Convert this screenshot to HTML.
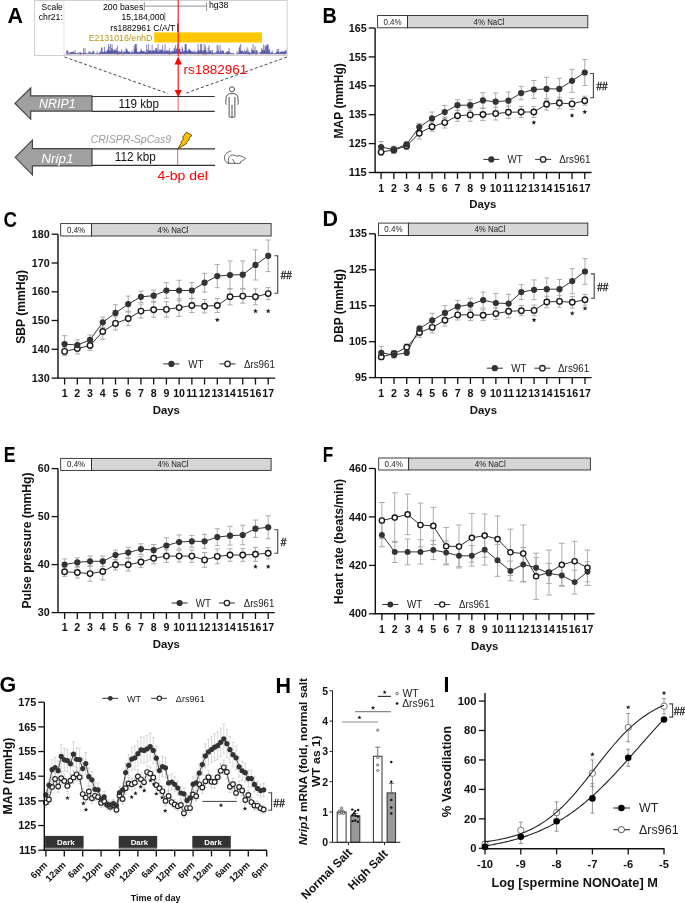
<!DOCTYPE html>
<html><head><meta charset="utf-8"><style>html,body{margin:0;padding:0;background:#fff;}svg{display:block;will-change:transform;}text{font-family:"Liberation Sans",sans-serif;}</style></head>
<body><svg width="685" height="903" viewBox="0 0 685 903" font-family='"Liberation Sans", sans-serif'>
<rect x="377.6" y="15.5" width="29.9" height="12.3" fill="#fff" stroke="#2a2a2a" stroke-width="0.9"/>
<rect x="407.5" y="15.5" width="180.3" height="12.3" fill="#d6d6d6" stroke="#2a2a2a" stroke-width="0.9"/>
<text x="392.55" y="24.55" font-size="8.6" font-weight="normal" text-anchor="middle" fill="#222" font-style="normal" textLength="18.2" lengthAdjust="spacingAndGlyphs">0.4%</text>
<text x="489.1" y="24.55" font-size="8.6" font-weight="normal" text-anchor="middle" fill="#222" font-style="normal" textLength="31" lengthAdjust="spacingAndGlyphs">4% NaCl</text>
<line x1="381.1" y1="141.5" x2="381.1" y2="152.5" stroke="#a4a4a4" stroke-width="0.9"/>
<line x1="378.5" y1="141.5" x2="383.7" y2="141.5" stroke="#a4a4a4" stroke-width="0.9"/>
<line x1="378.5" y1="152.5" x2="383.7" y2="152.5" stroke="#a4a4a4" stroke-width="0.9"/>
<line x1="393.83" y1="146.3" x2="393.83" y2="152.9" stroke="#a4a4a4" stroke-width="0.9"/>
<line x1="391.23" y1="146.3" x2="396.43" y2="146.3" stroke="#a4a4a4" stroke-width="0.9"/>
<line x1="391.23" y1="152.9" x2="396.43" y2="152.9" stroke="#a4a4a4" stroke-width="0.9"/>
<line x1="406.56" y1="142.2" x2="406.56" y2="146.6" stroke="#a4a4a4" stroke-width="0.9"/>
<line x1="403.96" y1="142.2" x2="409.16" y2="142.2" stroke="#a4a4a4" stroke-width="0.9"/>
<line x1="403.96" y1="146.6" x2="409.16" y2="146.6" stroke="#a4a4a4" stroke-width="0.9"/>
<line x1="419.29" y1="123.5" x2="419.29" y2="130.7" stroke="#a4a4a4" stroke-width="0.9"/>
<line x1="416.69" y1="123.5" x2="421.89" y2="123.5" stroke="#a4a4a4" stroke-width="0.9"/>
<line x1="416.69" y1="130.7" x2="421.89" y2="130.7" stroke="#a4a4a4" stroke-width="0.9"/>
<line x1="432.02" y1="112" x2="432.02" y2="124.8" stroke="#a4a4a4" stroke-width="0.9"/>
<line x1="429.42" y1="112" x2="434.62" y2="112" stroke="#a4a4a4" stroke-width="0.9"/>
<line x1="429.42" y1="124.8" x2="434.62" y2="124.8" stroke="#a4a4a4" stroke-width="0.9"/>
<line x1="444.75" y1="105.6" x2="444.75" y2="118.4" stroke="#a4a4a4" stroke-width="0.9"/>
<line x1="442.15" y1="105.6" x2="447.35" y2="105.6" stroke="#a4a4a4" stroke-width="0.9"/>
<line x1="442.15" y1="118.4" x2="447.35" y2="118.4" stroke="#a4a4a4" stroke-width="0.9"/>
<line x1="457.48" y1="99.8" x2="457.48" y2="110.6" stroke="#a4a4a4" stroke-width="0.9"/>
<line x1="454.88" y1="99.8" x2="460.08" y2="99.8" stroke="#a4a4a4" stroke-width="0.9"/>
<line x1="454.88" y1="110.6" x2="460.08" y2="110.6" stroke="#a4a4a4" stroke-width="0.9"/>
<line x1="470.21" y1="99.8" x2="470.21" y2="110.6" stroke="#a4a4a4" stroke-width="0.9"/>
<line x1="467.61" y1="99.8" x2="472.81" y2="99.8" stroke="#a4a4a4" stroke-width="0.9"/>
<line x1="467.61" y1="110.6" x2="472.81" y2="110.6" stroke="#a4a4a4" stroke-width="0.9"/>
<line x1="482.94" y1="92.7" x2="482.94" y2="108.1" stroke="#a4a4a4" stroke-width="0.9"/>
<line x1="480.34" y1="92.7" x2="485.54" y2="92.7" stroke="#a4a4a4" stroke-width="0.9"/>
<line x1="480.34" y1="108.1" x2="485.54" y2="108.1" stroke="#a4a4a4" stroke-width="0.9"/>
<line x1="495.67" y1="93" x2="495.67" y2="110.4" stroke="#a4a4a4" stroke-width="0.9"/>
<line x1="493.07" y1="93" x2="498.27" y2="93" stroke="#a4a4a4" stroke-width="0.9"/>
<line x1="493.07" y1="110.4" x2="498.27" y2="110.4" stroke="#a4a4a4" stroke-width="0.9"/>
<line x1="508.4" y1="92" x2="508.4" y2="109.4" stroke="#a4a4a4" stroke-width="0.9"/>
<line x1="505.8" y1="92" x2="511" y2="92" stroke="#a4a4a4" stroke-width="0.9"/>
<line x1="505.8" y1="109.4" x2="511" y2="109.4" stroke="#a4a4a4" stroke-width="0.9"/>
<line x1="521.13" y1="86.3" x2="521.13" y2="99.7" stroke="#a4a4a4" stroke-width="0.9"/>
<line x1="518.53" y1="86.3" x2="523.73" y2="86.3" stroke="#a4a4a4" stroke-width="0.9"/>
<line x1="518.53" y1="99.7" x2="523.73" y2="99.7" stroke="#a4a4a4" stroke-width="0.9"/>
<line x1="533.86" y1="80.5" x2="533.86" y2="98.5" stroke="#a4a4a4" stroke-width="0.9"/>
<line x1="531.26" y1="80.5" x2="536.46" y2="80.5" stroke="#a4a4a4" stroke-width="0.9"/>
<line x1="531.26" y1="98.5" x2="536.46" y2="98.5" stroke="#a4a4a4" stroke-width="0.9"/>
<line x1="546.59" y1="77.3" x2="546.59" y2="100.5" stroke="#a4a4a4" stroke-width="0.9"/>
<line x1="543.99" y1="77.3" x2="549.19" y2="77.3" stroke="#a4a4a4" stroke-width="0.9"/>
<line x1="543.99" y1="100.5" x2="549.19" y2="100.5" stroke="#a4a4a4" stroke-width="0.9"/>
<line x1="559.32" y1="78.3" x2="559.32" y2="99.5" stroke="#a4a4a4" stroke-width="0.9"/>
<line x1="556.72" y1="78.3" x2="561.92" y2="78.3" stroke="#a4a4a4" stroke-width="0.9"/>
<line x1="556.72" y1="99.5" x2="561.92" y2="99.5" stroke="#a4a4a4" stroke-width="0.9"/>
<line x1="572.05" y1="69.3" x2="572.05" y2="92.3" stroke="#a4a4a4" stroke-width="0.9"/>
<line x1="569.45" y1="69.3" x2="574.65" y2="69.3" stroke="#a4a4a4" stroke-width="0.9"/>
<line x1="569.45" y1="92.3" x2="574.65" y2="92.3" stroke="#a4a4a4" stroke-width="0.9"/>
<line x1="584.78" y1="59.5" x2="584.78" y2="85.5" stroke="#a4a4a4" stroke-width="0.9"/>
<line x1="582.18" y1="59.5" x2="587.38" y2="59.5" stroke="#a4a4a4" stroke-width="0.9"/>
<line x1="582.18" y1="85.5" x2="587.38" y2="85.5" stroke="#a4a4a4" stroke-width="0.9"/>
<line x1="381.1" y1="148.9" x2="381.1" y2="155.3" stroke="#a4a4a4" stroke-width="0.9"/>
<line x1="378.5" y1="148.9" x2="383.7" y2="148.9" stroke="#a4a4a4" stroke-width="0.9"/>
<line x1="378.5" y1="155.3" x2="383.7" y2="155.3" stroke="#a4a4a4" stroke-width="0.9"/>
<line x1="393.83" y1="146.4" x2="393.83" y2="153.4" stroke="#a4a4a4" stroke-width="0.9"/>
<line x1="391.23" y1="146.4" x2="396.43" y2="146.4" stroke="#a4a4a4" stroke-width="0.9"/>
<line x1="391.23" y1="153.4" x2="396.43" y2="153.4" stroke="#a4a4a4" stroke-width="0.9"/>
<line x1="406.56" y1="142.4" x2="406.56" y2="149.6" stroke="#a4a4a4" stroke-width="0.9"/>
<line x1="403.96" y1="142.4" x2="409.16" y2="142.4" stroke="#a4a4a4" stroke-width="0.9"/>
<line x1="403.96" y1="149.6" x2="409.16" y2="149.6" stroke="#a4a4a4" stroke-width="0.9"/>
<line x1="419.29" y1="127.4" x2="419.29" y2="139" stroke="#a4a4a4" stroke-width="0.9"/>
<line x1="416.69" y1="127.4" x2="421.89" y2="127.4" stroke="#a4a4a4" stroke-width="0.9"/>
<line x1="416.69" y1="139" x2="421.89" y2="139" stroke="#a4a4a4" stroke-width="0.9"/>
<line x1="432.02" y1="122.2" x2="432.02" y2="131.2" stroke="#a4a4a4" stroke-width="0.9"/>
<line x1="429.42" y1="122.2" x2="434.62" y2="122.2" stroke="#a4a4a4" stroke-width="0.9"/>
<line x1="429.42" y1="131.2" x2="434.62" y2="131.2" stroke="#a4a4a4" stroke-width="0.9"/>
<line x1="444.75" y1="117.2" x2="444.75" y2="128" stroke="#a4a4a4" stroke-width="0.9"/>
<line x1="442.15" y1="117.2" x2="447.35" y2="117.2" stroke="#a4a4a4" stroke-width="0.9"/>
<line x1="442.15" y1="128" x2="447.35" y2="128" stroke="#a4a4a4" stroke-width="0.9"/>
<line x1="457.48" y1="110.3" x2="457.48" y2="121.3" stroke="#a4a4a4" stroke-width="0.9"/>
<line x1="454.88" y1="110.3" x2="460.08" y2="110.3" stroke="#a4a4a4" stroke-width="0.9"/>
<line x1="454.88" y1="121.3" x2="460.08" y2="121.3" stroke="#a4a4a4" stroke-width="0.9"/>
<line x1="470.21" y1="108.5" x2="470.21" y2="121.3" stroke="#a4a4a4" stroke-width="0.9"/>
<line x1="467.61" y1="108.5" x2="472.81" y2="108.5" stroke="#a4a4a4" stroke-width="0.9"/>
<line x1="467.61" y1="121.3" x2="472.81" y2="121.3" stroke="#a4a4a4" stroke-width="0.9"/>
<line x1="482.94" y1="108.4" x2="482.94" y2="120.6" stroke="#a4a4a4" stroke-width="0.9"/>
<line x1="480.34" y1="108.4" x2="485.54" y2="108.4" stroke="#a4a4a4" stroke-width="0.9"/>
<line x1="480.34" y1="120.6" x2="485.54" y2="120.6" stroke="#a4a4a4" stroke-width="0.9"/>
<line x1="495.67" y1="107.2" x2="495.67" y2="120" stroke="#a4a4a4" stroke-width="0.9"/>
<line x1="493.07" y1="107.2" x2="498.27" y2="107.2" stroke="#a4a4a4" stroke-width="0.9"/>
<line x1="493.07" y1="120" x2="498.27" y2="120" stroke="#a4a4a4" stroke-width="0.9"/>
<line x1="508.4" y1="106.2" x2="508.4" y2="118.4" stroke="#a4a4a4" stroke-width="0.9"/>
<line x1="505.8" y1="106.2" x2="511" y2="106.2" stroke="#a4a4a4" stroke-width="0.9"/>
<line x1="505.8" y1="118.4" x2="511" y2="118.4" stroke="#a4a4a4" stroke-width="0.9"/>
<line x1="521.13" y1="106.6" x2="521.13" y2="117.4" stroke="#a4a4a4" stroke-width="0.9"/>
<line x1="518.53" y1="106.6" x2="523.73" y2="106.6" stroke="#a4a4a4" stroke-width="0.9"/>
<line x1="518.53" y1="117.4" x2="523.73" y2="117.4" stroke="#a4a4a4" stroke-width="0.9"/>
<line x1="533.86" y1="106.6" x2="533.86" y2="117.4" stroke="#a4a4a4" stroke-width="0.9"/>
<line x1="531.26" y1="106.6" x2="536.46" y2="106.6" stroke="#a4a4a4" stroke-width="0.9"/>
<line x1="531.26" y1="117.4" x2="536.46" y2="117.4" stroke="#a4a4a4" stroke-width="0.9"/>
<line x1="546.59" y1="98.6" x2="546.59" y2="110" stroke="#a4a4a4" stroke-width="0.9"/>
<line x1="543.99" y1="98.6" x2="549.19" y2="98.6" stroke="#a4a4a4" stroke-width="0.9"/>
<line x1="543.99" y1="110" x2="549.19" y2="110" stroke="#a4a4a4" stroke-width="0.9"/>
<line x1="559.32" y1="97.2" x2="559.32" y2="108.8" stroke="#a4a4a4" stroke-width="0.9"/>
<line x1="556.72" y1="97.2" x2="561.92" y2="97.2" stroke="#a4a4a4" stroke-width="0.9"/>
<line x1="556.72" y1="108.8" x2="561.92" y2="108.8" stroke="#a4a4a4" stroke-width="0.9"/>
<line x1="572.05" y1="98.4" x2="572.05" y2="109.4" stroke="#a4a4a4" stroke-width="0.9"/>
<line x1="569.45" y1="98.4" x2="574.65" y2="98.4" stroke="#a4a4a4" stroke-width="0.9"/>
<line x1="569.45" y1="109.4" x2="574.65" y2="109.4" stroke="#a4a4a4" stroke-width="0.9"/>
<line x1="584.78" y1="96.2" x2="584.78" y2="105.2" stroke="#a4a4a4" stroke-width="0.9"/>
<line x1="582.18" y1="96.2" x2="587.38" y2="96.2" stroke="#a4a4a4" stroke-width="0.9"/>
<line x1="582.18" y1="105.2" x2="587.38" y2="105.2" stroke="#a4a4a4" stroke-width="0.9"/>
<polyline points="381.1,152.1 393.83,149.9 406.56,146 419.29,133.2 432.02,126.7 444.75,122.6 457.48,115.8 470.21,114.9 482.94,114.5 495.67,113.6 508.4,112.3 521.13,112 533.86,112 546.59,104.3 559.32,103 572.05,103.9 584.78,100.7" fill="none" stroke="#333" stroke-width="1"/>
<polyline points="381.1,147 393.83,149.6 406.56,144.4 419.29,127.1 432.02,118.4 444.75,112 457.48,105.2 470.21,105.2 482.94,100.4 495.67,101.7 508.4,100.7 521.13,93 533.86,89.5 546.59,88.9 559.32,88.9 572.05,80.8 584.78,72.5" fill="none" stroke="#333" stroke-width="1"/>
<circle cx="381.1" cy="152.1" r="2.75" fill="#fff" stroke="#1a1a1a" stroke-width="1.4"/>
<circle cx="393.83" cy="149.9" r="2.75" fill="#fff" stroke="#1a1a1a" stroke-width="1.4"/>
<circle cx="406.56" cy="146" r="2.75" fill="#fff" stroke="#1a1a1a" stroke-width="1.4"/>
<circle cx="419.29" cy="133.2" r="2.75" fill="#fff" stroke="#1a1a1a" stroke-width="1.4"/>
<circle cx="432.02" cy="126.7" r="2.75" fill="#fff" stroke="#1a1a1a" stroke-width="1.4"/>
<circle cx="444.75" cy="122.6" r="2.75" fill="#fff" stroke="#1a1a1a" stroke-width="1.4"/>
<circle cx="457.48" cy="115.8" r="2.75" fill="#fff" stroke="#1a1a1a" stroke-width="1.4"/>
<circle cx="470.21" cy="114.9" r="2.75" fill="#fff" stroke="#1a1a1a" stroke-width="1.4"/>
<circle cx="482.94" cy="114.5" r="2.75" fill="#fff" stroke="#1a1a1a" stroke-width="1.4"/>
<circle cx="495.67" cy="113.6" r="2.75" fill="#fff" stroke="#1a1a1a" stroke-width="1.4"/>
<circle cx="508.4" cy="112.3" r="2.75" fill="#fff" stroke="#1a1a1a" stroke-width="1.4"/>
<circle cx="521.13" cy="112" r="2.75" fill="#fff" stroke="#1a1a1a" stroke-width="1.4"/>
<circle cx="533.86" cy="112" r="2.75" fill="#fff" stroke="#1a1a1a" stroke-width="1.4"/>
<circle cx="546.59" cy="104.3" r="2.75" fill="#fff" stroke="#1a1a1a" stroke-width="1.4"/>
<circle cx="559.32" cy="103" r="2.75" fill="#fff" stroke="#1a1a1a" stroke-width="1.4"/>
<circle cx="572.05" cy="103.9" r="2.75" fill="#fff" stroke="#1a1a1a" stroke-width="1.4"/>
<circle cx="584.78" cy="100.7" r="2.75" fill="#fff" stroke="#1a1a1a" stroke-width="1.4"/>
<circle cx="381.1" cy="147" r="3.1" fill="#333"/>
<circle cx="393.83" cy="149.6" r="3.1" fill="#333"/>
<circle cx="406.56" cy="144.4" r="3.1" fill="#333"/>
<circle cx="419.29" cy="127.1" r="3.1" fill="#333"/>
<circle cx="432.02" cy="118.4" r="3.1" fill="#333"/>
<circle cx="444.75" cy="112" r="3.1" fill="#333"/>
<circle cx="457.48" cy="105.2" r="3.1" fill="#333"/>
<circle cx="470.21" cy="105.2" r="3.1" fill="#333"/>
<circle cx="482.94" cy="100.4" r="3.1" fill="#333"/>
<circle cx="495.67" cy="101.7" r="3.1" fill="#333"/>
<circle cx="508.4" cy="100.7" r="3.1" fill="#333"/>
<circle cx="521.13" cy="93" r="3.1" fill="#333"/>
<circle cx="533.86" cy="89.5" r="3.1" fill="#333"/>
<circle cx="546.59" cy="88.9" r="3.1" fill="#333"/>
<circle cx="559.32" cy="88.9" r="3.1" fill="#333"/>
<circle cx="572.05" cy="80.8" r="3.1" fill="#333"/>
<circle cx="584.78" cy="72.5" r="3.1" fill="#333"/>
<path d="M375.1 28 L375.1 172.5 L591.6 172.5" fill="none" stroke="#111" stroke-width="1.4"/>
<line x1="368.7" y1="28" x2="375.1" y2="28" stroke="#111" stroke-width="1.3"/>
<text x="366.7" y="31.6" font-size="10.2" font-weight="bold" text-anchor="end" fill="#111" font-style="normal" textLength="17.85" lengthAdjust="spacingAndGlyphs">165</text>
<line x1="368.7" y1="56.9" x2="375.1" y2="56.9" stroke="#111" stroke-width="1.3"/>
<text x="366.7" y="60.5" font-size="10.2" font-weight="bold" text-anchor="end" fill="#111" font-style="normal" textLength="17.85" lengthAdjust="spacingAndGlyphs">155</text>
<line x1="368.7" y1="85.8" x2="375.1" y2="85.8" stroke="#111" stroke-width="1.3"/>
<text x="366.7" y="89.4" font-size="10.2" font-weight="bold" text-anchor="end" fill="#111" font-style="normal" textLength="17.85" lengthAdjust="spacingAndGlyphs">145</text>
<line x1="368.7" y1="114.7" x2="375.1" y2="114.7" stroke="#111" stroke-width="1.3"/>
<text x="366.7" y="118.3" font-size="10.2" font-weight="bold" text-anchor="end" fill="#111" font-style="normal" textLength="17.85" lengthAdjust="spacingAndGlyphs">135</text>
<line x1="368.7" y1="143.6" x2="375.1" y2="143.6" stroke="#111" stroke-width="1.3"/>
<text x="366.7" y="147.2" font-size="10.2" font-weight="bold" text-anchor="end" fill="#111" font-style="normal" textLength="17.85" lengthAdjust="spacingAndGlyphs">125</text>
<line x1="368.7" y1="172.5" x2="375.1" y2="172.5" stroke="#111" stroke-width="1.3"/>
<text x="366.7" y="176.1" font-size="10.2" font-weight="bold" text-anchor="end" fill="#111" font-style="normal" textLength="17.85" lengthAdjust="spacingAndGlyphs">115</text>
<line x1="381.1" y1="172.5" x2="381.1" y2="178.9" stroke="#111" stroke-width="1.3"/>
<line x1="393.83" y1="172.5" x2="393.83" y2="178.9" stroke="#111" stroke-width="1.3"/>
<line x1="406.56" y1="172.5" x2="406.56" y2="178.9" stroke="#111" stroke-width="1.3"/>
<line x1="419.29" y1="172.5" x2="419.29" y2="178.9" stroke="#111" stroke-width="1.3"/>
<line x1="432.02" y1="172.5" x2="432.02" y2="178.9" stroke="#111" stroke-width="1.3"/>
<line x1="444.75" y1="172.5" x2="444.75" y2="178.9" stroke="#111" stroke-width="1.3"/>
<line x1="457.48" y1="172.5" x2="457.48" y2="178.9" stroke="#111" stroke-width="1.3"/>
<line x1="470.21" y1="172.5" x2="470.21" y2="178.9" stroke="#111" stroke-width="1.3"/>
<line x1="482.94" y1="172.5" x2="482.94" y2="178.9" stroke="#111" stroke-width="1.3"/>
<line x1="495.67" y1="172.5" x2="495.67" y2="178.9" stroke="#111" stroke-width="1.3"/>
<line x1="508.4" y1="172.5" x2="508.4" y2="178.9" stroke="#111" stroke-width="1.3"/>
<line x1="521.13" y1="172.5" x2="521.13" y2="178.9" stroke="#111" stroke-width="1.3"/>
<line x1="533.86" y1="172.5" x2="533.86" y2="178.9" stroke="#111" stroke-width="1.3"/>
<line x1="546.59" y1="172.5" x2="546.59" y2="178.9" stroke="#111" stroke-width="1.3"/>
<line x1="559.32" y1="172.5" x2="559.32" y2="178.9" stroke="#111" stroke-width="1.3"/>
<line x1="572.05" y1="172.5" x2="572.05" y2="178.9" stroke="#111" stroke-width="1.3"/>
<line x1="584.78" y1="172.5" x2="584.78" y2="178.9" stroke="#111" stroke-width="1.3"/>
<text x="381.1" y="192" font-size="10.6" font-weight="bold" text-anchor="middle" fill="#111" font-style="normal">1</text>
<text x="393.83" y="192" font-size="10.6" font-weight="bold" text-anchor="middle" fill="#111" font-style="normal">2</text>
<text x="406.56" y="192" font-size="10.6" font-weight="bold" text-anchor="middle" fill="#111" font-style="normal">3</text>
<text x="419.29" y="192" font-size="10.6" font-weight="bold" text-anchor="middle" fill="#111" font-style="normal">4</text>
<text x="432.02" y="192" font-size="10.6" font-weight="bold" text-anchor="middle" fill="#111" font-style="normal">5</text>
<text x="444.75" y="192" font-size="10.6" font-weight="bold" text-anchor="middle" fill="#111" font-style="normal">6</text>
<text x="457.48" y="192" font-size="10.6" font-weight="bold" text-anchor="middle" fill="#111" font-style="normal">7</text>
<text x="470.21" y="192" font-size="10.6" font-weight="bold" text-anchor="middle" fill="#111" font-style="normal">8</text>
<text x="482.94" y="192" font-size="10.6" font-weight="bold" text-anchor="middle" fill="#111" font-style="normal">9</text>
<text x="495.67" y="192" font-size="10.6" font-weight="bold" text-anchor="middle" fill="#111" font-style="normal">10</text>
<text x="508.4" y="192" font-size="10.6" font-weight="bold" text-anchor="middle" fill="#111" font-style="normal">11</text>
<text x="521.13" y="192" font-size="10.6" font-weight="bold" text-anchor="middle" fill="#111" font-style="normal">12</text>
<text x="533.86" y="192" font-size="10.6" font-weight="bold" text-anchor="middle" fill="#111" font-style="normal">13</text>
<text x="546.59" y="192" font-size="10.6" font-weight="bold" text-anchor="middle" fill="#111" font-style="normal">14</text>
<text x="559.32" y="192" font-size="10.6" font-weight="bold" text-anchor="middle" fill="#111" font-style="normal">15</text>
<text x="572.05" y="192" font-size="10.6" font-weight="bold" text-anchor="middle" fill="#111" font-style="normal">16</text>
<text x="584.78" y="192" font-size="10.6" font-weight="bold" text-anchor="middle" fill="#111" font-style="normal">17</text>
<polygon points="533.86,119.98 534.53,121.58 536.26,121.72 534.94,122.85 535.34,124.54 533.86,123.63 532.38,124.54 532.78,122.85 531.46,121.72 533.19,121.58" fill="#222"/>
<polygon points="572.05,112.98 572.72,114.58 574.45,114.72 573.13,115.85 573.53,117.54 572.05,116.63 570.57,117.54 570.97,115.85 569.65,114.72 571.38,114.58" fill="#222"/>
<polygon points="584.78,109.48 585.45,111.08 587.18,111.22 585.86,112.35 586.26,114.04 584.78,113.13 583.3,114.04 583.7,112.35 582.38,111.22 584.11,111.08" fill="#222"/>
<path d="M590.1 73.5 H593.4 V97.7 H590.1" fill="none" stroke="#444" stroke-width="1.1"/>
<text x="596.4" y="90.4" font-size="10" font-weight="normal" text-anchor="start" fill="#111" font-style="normal" stroke="#111" stroke-width="0.3">##</text>
<line x1="483.3" y1="159.4" x2="499.3" y2="159.4" stroke="#333" stroke-width="1"/>
<circle cx="491.3" cy="159.4" r="3.1" fill="#333"/>
<line x1="535.1" y1="159.4" x2="551.1" y2="159.4" stroke="#333" stroke-width="1"/>
<circle cx="543.1" cy="159.4" r="2.7" fill="#fff" stroke="#222" stroke-width="1.3"/>
<text x="507.6" y="163.1" font-size="10.6" font-weight="normal" text-anchor="start" fill="#222" font-style="normal" textLength="15.2" lengthAdjust="spacingAndGlyphs">WT</text>
<text x="559.2" y="163.1" font-size="10.6" font-weight="normal" text-anchor="start" fill="#222" font-style="normal" textLength="31.3" lengthAdjust="spacingAndGlyphs">&#916;rs961</text>
<text transform="translate(343 100.8) rotate(-90)" x="0" y="0" font-size="12" font-weight="bold" text-anchor="middle" fill="#111" font-style="normal" textLength="75.3" lengthAdjust="spacingAndGlyphs">MAP (mmHg)</text>
<text x="482.8" y="207.9" font-size="11.5" font-weight="bold" text-anchor="middle" fill="#111" font-style="normal" textLength="27.3" lengthAdjust="spacingAndGlyphs">Days</text>
<rect x="60.7" y="223.6" width="30.8" height="12.4" fill="#fff" stroke="#2a2a2a" stroke-width="0.9"/>
<rect x="91.5" y="223.6" width="179.6" height="12.4" fill="#d6d6d6" stroke="#2a2a2a" stroke-width="0.9"/>
<text x="76.1" y="232.7" font-size="8.6" font-weight="normal" text-anchor="middle" fill="#222" font-style="normal" textLength="18.2" lengthAdjust="spacingAndGlyphs">0.4%</text>
<text x="173.1" y="232.7" font-size="8.6" font-weight="normal" text-anchor="middle" fill="#222" font-style="normal" textLength="31" lengthAdjust="spacingAndGlyphs">4% NaCl</text>
<line x1="64.6" y1="335.7" x2="64.6" y2="352.5" stroke="#a4a4a4" stroke-width="0.9"/>
<line x1="62" y1="335.7" x2="67.2" y2="335.7" stroke="#a4a4a4" stroke-width="0.9"/>
<line x1="62" y1="352.5" x2="67.2" y2="352.5" stroke="#a4a4a4" stroke-width="0.9"/>
<line x1="77.32" y1="339.9" x2="77.32" y2="350.3" stroke="#a4a4a4" stroke-width="0.9"/>
<line x1="74.72" y1="339.9" x2="79.92" y2="339.9" stroke="#a4a4a4" stroke-width="0.9"/>
<line x1="74.72" y1="350.3" x2="79.92" y2="350.3" stroke="#a4a4a4" stroke-width="0.9"/>
<line x1="90.05" y1="335" x2="90.05" y2="344.8" stroke="#a4a4a4" stroke-width="0.9"/>
<line x1="87.45" y1="335" x2="92.65" y2="335" stroke="#a4a4a4" stroke-width="0.9"/>
<line x1="87.45" y1="344.8" x2="92.65" y2="344.8" stroke="#a4a4a4" stroke-width="0.9"/>
<line x1="102.77" y1="317.1" x2="102.77" y2="327.5" stroke="#a4a4a4" stroke-width="0.9"/>
<line x1="100.17" y1="317.1" x2="105.37" y2="317.1" stroke="#a4a4a4" stroke-width="0.9"/>
<line x1="100.17" y1="327.5" x2="105.37" y2="327.5" stroke="#a4a4a4" stroke-width="0.9"/>
<line x1="115.5" y1="304.8" x2="115.5" y2="321" stroke="#a4a4a4" stroke-width="0.9"/>
<line x1="112.9" y1="304.8" x2="118.1" y2="304.8" stroke="#a4a4a4" stroke-width="0.9"/>
<line x1="112.9" y1="321" x2="118.1" y2="321" stroke="#a4a4a4" stroke-width="0.9"/>
<line x1="128.22" y1="296.1" x2="128.22" y2="312.1" stroke="#a4a4a4" stroke-width="0.9"/>
<line x1="125.62" y1="296.1" x2="130.82" y2="296.1" stroke="#a4a4a4" stroke-width="0.9"/>
<line x1="125.62" y1="312.1" x2="130.82" y2="312.1" stroke="#a4a4a4" stroke-width="0.9"/>
<line x1="140.95" y1="291.2" x2="140.95" y2="302.4" stroke="#a4a4a4" stroke-width="0.9"/>
<line x1="138.35" y1="291.2" x2="143.55" y2="291.2" stroke="#a4a4a4" stroke-width="0.9"/>
<line x1="138.35" y1="302.4" x2="143.55" y2="302.4" stroke="#a4a4a4" stroke-width="0.9"/>
<line x1="153.68" y1="290.1" x2="153.68" y2="301.3" stroke="#a4a4a4" stroke-width="0.9"/>
<line x1="151.08" y1="290.1" x2="156.28" y2="290.1" stroke="#a4a4a4" stroke-width="0.9"/>
<line x1="151.08" y1="301.3" x2="156.28" y2="301.3" stroke="#a4a4a4" stroke-width="0.9"/>
<line x1="166.4" y1="282.7" x2="166.4" y2="298.3" stroke="#a4a4a4" stroke-width="0.9"/>
<line x1="163.8" y1="282.7" x2="169" y2="282.7" stroke="#a4a4a4" stroke-width="0.9"/>
<line x1="163.8" y1="298.3" x2="169" y2="298.3" stroke="#a4a4a4" stroke-width="0.9"/>
<line x1="179.12" y1="280.3" x2="179.12" y2="300.7" stroke="#a4a4a4" stroke-width="0.9"/>
<line x1="176.53" y1="280.3" x2="181.72" y2="280.3" stroke="#a4a4a4" stroke-width="0.9"/>
<line x1="176.53" y1="300.7" x2="181.72" y2="300.7" stroke="#a4a4a4" stroke-width="0.9"/>
<line x1="191.85" y1="282.7" x2="191.85" y2="298.3" stroke="#a4a4a4" stroke-width="0.9"/>
<line x1="189.25" y1="282.7" x2="194.45" y2="282.7" stroke="#a4a4a4" stroke-width="0.9"/>
<line x1="189.25" y1="298.3" x2="194.45" y2="298.3" stroke="#a4a4a4" stroke-width="0.9"/>
<line x1="204.57" y1="273.3" x2="204.57" y2="292.1" stroke="#a4a4a4" stroke-width="0.9"/>
<line x1="201.97" y1="273.3" x2="207.17" y2="273.3" stroke="#a4a4a4" stroke-width="0.9"/>
<line x1="201.97" y1="292.1" x2="207.17" y2="292.1" stroke="#a4a4a4" stroke-width="0.9"/>
<line x1="217.3" y1="264.5" x2="217.3" y2="287.7" stroke="#a4a4a4" stroke-width="0.9"/>
<line x1="214.7" y1="264.5" x2="219.9" y2="264.5" stroke="#a4a4a4" stroke-width="0.9"/>
<line x1="214.7" y1="287.7" x2="219.9" y2="287.7" stroke="#a4a4a4" stroke-width="0.9"/>
<line x1="230.02" y1="261" x2="230.02" y2="289" stroke="#a4a4a4" stroke-width="0.9"/>
<line x1="227.42" y1="261" x2="232.62" y2="261" stroke="#a4a4a4" stroke-width="0.9"/>
<line x1="227.42" y1="289" x2="232.62" y2="289" stroke="#a4a4a4" stroke-width="0.9"/>
<line x1="242.75" y1="261" x2="242.75" y2="288.4" stroke="#a4a4a4" stroke-width="0.9"/>
<line x1="240.15" y1="261" x2="245.35" y2="261" stroke="#a4a4a4" stroke-width="0.9"/>
<line x1="240.15" y1="288.4" x2="245.35" y2="288.4" stroke="#a4a4a4" stroke-width="0.9"/>
<line x1="255.47" y1="249.8" x2="255.47" y2="280" stroke="#a4a4a4" stroke-width="0.9"/>
<line x1="252.88" y1="249.8" x2="258.07" y2="249.8" stroke="#a4a4a4" stroke-width="0.9"/>
<line x1="252.88" y1="280" x2="258.07" y2="280" stroke="#a4a4a4" stroke-width="0.9"/>
<line x1="268.2" y1="240" x2="268.2" y2="271.6" stroke="#a4a4a4" stroke-width="0.9"/>
<line x1="265.6" y1="240" x2="270.8" y2="240" stroke="#a4a4a4" stroke-width="0.9"/>
<line x1="265.6" y1="271.6" x2="270.8" y2="271.6" stroke="#a4a4a4" stroke-width="0.9"/>
<line x1="64.6" y1="347.2" x2="64.6" y2="355.6" stroke="#a4a4a4" stroke-width="0.9"/>
<line x1="62" y1="347.2" x2="67.2" y2="347.2" stroke="#a4a4a4" stroke-width="0.9"/>
<line x1="62" y1="355.6" x2="67.2" y2="355.6" stroke="#a4a4a4" stroke-width="0.9"/>
<line x1="77.32" y1="343.3" x2="77.32" y2="353.9" stroke="#a4a4a4" stroke-width="0.9"/>
<line x1="74.72" y1="343.3" x2="79.92" y2="343.3" stroke="#a4a4a4" stroke-width="0.9"/>
<line x1="74.72" y1="353.9" x2="79.92" y2="353.9" stroke="#a4a4a4" stroke-width="0.9"/>
<line x1="90.05" y1="340.6" x2="90.05" y2="350.4" stroke="#a4a4a4" stroke-width="0.9"/>
<line x1="87.45" y1="340.6" x2="92.65" y2="340.6" stroke="#a4a4a4" stroke-width="0.9"/>
<line x1="87.45" y1="350.4" x2="92.65" y2="350.4" stroke="#a4a4a4" stroke-width="0.9"/>
<line x1="102.77" y1="323.8" x2="102.77" y2="339.2" stroke="#a4a4a4" stroke-width="0.9"/>
<line x1="100.17" y1="323.8" x2="105.37" y2="323.8" stroke="#a4a4a4" stroke-width="0.9"/>
<line x1="100.17" y1="339.2" x2="105.37" y2="339.2" stroke="#a4a4a4" stroke-width="0.9"/>
<line x1="115.5" y1="316.8" x2="115.5" y2="330" stroke="#a4a4a4" stroke-width="0.9"/>
<line x1="112.9" y1="316.8" x2="118.1" y2="316.8" stroke="#a4a4a4" stroke-width="0.9"/>
<line x1="112.9" y1="330" x2="118.1" y2="330" stroke="#a4a4a4" stroke-width="0.9"/>
<line x1="128.22" y1="311.2" x2="128.22" y2="325.8" stroke="#a4a4a4" stroke-width="0.9"/>
<line x1="125.62" y1="311.2" x2="130.82" y2="311.2" stroke="#a4a4a4" stroke-width="0.9"/>
<line x1="125.62" y1="325.8" x2="130.82" y2="325.8" stroke="#a4a4a4" stroke-width="0.9"/>
<line x1="140.95" y1="304.1" x2="140.95" y2="318.1" stroke="#a4a4a4" stroke-width="0.9"/>
<line x1="138.35" y1="304.1" x2="143.55" y2="304.1" stroke="#a4a4a4" stroke-width="0.9"/>
<line x1="138.35" y1="318.1" x2="143.55" y2="318.1" stroke="#a4a4a4" stroke-width="0.9"/>
<line x1="153.68" y1="302.3" x2="153.68" y2="317.1" stroke="#a4a4a4" stroke-width="0.9"/>
<line x1="151.08" y1="302.3" x2="156.28" y2="302.3" stroke="#a4a4a4" stroke-width="0.9"/>
<line x1="151.08" y1="317.1" x2="156.28" y2="317.1" stroke="#a4a4a4" stroke-width="0.9"/>
<line x1="166.4" y1="301.7" x2="166.4" y2="317.1" stroke="#a4a4a4" stroke-width="0.9"/>
<line x1="163.8" y1="301.7" x2="169" y2="301.7" stroke="#a4a4a4" stroke-width="0.9"/>
<line x1="163.8" y1="317.1" x2="169" y2="317.1" stroke="#a4a4a4" stroke-width="0.9"/>
<line x1="179.12" y1="298.8" x2="179.12" y2="316.4" stroke="#a4a4a4" stroke-width="0.9"/>
<line x1="176.53" y1="298.8" x2="181.72" y2="298.8" stroke="#a4a4a4" stroke-width="0.9"/>
<line x1="176.53" y1="316.4" x2="181.72" y2="316.4" stroke="#a4a4a4" stroke-width="0.9"/>
<line x1="191.85" y1="298.5" x2="191.85" y2="312.5" stroke="#a4a4a4" stroke-width="0.9"/>
<line x1="189.25" y1="298.5" x2="194.45" y2="298.5" stroke="#a4a4a4" stroke-width="0.9"/>
<line x1="189.25" y1="312.5" x2="194.45" y2="312.5" stroke="#a4a4a4" stroke-width="0.9"/>
<line x1="204.57" y1="299.5" x2="204.57" y2="312.9" stroke="#a4a4a4" stroke-width="0.9"/>
<line x1="201.97" y1="299.5" x2="207.17" y2="299.5" stroke="#a4a4a4" stroke-width="0.9"/>
<line x1="201.97" y1="312.9" x2="207.17" y2="312.9" stroke="#a4a4a4" stroke-width="0.9"/>
<line x1="217.3" y1="298.5" x2="217.3" y2="312.5" stroke="#a4a4a4" stroke-width="0.9"/>
<line x1="214.7" y1="298.5" x2="219.9" y2="298.5" stroke="#a4a4a4" stroke-width="0.9"/>
<line x1="214.7" y1="312.5" x2="219.9" y2="312.5" stroke="#a4a4a4" stroke-width="0.9"/>
<line x1="230.02" y1="288.8" x2="230.02" y2="304.8" stroke="#a4a4a4" stroke-width="0.9"/>
<line x1="227.42" y1="288.8" x2="232.62" y2="288.8" stroke="#a4a4a4" stroke-width="0.9"/>
<line x1="227.42" y1="304.8" x2="232.62" y2="304.8" stroke="#a4a4a4" stroke-width="0.9"/>
<line x1="242.75" y1="289.1" x2="242.75" y2="303.1" stroke="#a4a4a4" stroke-width="0.9"/>
<line x1="240.15" y1="289.1" x2="245.35" y2="289.1" stroke="#a4a4a4" stroke-width="0.9"/>
<line x1="240.15" y1="303.1" x2="245.35" y2="303.1" stroke="#a4a4a4" stroke-width="0.9"/>
<line x1="255.47" y1="288.8" x2="255.47" y2="304.8" stroke="#a4a4a4" stroke-width="0.9"/>
<line x1="252.88" y1="288.8" x2="258.07" y2="288.8" stroke="#a4a4a4" stroke-width="0.9"/>
<line x1="252.88" y1="304.8" x2="258.07" y2="304.8" stroke="#a4a4a4" stroke-width="0.9"/>
<line x1="268.2" y1="287.6" x2="268.2" y2="299.6" stroke="#a4a4a4" stroke-width="0.9"/>
<line x1="265.6" y1="287.6" x2="270.8" y2="287.6" stroke="#a4a4a4" stroke-width="0.9"/>
<line x1="265.6" y1="299.6" x2="270.8" y2="299.6" stroke="#a4a4a4" stroke-width="0.9"/>
<polyline points="64.6,351.4 77.32,348.6 90.05,345.5 102.77,331.5 115.5,323.4 128.22,318.5 140.95,311.1 153.68,309.7 166.4,309.4 179.12,307.6 191.85,305.5 204.57,306.2 217.3,305.5 230.02,296.8 242.75,296.1 255.47,296.8 268.2,293.6" fill="none" stroke="#333" stroke-width="1"/>
<polyline points="64.6,344.1 77.32,345.1 90.05,339.9 102.77,322.3 115.5,312.9 128.22,304.1 140.95,296.8 153.68,295.7 166.4,290.5 179.12,290.5 191.85,290.5 204.57,282.7 217.3,276.1 230.02,275 242.75,274.7 255.47,264.9 268.2,255.8" fill="none" stroke="#333" stroke-width="1"/>
<circle cx="64.6" cy="351.4" r="2.75" fill="#fff" stroke="#1a1a1a" stroke-width="1.4"/>
<circle cx="77.32" cy="348.6" r="2.75" fill="#fff" stroke="#1a1a1a" stroke-width="1.4"/>
<circle cx="90.05" cy="345.5" r="2.75" fill="#fff" stroke="#1a1a1a" stroke-width="1.4"/>
<circle cx="102.77" cy="331.5" r="2.75" fill="#fff" stroke="#1a1a1a" stroke-width="1.4"/>
<circle cx="115.5" cy="323.4" r="2.75" fill="#fff" stroke="#1a1a1a" stroke-width="1.4"/>
<circle cx="128.22" cy="318.5" r="2.75" fill="#fff" stroke="#1a1a1a" stroke-width="1.4"/>
<circle cx="140.95" cy="311.1" r="2.75" fill="#fff" stroke="#1a1a1a" stroke-width="1.4"/>
<circle cx="153.68" cy="309.7" r="2.75" fill="#fff" stroke="#1a1a1a" stroke-width="1.4"/>
<circle cx="166.4" cy="309.4" r="2.75" fill="#fff" stroke="#1a1a1a" stroke-width="1.4"/>
<circle cx="179.12" cy="307.6" r="2.75" fill="#fff" stroke="#1a1a1a" stroke-width="1.4"/>
<circle cx="191.85" cy="305.5" r="2.75" fill="#fff" stroke="#1a1a1a" stroke-width="1.4"/>
<circle cx="204.57" cy="306.2" r="2.75" fill="#fff" stroke="#1a1a1a" stroke-width="1.4"/>
<circle cx="217.3" cy="305.5" r="2.75" fill="#fff" stroke="#1a1a1a" stroke-width="1.4"/>
<circle cx="230.02" cy="296.8" r="2.75" fill="#fff" stroke="#1a1a1a" stroke-width="1.4"/>
<circle cx="242.75" cy="296.1" r="2.75" fill="#fff" stroke="#1a1a1a" stroke-width="1.4"/>
<circle cx="255.47" cy="296.8" r="2.75" fill="#fff" stroke="#1a1a1a" stroke-width="1.4"/>
<circle cx="268.2" cy="293.6" r="2.75" fill="#fff" stroke="#1a1a1a" stroke-width="1.4"/>
<circle cx="64.6" cy="344.1" r="3.1" fill="#333"/>
<circle cx="77.32" cy="345.1" r="3.1" fill="#333"/>
<circle cx="90.05" cy="339.9" r="3.1" fill="#333"/>
<circle cx="102.77" cy="322.3" r="3.1" fill="#333"/>
<circle cx="115.5" cy="312.9" r="3.1" fill="#333"/>
<circle cx="128.22" cy="304.1" r="3.1" fill="#333"/>
<circle cx="140.95" cy="296.8" r="3.1" fill="#333"/>
<circle cx="153.68" cy="295.7" r="3.1" fill="#333"/>
<circle cx="166.4" cy="290.5" r="3.1" fill="#333"/>
<circle cx="179.12" cy="290.5" r="3.1" fill="#333"/>
<circle cx="191.85" cy="290.5" r="3.1" fill="#333"/>
<circle cx="204.57" cy="282.7" r="3.1" fill="#333"/>
<circle cx="217.3" cy="276.1" r="3.1" fill="#333"/>
<circle cx="230.02" cy="275" r="3.1" fill="#333"/>
<circle cx="242.75" cy="274.7" r="3.1" fill="#333"/>
<circle cx="255.47" cy="264.9" r="3.1" fill="#333"/>
<circle cx="268.2" cy="255.8" r="3.1" fill="#333"/>
<path d="M58 234.2 L58 378.1 L275.2 378.1" fill="none" stroke="#111" stroke-width="1.4"/>
<line x1="51.6" y1="234.2" x2="58" y2="234.2" stroke="#111" stroke-width="1.3"/>
<text x="49.6" y="237.8" font-size="10.2" font-weight="bold" text-anchor="end" fill="#111" font-style="normal" textLength="17.85" lengthAdjust="spacingAndGlyphs">180</text>
<line x1="51.6" y1="263" x2="58" y2="263" stroke="#111" stroke-width="1.3"/>
<text x="49.6" y="266.6" font-size="10.2" font-weight="bold" text-anchor="end" fill="#111" font-style="normal" textLength="17.85" lengthAdjust="spacingAndGlyphs">170</text>
<line x1="51.6" y1="291.8" x2="58" y2="291.8" stroke="#111" stroke-width="1.3"/>
<text x="49.6" y="295.4" font-size="10.2" font-weight="bold" text-anchor="end" fill="#111" font-style="normal" textLength="17.85" lengthAdjust="spacingAndGlyphs">160</text>
<line x1="51.6" y1="320.5" x2="58" y2="320.5" stroke="#111" stroke-width="1.3"/>
<text x="49.6" y="324.1" font-size="10.2" font-weight="bold" text-anchor="end" fill="#111" font-style="normal" textLength="17.85" lengthAdjust="spacingAndGlyphs">150</text>
<line x1="51.6" y1="349.3" x2="58" y2="349.3" stroke="#111" stroke-width="1.3"/>
<text x="49.6" y="352.9" font-size="10.2" font-weight="bold" text-anchor="end" fill="#111" font-style="normal" textLength="17.85" lengthAdjust="spacingAndGlyphs">140</text>
<line x1="51.6" y1="378.1" x2="58" y2="378.1" stroke="#111" stroke-width="1.3"/>
<text x="49.6" y="381.7" font-size="10.2" font-weight="bold" text-anchor="end" fill="#111" font-style="normal" textLength="17.85" lengthAdjust="spacingAndGlyphs">130</text>
<line x1="64.6" y1="378.1" x2="64.6" y2="384.5" stroke="#111" stroke-width="1.3"/>
<line x1="77.32" y1="378.1" x2="77.32" y2="384.5" stroke="#111" stroke-width="1.3"/>
<line x1="90.05" y1="378.1" x2="90.05" y2="384.5" stroke="#111" stroke-width="1.3"/>
<line x1="102.77" y1="378.1" x2="102.77" y2="384.5" stroke="#111" stroke-width="1.3"/>
<line x1="115.5" y1="378.1" x2="115.5" y2="384.5" stroke="#111" stroke-width="1.3"/>
<line x1="128.22" y1="378.1" x2="128.22" y2="384.5" stroke="#111" stroke-width="1.3"/>
<line x1="140.95" y1="378.1" x2="140.95" y2="384.5" stroke="#111" stroke-width="1.3"/>
<line x1="153.68" y1="378.1" x2="153.68" y2="384.5" stroke="#111" stroke-width="1.3"/>
<line x1="166.4" y1="378.1" x2="166.4" y2="384.5" stroke="#111" stroke-width="1.3"/>
<line x1="179.12" y1="378.1" x2="179.12" y2="384.5" stroke="#111" stroke-width="1.3"/>
<line x1="191.85" y1="378.1" x2="191.85" y2="384.5" stroke="#111" stroke-width="1.3"/>
<line x1="204.57" y1="378.1" x2="204.57" y2="384.5" stroke="#111" stroke-width="1.3"/>
<line x1="217.3" y1="378.1" x2="217.3" y2="384.5" stroke="#111" stroke-width="1.3"/>
<line x1="230.02" y1="378.1" x2="230.02" y2="384.5" stroke="#111" stroke-width="1.3"/>
<line x1="242.75" y1="378.1" x2="242.75" y2="384.5" stroke="#111" stroke-width="1.3"/>
<line x1="255.47" y1="378.1" x2="255.47" y2="384.5" stroke="#111" stroke-width="1.3"/>
<line x1="268.2" y1="378.1" x2="268.2" y2="384.5" stroke="#111" stroke-width="1.3"/>
<text x="64.6" y="396.9" font-size="10.6" font-weight="bold" text-anchor="middle" fill="#111" font-style="normal">1</text>
<text x="77.32" y="396.9" font-size="10.6" font-weight="bold" text-anchor="middle" fill="#111" font-style="normal">2</text>
<text x="90.05" y="396.9" font-size="10.6" font-weight="bold" text-anchor="middle" fill="#111" font-style="normal">3</text>
<text x="102.77" y="396.9" font-size="10.6" font-weight="bold" text-anchor="middle" fill="#111" font-style="normal">4</text>
<text x="115.5" y="396.9" font-size="10.6" font-weight="bold" text-anchor="middle" fill="#111" font-style="normal">5</text>
<text x="128.22" y="396.9" font-size="10.6" font-weight="bold" text-anchor="middle" fill="#111" font-style="normal">6</text>
<text x="140.95" y="396.9" font-size="10.6" font-weight="bold" text-anchor="middle" fill="#111" font-style="normal">7</text>
<text x="153.68" y="396.9" font-size="10.6" font-weight="bold" text-anchor="middle" fill="#111" font-style="normal">8</text>
<text x="166.4" y="396.9" font-size="10.6" font-weight="bold" text-anchor="middle" fill="#111" font-style="normal">9</text>
<text x="179.12" y="396.9" font-size="10.6" font-weight="bold" text-anchor="middle" fill="#111" font-style="normal">10</text>
<text x="191.85" y="396.9" font-size="10.6" font-weight="bold" text-anchor="middle" fill="#111" font-style="normal">11</text>
<text x="204.57" y="396.9" font-size="10.6" font-weight="bold" text-anchor="middle" fill="#111" font-style="normal">12</text>
<text x="217.3" y="396.9" font-size="10.6" font-weight="bold" text-anchor="middle" fill="#111" font-style="normal">13</text>
<text x="230.02" y="396.9" font-size="10.6" font-weight="bold" text-anchor="middle" fill="#111" font-style="normal">14</text>
<text x="242.75" y="396.9" font-size="10.6" font-weight="bold" text-anchor="middle" fill="#111" font-style="normal">15</text>
<text x="255.47" y="396.9" font-size="10.6" font-weight="bold" text-anchor="middle" fill="#111" font-style="normal">16</text>
<text x="268.2" y="396.9" font-size="10.6" font-weight="bold" text-anchor="middle" fill="#111" font-style="normal">17</text>
<polygon points="217.3,317.38 217.97,318.98 219.7,319.12 218.38,320.25 218.78,321.94 217.3,321.03 215.82,321.94 216.22,320.25 214.9,319.12 216.63,318.98" fill="#222"/>
<polygon points="255.47,308.58 256.14,310.18 257.87,310.32 256.55,311.45 256.96,313.14 255.47,312.23 253.99,313.14 254.4,311.45 253.08,310.32 254.81,310.18" fill="#222"/>
<polygon points="268.2,308.58 268.87,310.18 270.6,310.32 269.28,311.45 269.68,313.14 268.2,312.23 266.72,313.14 267.12,311.45 265.8,310.32 267.53,310.18" fill="#222"/>
<path d="M274.4 255.8 H277.7 V293.3 H274.4" fill="none" stroke="#444" stroke-width="1.1"/>
<text x="280.7" y="279.35" font-size="10" font-weight="normal" text-anchor="start" fill="#111" font-style="normal" stroke="#111" stroke-width="0.3">##</text>
<line x1="163.4" y1="363.9" x2="179.4" y2="363.9" stroke="#333" stroke-width="1"/>
<circle cx="171.4" cy="363.9" r="3.1" fill="#333"/>
<line x1="219.5" y1="363.9" x2="235.5" y2="363.9" stroke="#333" stroke-width="1"/>
<circle cx="227.5" cy="363.9" r="2.7" fill="#fff" stroke="#222" stroke-width="1.3"/>
<text x="188.3" y="367.6" font-size="10.6" font-weight="normal" text-anchor="start" fill="#222" font-style="normal" textLength="15.2" lengthAdjust="spacingAndGlyphs">WT</text>
<text x="243.9" y="367.6" font-size="10.6" font-weight="normal" text-anchor="start" fill="#222" font-style="normal" textLength="31" lengthAdjust="spacingAndGlyphs">&#916;rs961</text>
<text transform="translate(25.4 306.9) rotate(-90)" x="0" y="0" font-size="12" font-weight="bold" text-anchor="middle" fill="#111" font-style="normal" textLength="73.6" lengthAdjust="spacingAndGlyphs">SBP (mmHg)</text>
<text x="166.3" y="413.7" font-size="11.5" font-weight="bold" text-anchor="middle" fill="#111" font-style="normal" textLength="27.3" lengthAdjust="spacingAndGlyphs">Days</text>
<rect x="378.5" y="223.1" width="29.9" height="12.4" fill="#fff" stroke="#2a2a2a" stroke-width="0.9"/>
<rect x="408.4" y="223.1" width="179.4" height="12.4" fill="#d6d6d6" stroke="#2a2a2a" stroke-width="0.9"/>
<text x="393.45" y="232.2" font-size="8.6" font-weight="normal" text-anchor="middle" fill="#222" font-style="normal" textLength="18.2" lengthAdjust="spacingAndGlyphs">0.4%</text>
<text x="490" y="232.2" font-size="8.6" font-weight="normal" text-anchor="middle" fill="#222" font-style="normal" textLength="31" lengthAdjust="spacingAndGlyphs">4% NaCl</text>
<line x1="381.3" y1="346.3" x2="381.3" y2="359.3" stroke="#a4a4a4" stroke-width="0.9"/>
<line x1="378.7" y1="346.3" x2="383.9" y2="346.3" stroke="#a4a4a4" stroke-width="0.9"/>
<line x1="378.7" y1="359.3" x2="383.9" y2="359.3" stroke="#a4a4a4" stroke-width="0.9"/>
<line x1="394.03" y1="351.8" x2="394.03" y2="358.2" stroke="#a4a4a4" stroke-width="0.9"/>
<line x1="391.43" y1="351.8" x2="396.63" y2="351.8" stroke="#a4a4a4" stroke-width="0.9"/>
<line x1="391.43" y1="358.2" x2="396.63" y2="358.2" stroke="#a4a4a4" stroke-width="0.9"/>
<line x1="406.76" y1="350.5" x2="406.76" y2="355.1" stroke="#a4a4a4" stroke-width="0.9"/>
<line x1="404.16" y1="350.5" x2="409.36" y2="350.5" stroke="#a4a4a4" stroke-width="0.9"/>
<line x1="404.16" y1="355.1" x2="409.36" y2="355.1" stroke="#a4a4a4" stroke-width="0.9"/>
<line x1="419.49" y1="325.8" x2="419.49" y2="331.6" stroke="#a4a4a4" stroke-width="0.9"/>
<line x1="416.89" y1="325.8" x2="422.09" y2="325.8" stroke="#a4a4a4" stroke-width="0.9"/>
<line x1="416.89" y1="331.6" x2="422.09" y2="331.6" stroke="#a4a4a4" stroke-width="0.9"/>
<line x1="432.22" y1="313.3" x2="432.22" y2="327.3" stroke="#a4a4a4" stroke-width="0.9"/>
<line x1="429.62" y1="313.3" x2="434.82" y2="313.3" stroke="#a4a4a4" stroke-width="0.9"/>
<line x1="429.62" y1="327.3" x2="434.82" y2="327.3" stroke="#a4a4a4" stroke-width="0.9"/>
<line x1="444.95" y1="305.6" x2="444.95" y2="320.2" stroke="#a4a4a4" stroke-width="0.9"/>
<line x1="442.35" y1="305.6" x2="447.55" y2="305.6" stroke="#a4a4a4" stroke-width="0.9"/>
<line x1="442.35" y1="320.2" x2="447.55" y2="320.2" stroke="#a4a4a4" stroke-width="0.9"/>
<line x1="457.68" y1="300.4" x2="457.68" y2="312.6" stroke="#a4a4a4" stroke-width="0.9"/>
<line x1="455.08" y1="300.4" x2="460.28" y2="300.4" stroke="#a4a4a4" stroke-width="0.9"/>
<line x1="455.08" y1="312.6" x2="460.28" y2="312.6" stroke="#a4a4a4" stroke-width="0.9"/>
<line x1="470.41" y1="298.2" x2="470.41" y2="311" stroke="#a4a4a4" stroke-width="0.9"/>
<line x1="467.81" y1="298.2" x2="473.01" y2="298.2" stroke="#a4a4a4" stroke-width="0.9"/>
<line x1="467.81" y1="311" x2="473.01" y2="311" stroke="#a4a4a4" stroke-width="0.9"/>
<line x1="483.14" y1="292.1" x2="483.14" y2="308.1" stroke="#a4a4a4" stroke-width="0.9"/>
<line x1="480.54" y1="292.1" x2="485.74" y2="292.1" stroke="#a4a4a4" stroke-width="0.9"/>
<line x1="480.54" y1="308.1" x2="485.74" y2="308.1" stroke="#a4a4a4" stroke-width="0.9"/>
<line x1="495.87" y1="293.4" x2="495.87" y2="312.6" stroke="#a4a4a4" stroke-width="0.9"/>
<line x1="493.27" y1="293.4" x2="498.47" y2="293.4" stroke="#a4a4a4" stroke-width="0.9"/>
<line x1="493.27" y1="312.6" x2="498.47" y2="312.6" stroke="#a4a4a4" stroke-width="0.9"/>
<line x1="508.6" y1="294.3" x2="508.6" y2="312.9" stroke="#a4a4a4" stroke-width="0.9"/>
<line x1="506" y1="294.3" x2="511.2" y2="294.3" stroke="#a4a4a4" stroke-width="0.9"/>
<line x1="506" y1="312.9" x2="511.2" y2="312.9" stroke="#a4a4a4" stroke-width="0.9"/>
<line x1="521.33" y1="284.7" x2="521.33" y2="299.5" stroke="#a4a4a4" stroke-width="0.9"/>
<line x1="518.73" y1="284.7" x2="523.93" y2="284.7" stroke="#a4a4a4" stroke-width="0.9"/>
<line x1="518.73" y1="299.5" x2="523.93" y2="299.5" stroke="#a4a4a4" stroke-width="0.9"/>
<line x1="534.06" y1="279.9" x2="534.06" y2="299.7" stroke="#a4a4a4" stroke-width="0.9"/>
<line x1="531.46" y1="279.9" x2="536.66" y2="279.9" stroke="#a4a4a4" stroke-width="0.9"/>
<line x1="531.46" y1="299.7" x2="536.66" y2="299.7" stroke="#a4a4a4" stroke-width="0.9"/>
<line x1="546.79" y1="277.9" x2="546.79" y2="300.5" stroke="#a4a4a4" stroke-width="0.9"/>
<line x1="544.19" y1="277.9" x2="549.39" y2="277.9" stroke="#a4a4a4" stroke-width="0.9"/>
<line x1="544.19" y1="300.5" x2="549.39" y2="300.5" stroke="#a4a4a4" stroke-width="0.9"/>
<line x1="559.52" y1="279.5" x2="559.52" y2="298.9" stroke="#a4a4a4" stroke-width="0.9"/>
<line x1="556.92" y1="279.5" x2="562.12" y2="279.5" stroke="#a4a4a4" stroke-width="0.9"/>
<line x1="556.92" y1="298.9" x2="562.12" y2="298.9" stroke="#a4a4a4" stroke-width="0.9"/>
<line x1="572.25" y1="268.6" x2="572.25" y2="293.6" stroke="#a4a4a4" stroke-width="0.9"/>
<line x1="569.65" y1="268.6" x2="574.85" y2="268.6" stroke="#a4a4a4" stroke-width="0.9"/>
<line x1="569.65" y1="293.6" x2="574.85" y2="293.6" stroke="#a4a4a4" stroke-width="0.9"/>
<line x1="584.98" y1="258.7" x2="584.98" y2="284.3" stroke="#a4a4a4" stroke-width="0.9"/>
<line x1="582.38" y1="258.7" x2="587.58" y2="258.7" stroke="#a4a4a4" stroke-width="0.9"/>
<line x1="582.38" y1="284.3" x2="587.58" y2="284.3" stroke="#a4a4a4" stroke-width="0.9"/>
<line x1="381.3" y1="354.6" x2="381.3" y2="359.2" stroke="#a4a4a4" stroke-width="0.9"/>
<line x1="378.7" y1="354.6" x2="383.9" y2="354.6" stroke="#a4a4a4" stroke-width="0.9"/>
<line x1="378.7" y1="359.2" x2="383.9" y2="359.2" stroke="#a4a4a4" stroke-width="0.9"/>
<line x1="394.03" y1="350.5" x2="394.03" y2="356.9" stroke="#a4a4a4" stroke-width="0.9"/>
<line x1="391.43" y1="350.5" x2="396.63" y2="350.5" stroke="#a4a4a4" stroke-width="0.9"/>
<line x1="391.43" y1="356.9" x2="396.63" y2="356.9" stroke="#a4a4a4" stroke-width="0.9"/>
<line x1="406.76" y1="344.1" x2="406.76" y2="350.5" stroke="#a4a4a4" stroke-width="0.9"/>
<line x1="404.16" y1="344.1" x2="409.36" y2="344.1" stroke="#a4a4a4" stroke-width="0.9"/>
<line x1="404.16" y1="350.5" x2="409.36" y2="350.5" stroke="#a4a4a4" stroke-width="0.9"/>
<line x1="419.49" y1="327.7" x2="419.49" y2="337.3" stroke="#a4a4a4" stroke-width="0.9"/>
<line x1="416.89" y1="327.7" x2="422.09" y2="327.7" stroke="#a4a4a4" stroke-width="0.9"/>
<line x1="416.89" y1="337.3" x2="422.09" y2="337.3" stroke="#a4a4a4" stroke-width="0.9"/>
<line x1="432.22" y1="321.9" x2="432.22" y2="332.9" stroke="#a4a4a4" stroke-width="0.9"/>
<line x1="429.62" y1="321.9" x2="434.82" y2="321.9" stroke="#a4a4a4" stroke-width="0.9"/>
<line x1="429.62" y1="332.9" x2="434.82" y2="332.9" stroke="#a4a4a4" stroke-width="0.9"/>
<line x1="444.95" y1="314.5" x2="444.95" y2="326.1" stroke="#a4a4a4" stroke-width="0.9"/>
<line x1="442.35" y1="314.5" x2="447.55" y2="314.5" stroke="#a4a4a4" stroke-width="0.9"/>
<line x1="442.35" y1="326.1" x2="447.55" y2="326.1" stroke="#a4a4a4" stroke-width="0.9"/>
<line x1="457.68" y1="309.8" x2="457.68" y2="320" stroke="#a4a4a4" stroke-width="0.9"/>
<line x1="455.08" y1="309.8" x2="460.28" y2="309.8" stroke="#a4a4a4" stroke-width="0.9"/>
<line x1="455.08" y1="320" x2="460.28" y2="320" stroke="#a4a4a4" stroke-width="0.9"/>
<line x1="470.41" y1="309.2" x2="470.41" y2="320.6" stroke="#a4a4a4" stroke-width="0.9"/>
<line x1="467.81" y1="309.2" x2="473.01" y2="309.2" stroke="#a4a4a4" stroke-width="0.9"/>
<line x1="467.81" y1="320.6" x2="473.01" y2="320.6" stroke="#a4a4a4" stroke-width="0.9"/>
<line x1="483.14" y1="309.8" x2="483.14" y2="320.6" stroke="#a4a4a4" stroke-width="0.9"/>
<line x1="480.54" y1="309.8" x2="485.74" y2="309.8" stroke="#a4a4a4" stroke-width="0.9"/>
<line x1="480.54" y1="320.6" x2="485.74" y2="320.6" stroke="#a4a4a4" stroke-width="0.9"/>
<line x1="495.87" y1="307.8" x2="495.87" y2="319.4" stroke="#a4a4a4" stroke-width="0.9"/>
<line x1="493.27" y1="307.8" x2="498.47" y2="307.8" stroke="#a4a4a4" stroke-width="0.9"/>
<line x1="493.27" y1="319.4" x2="498.47" y2="319.4" stroke="#a4a4a4" stroke-width="0.9"/>
<line x1="508.6" y1="304.8" x2="508.6" y2="317.8" stroke="#a4a4a4" stroke-width="0.9"/>
<line x1="506" y1="304.8" x2="511.2" y2="304.8" stroke="#a4a4a4" stroke-width="0.9"/>
<line x1="506" y1="317.8" x2="511.2" y2="317.8" stroke="#a4a4a4" stroke-width="0.9"/>
<line x1="521.33" y1="305.6" x2="521.33" y2="315.8" stroke="#a4a4a4" stroke-width="0.9"/>
<line x1="518.73" y1="305.6" x2="523.93" y2="305.6" stroke="#a4a4a4" stroke-width="0.9"/>
<line x1="518.73" y1="315.8" x2="523.93" y2="315.8" stroke="#a4a4a4" stroke-width="0.9"/>
<line x1="534.06" y1="305" x2="534.06" y2="315.8" stroke="#a4a4a4" stroke-width="0.9"/>
<line x1="531.46" y1="305" x2="536.66" y2="305" stroke="#a4a4a4" stroke-width="0.9"/>
<line x1="531.46" y1="315.8" x2="536.66" y2="315.8" stroke="#a4a4a4" stroke-width="0.9"/>
<line x1="546.79" y1="296.2" x2="546.79" y2="307.8" stroke="#a4a4a4" stroke-width="0.9"/>
<line x1="544.19" y1="296.2" x2="549.39" y2="296.2" stroke="#a4a4a4" stroke-width="0.9"/>
<line x1="544.19" y1="307.8" x2="549.39" y2="307.8" stroke="#a4a4a4" stroke-width="0.9"/>
<line x1="559.52" y1="295.6" x2="559.52" y2="307.2" stroke="#a4a4a4" stroke-width="0.9"/>
<line x1="556.92" y1="295.6" x2="562.12" y2="295.6" stroke="#a4a4a4" stroke-width="0.9"/>
<line x1="556.92" y1="307.2" x2="562.12" y2="307.2" stroke="#a4a4a4" stroke-width="0.9"/>
<line x1="572.25" y1="296.5" x2="572.25" y2="308.1" stroke="#a4a4a4" stroke-width="0.9"/>
<line x1="569.65" y1="296.5" x2="574.85" y2="296.5" stroke="#a4a4a4" stroke-width="0.9"/>
<line x1="569.65" y1="308.1" x2="574.85" y2="308.1" stroke="#a4a4a4" stroke-width="0.9"/>
<line x1="584.98" y1="294.4" x2="584.98" y2="305.2" stroke="#a4a4a4" stroke-width="0.9"/>
<line x1="582.38" y1="294.4" x2="587.58" y2="294.4" stroke="#a4a4a4" stroke-width="0.9"/>
<line x1="582.38" y1="305.2" x2="587.58" y2="305.2" stroke="#a4a4a4" stroke-width="0.9"/>
<polyline points="381.3,356.9 394.03,353.7 406.76,347.3 419.49,332.5 432.22,327.4 444.95,320.3 457.68,314.9 470.41,314.9 483.14,315.2 495.87,313.6 508.6,311.3 521.33,310.7 534.06,310.4 546.79,302 559.52,301.4 572.25,302.3 584.98,299.8" fill="none" stroke="#333" stroke-width="1"/>
<polyline points="381.3,352.8 394.03,355 406.76,352.8 419.49,328.7 432.22,320.3 444.95,312.9 457.68,306.5 470.41,304.6 483.14,300.1 495.87,303 508.6,303.6 521.33,292.1 534.06,289.8 546.79,289.2 559.52,289.2 572.25,281.1 584.98,271.5" fill="none" stroke="#333" stroke-width="1"/>
<circle cx="381.3" cy="356.9" r="2.75" fill="#fff" stroke="#1a1a1a" stroke-width="1.4"/>
<circle cx="394.03" cy="353.7" r="2.75" fill="#fff" stroke="#1a1a1a" stroke-width="1.4"/>
<circle cx="406.76" cy="347.3" r="2.75" fill="#fff" stroke="#1a1a1a" stroke-width="1.4"/>
<circle cx="419.49" cy="332.5" r="2.75" fill="#fff" stroke="#1a1a1a" stroke-width="1.4"/>
<circle cx="432.22" cy="327.4" r="2.75" fill="#fff" stroke="#1a1a1a" stroke-width="1.4"/>
<circle cx="444.95" cy="320.3" r="2.75" fill="#fff" stroke="#1a1a1a" stroke-width="1.4"/>
<circle cx="457.68" cy="314.9" r="2.75" fill="#fff" stroke="#1a1a1a" stroke-width="1.4"/>
<circle cx="470.41" cy="314.9" r="2.75" fill="#fff" stroke="#1a1a1a" stroke-width="1.4"/>
<circle cx="483.14" cy="315.2" r="2.75" fill="#fff" stroke="#1a1a1a" stroke-width="1.4"/>
<circle cx="495.87" cy="313.6" r="2.75" fill="#fff" stroke="#1a1a1a" stroke-width="1.4"/>
<circle cx="508.6" cy="311.3" r="2.75" fill="#fff" stroke="#1a1a1a" stroke-width="1.4"/>
<circle cx="521.33" cy="310.7" r="2.75" fill="#fff" stroke="#1a1a1a" stroke-width="1.4"/>
<circle cx="534.06" cy="310.4" r="2.75" fill="#fff" stroke="#1a1a1a" stroke-width="1.4"/>
<circle cx="546.79" cy="302" r="2.75" fill="#fff" stroke="#1a1a1a" stroke-width="1.4"/>
<circle cx="559.52" cy="301.4" r="2.75" fill="#fff" stroke="#1a1a1a" stroke-width="1.4"/>
<circle cx="572.25" cy="302.3" r="2.75" fill="#fff" stroke="#1a1a1a" stroke-width="1.4"/>
<circle cx="584.98" cy="299.8" r="2.75" fill="#fff" stroke="#1a1a1a" stroke-width="1.4"/>
<circle cx="381.3" cy="352.8" r="3.1" fill="#333"/>
<circle cx="394.03" cy="355" r="3.1" fill="#333"/>
<circle cx="406.76" cy="352.8" r="3.1" fill="#333"/>
<circle cx="419.49" cy="328.7" r="3.1" fill="#333"/>
<circle cx="432.22" cy="320.3" r="3.1" fill="#333"/>
<circle cx="444.95" cy="312.9" r="3.1" fill="#333"/>
<circle cx="457.68" cy="306.5" r="3.1" fill="#333"/>
<circle cx="470.41" cy="304.6" r="3.1" fill="#333"/>
<circle cx="483.14" cy="300.1" r="3.1" fill="#333"/>
<circle cx="495.87" cy="303" r="3.1" fill="#333"/>
<circle cx="508.6" cy="303.6" r="3.1" fill="#333"/>
<circle cx="521.33" cy="292.1" r="3.1" fill="#333"/>
<circle cx="534.06" cy="289.8" r="3.1" fill="#333"/>
<circle cx="546.79" cy="289.2" r="3.1" fill="#333"/>
<circle cx="559.52" cy="289.2" r="3.1" fill="#333"/>
<circle cx="572.25" cy="281.1" r="3.1" fill="#333"/>
<circle cx="584.98" cy="271.5" r="3.1" fill="#333"/>
<path d="M375.3 233.8 L375.3 377.6 L591.6 377.6" fill="none" stroke="#111" stroke-width="1.4"/>
<line x1="368.9" y1="233.8" x2="375.3" y2="233.8" stroke="#111" stroke-width="1.3"/>
<text x="366.9" y="237.4" font-size="10.2" font-weight="bold" text-anchor="end" fill="#111" font-style="normal" textLength="17.85" lengthAdjust="spacingAndGlyphs">135</text>
<line x1="368.9" y1="269.8" x2="375.3" y2="269.8" stroke="#111" stroke-width="1.3"/>
<text x="366.9" y="273.4" font-size="10.2" font-weight="bold" text-anchor="end" fill="#111" font-style="normal" textLength="17.85" lengthAdjust="spacingAndGlyphs">125</text>
<line x1="368.9" y1="305.7" x2="375.3" y2="305.7" stroke="#111" stroke-width="1.3"/>
<text x="366.9" y="309.3" font-size="10.2" font-weight="bold" text-anchor="end" fill="#111" font-style="normal" textLength="17.85" lengthAdjust="spacingAndGlyphs">115</text>
<line x1="368.9" y1="341.7" x2="375.3" y2="341.7" stroke="#111" stroke-width="1.3"/>
<text x="366.9" y="345.3" font-size="10.2" font-weight="bold" text-anchor="end" fill="#111" font-style="normal" textLength="17.85" lengthAdjust="spacingAndGlyphs">105</text>
<line x1="368.9" y1="377.6" x2="375.3" y2="377.6" stroke="#111" stroke-width="1.3"/>
<text x="366.9" y="381.2" font-size="10.2" font-weight="bold" text-anchor="end" fill="#111" font-style="normal" textLength="11.9" lengthAdjust="spacingAndGlyphs">95</text>
<line x1="381.3" y1="377.6" x2="381.3" y2="384" stroke="#111" stroke-width="1.3"/>
<line x1="394.03" y1="377.6" x2="394.03" y2="384" stroke="#111" stroke-width="1.3"/>
<line x1="406.76" y1="377.6" x2="406.76" y2="384" stroke="#111" stroke-width="1.3"/>
<line x1="419.49" y1="377.6" x2="419.49" y2="384" stroke="#111" stroke-width="1.3"/>
<line x1="432.22" y1="377.6" x2="432.22" y2="384" stroke="#111" stroke-width="1.3"/>
<line x1="444.95" y1="377.6" x2="444.95" y2="384" stroke="#111" stroke-width="1.3"/>
<line x1="457.68" y1="377.6" x2="457.68" y2="384" stroke="#111" stroke-width="1.3"/>
<line x1="470.41" y1="377.6" x2="470.41" y2="384" stroke="#111" stroke-width="1.3"/>
<line x1="483.14" y1="377.6" x2="483.14" y2="384" stroke="#111" stroke-width="1.3"/>
<line x1="495.87" y1="377.6" x2="495.87" y2="384" stroke="#111" stroke-width="1.3"/>
<line x1="508.6" y1="377.6" x2="508.6" y2="384" stroke="#111" stroke-width="1.3"/>
<line x1="521.33" y1="377.6" x2="521.33" y2="384" stroke="#111" stroke-width="1.3"/>
<line x1="534.06" y1="377.6" x2="534.06" y2="384" stroke="#111" stroke-width="1.3"/>
<line x1="546.79" y1="377.6" x2="546.79" y2="384" stroke="#111" stroke-width="1.3"/>
<line x1="559.52" y1="377.6" x2="559.52" y2="384" stroke="#111" stroke-width="1.3"/>
<line x1="572.25" y1="377.6" x2="572.25" y2="384" stroke="#111" stroke-width="1.3"/>
<line x1="584.98" y1="377.6" x2="584.98" y2="384" stroke="#111" stroke-width="1.3"/>
<text x="381.3" y="396.9" font-size="10.6" font-weight="bold" text-anchor="middle" fill="#111" font-style="normal">1</text>
<text x="394.03" y="396.9" font-size="10.6" font-weight="bold" text-anchor="middle" fill="#111" font-style="normal">2</text>
<text x="406.76" y="396.9" font-size="10.6" font-weight="bold" text-anchor="middle" fill="#111" font-style="normal">3</text>
<text x="419.49" y="396.9" font-size="10.6" font-weight="bold" text-anchor="middle" fill="#111" font-style="normal">4</text>
<text x="432.22" y="396.9" font-size="10.6" font-weight="bold" text-anchor="middle" fill="#111" font-style="normal">5</text>
<text x="444.95" y="396.9" font-size="10.6" font-weight="bold" text-anchor="middle" fill="#111" font-style="normal">6</text>
<text x="457.68" y="396.9" font-size="10.6" font-weight="bold" text-anchor="middle" fill="#111" font-style="normal">7</text>
<text x="470.41" y="396.9" font-size="10.6" font-weight="bold" text-anchor="middle" fill="#111" font-style="normal">8</text>
<text x="483.14" y="396.9" font-size="10.6" font-weight="bold" text-anchor="middle" fill="#111" font-style="normal">9</text>
<text x="495.87" y="396.9" font-size="10.6" font-weight="bold" text-anchor="middle" fill="#111" font-style="normal">10</text>
<text x="508.6" y="396.9" font-size="10.6" font-weight="bold" text-anchor="middle" fill="#111" font-style="normal">11</text>
<text x="521.33" y="396.9" font-size="10.6" font-weight="bold" text-anchor="middle" fill="#111" font-style="normal">12</text>
<text x="534.06" y="396.9" font-size="10.6" font-weight="bold" text-anchor="middle" fill="#111" font-style="normal">13</text>
<text x="546.79" y="396.9" font-size="10.6" font-weight="bold" text-anchor="middle" fill="#111" font-style="normal">14</text>
<text x="559.52" y="396.9" font-size="10.6" font-weight="bold" text-anchor="middle" fill="#111" font-style="normal">15</text>
<text x="572.25" y="396.9" font-size="10.6" font-weight="bold" text-anchor="middle" fill="#111" font-style="normal">16</text>
<text x="584.98" y="396.9" font-size="10.6" font-weight="bold" text-anchor="middle" fill="#111" font-style="normal">17</text>
<polygon points="534.06,317.48 534.73,319.08 536.46,319.22 535.14,320.35 535.54,322.04 534.06,321.13 532.58,322.04 532.98,320.35 531.66,319.22 533.39,319.08" fill="#222"/>
<polygon points="572.25,310.78 572.92,312.38 574.65,312.52 573.33,313.65 573.73,315.34 572.25,314.43 570.77,315.34 571.17,313.65 569.85,312.52 571.58,312.38" fill="#222"/>
<polygon points="584.98,305.88 585.65,307.48 587.38,307.62 586.06,308.75 586.46,310.44 584.98,309.53 583.5,310.44 583.9,308.75 582.58,307.62 584.31,307.48" fill="#222"/>
<path d="M590.9 273.9 H594.2 V298.3 H590.9" fill="none" stroke="#444" stroke-width="1.1"/>
<text x="597.2" y="290.9" font-size="10" font-weight="normal" text-anchor="start" fill="#111" font-style="normal" stroke="#111" stroke-width="0.3">##</text>
<line x1="486.8" y1="368.2" x2="502.8" y2="368.2" stroke="#333" stroke-width="1"/>
<circle cx="494.8" cy="368.2" r="3.1" fill="#333"/>
<line x1="534.4" y1="368.2" x2="550.4" y2="368.2" stroke="#333" stroke-width="1"/>
<circle cx="542.4" cy="368.2" r="2.7" fill="#fff" stroke="#222" stroke-width="1.3"/>
<text x="511.3" y="371.9" font-size="10.6" font-weight="normal" text-anchor="start" fill="#222" font-style="normal" textLength="15.2" lengthAdjust="spacingAndGlyphs">WT</text>
<text x="558" y="371.9" font-size="10.6" font-weight="normal" text-anchor="start" fill="#222" font-style="normal" textLength="31.3" lengthAdjust="spacingAndGlyphs">&#916;rs961</text>
<text transform="translate(342.5 305.8) rotate(-90)" x="0" y="0" font-size="12" font-weight="bold" text-anchor="middle" fill="#111" font-style="normal" textLength="73.3" lengthAdjust="spacingAndGlyphs">DBP (mmHg)</text>
<text x="483.4" y="413.5" font-size="11.5" font-weight="bold" text-anchor="middle" fill="#111" font-style="normal" textLength="27.3" lengthAdjust="spacingAndGlyphs">Days</text>
<rect x="60.7" y="458.4" width="30.8" height="12" fill="#fff" stroke="#2a2a2a" stroke-width="0.9"/>
<rect x="91.5" y="458.4" width="179.6" height="12" fill="#d6d6d6" stroke="#2a2a2a" stroke-width="0.9"/>
<text x="76.1" y="467.3" font-size="8.6" font-weight="normal" text-anchor="middle" fill="#222" font-style="normal" textLength="18.2" lengthAdjust="spacingAndGlyphs">0.4%</text>
<text x="173.1" y="467.3" font-size="8.6" font-weight="normal" text-anchor="middle" fill="#222" font-style="normal" textLength="31" lengthAdjust="spacingAndGlyphs">4% NaCl</text>
<line x1="64.6" y1="558.9" x2="64.6" y2="570.1" stroke="#a4a4a4" stroke-width="0.9"/>
<line x1="62" y1="558.9" x2="67.2" y2="558.9" stroke="#a4a4a4" stroke-width="0.9"/>
<line x1="62" y1="570.1" x2="67.2" y2="570.1" stroke="#a4a4a4" stroke-width="0.9"/>
<line x1="77.32" y1="557.8" x2="77.32" y2="567" stroke="#a4a4a4" stroke-width="0.9"/>
<line x1="74.72" y1="557.8" x2="79.92" y2="557.8" stroke="#a4a4a4" stroke-width="0.9"/>
<line x1="74.72" y1="567" x2="79.92" y2="567" stroke="#a4a4a4" stroke-width="0.9"/>
<line x1="90.05" y1="556.1" x2="90.05" y2="566.5" stroke="#a4a4a4" stroke-width="0.9"/>
<line x1="87.45" y1="556.1" x2="92.65" y2="556.1" stroke="#a4a4a4" stroke-width="0.9"/>
<line x1="87.45" y1="566.5" x2="92.65" y2="566.5" stroke="#a4a4a4" stroke-width="0.9"/>
<line x1="102.77" y1="556.1" x2="102.77" y2="566.5" stroke="#a4a4a4" stroke-width="0.9"/>
<line x1="100.17" y1="556.1" x2="105.37" y2="556.1" stroke="#a4a4a4" stroke-width="0.9"/>
<line x1="100.17" y1="566.5" x2="105.37" y2="566.5" stroke="#a4a4a4" stroke-width="0.9"/>
<line x1="115.5" y1="550.1" x2="115.5" y2="559.9" stroke="#a4a4a4" stroke-width="0.9"/>
<line x1="112.9" y1="550.1" x2="118.1" y2="550.1" stroke="#a4a4a4" stroke-width="0.9"/>
<line x1="112.9" y1="559.9" x2="118.1" y2="559.9" stroke="#a4a4a4" stroke-width="0.9"/>
<line x1="128.22" y1="547.3" x2="128.22" y2="557.9" stroke="#a4a4a4" stroke-width="0.9"/>
<line x1="125.62" y1="547.3" x2="130.82" y2="547.3" stroke="#a4a4a4" stroke-width="0.9"/>
<line x1="125.62" y1="557.9" x2="130.82" y2="557.9" stroke="#a4a4a4" stroke-width="0.9"/>
<line x1="140.95" y1="543.8" x2="140.95" y2="554.4" stroke="#a4a4a4" stroke-width="0.9"/>
<line x1="138.35" y1="543.8" x2="143.55" y2="543.8" stroke="#a4a4a4" stroke-width="0.9"/>
<line x1="138.35" y1="554.4" x2="143.55" y2="554.4" stroke="#a4a4a4" stroke-width="0.9"/>
<line x1="153.68" y1="544.5" x2="153.68" y2="555.7" stroke="#a4a4a4" stroke-width="0.9"/>
<line x1="151.08" y1="544.5" x2="156.28" y2="544.5" stroke="#a4a4a4" stroke-width="0.9"/>
<line x1="151.08" y1="555.7" x2="156.28" y2="555.7" stroke="#a4a4a4" stroke-width="0.9"/>
<line x1="166.4" y1="537.8" x2="166.4" y2="553.2" stroke="#a4a4a4" stroke-width="0.9"/>
<line x1="163.8" y1="537.8" x2="169" y2="537.8" stroke="#a4a4a4" stroke-width="0.9"/>
<line x1="163.8" y1="553.2" x2="169" y2="553.2" stroke="#a4a4a4" stroke-width="0.9"/>
<line x1="179.12" y1="535" x2="179.12" y2="549" stroke="#a4a4a4" stroke-width="0.9"/>
<line x1="176.53" y1="535" x2="181.72" y2="535" stroke="#a4a4a4" stroke-width="0.9"/>
<line x1="176.53" y1="549" x2="181.72" y2="549" stroke="#a4a4a4" stroke-width="0.9"/>
<line x1="191.85" y1="535.4" x2="191.85" y2="547.2" stroke="#a4a4a4" stroke-width="0.9"/>
<line x1="189.25" y1="535.4" x2="194.45" y2="535.4" stroke="#a4a4a4" stroke-width="0.9"/>
<line x1="189.25" y1="547.2" x2="194.45" y2="547.2" stroke="#a4a4a4" stroke-width="0.9"/>
<line x1="204.57" y1="534.3" x2="204.57" y2="548.3" stroke="#a4a4a4" stroke-width="0.9"/>
<line x1="201.97" y1="534.3" x2="207.17" y2="534.3" stroke="#a4a4a4" stroke-width="0.9"/>
<line x1="201.97" y1="548.3" x2="207.17" y2="548.3" stroke="#a4a4a4" stroke-width="0.9"/>
<line x1="217.3" y1="528.7" x2="217.3" y2="545.5" stroke="#a4a4a4" stroke-width="0.9"/>
<line x1="214.7" y1="528.7" x2="219.9" y2="528.7" stroke="#a4a4a4" stroke-width="0.9"/>
<line x1="214.7" y1="545.5" x2="219.9" y2="545.5" stroke="#a4a4a4" stroke-width="0.9"/>
<line x1="230.02" y1="526.3" x2="230.02" y2="545.1" stroke="#a4a4a4" stroke-width="0.9"/>
<line x1="227.42" y1="526.3" x2="232.62" y2="526.3" stroke="#a4a4a4" stroke-width="0.9"/>
<line x1="227.42" y1="545.1" x2="232.62" y2="545.1" stroke="#a4a4a4" stroke-width="0.9"/>
<line x1="242.75" y1="525.2" x2="242.75" y2="544.8" stroke="#a4a4a4" stroke-width="0.9"/>
<line x1="240.15" y1="525.2" x2="245.35" y2="525.2" stroke="#a4a4a4" stroke-width="0.9"/>
<line x1="240.15" y1="544.8" x2="245.35" y2="544.8" stroke="#a4a4a4" stroke-width="0.9"/>
<line x1="255.47" y1="520" x2="255.47" y2="537.4" stroke="#a4a4a4" stroke-width="0.9"/>
<line x1="252.88" y1="520" x2="258.07" y2="520" stroke="#a4a4a4" stroke-width="0.9"/>
<line x1="252.88" y1="537.4" x2="258.07" y2="537.4" stroke="#a4a4a4" stroke-width="0.9"/>
<line x1="268.2" y1="515.8" x2="268.2" y2="538.8" stroke="#a4a4a4" stroke-width="0.9"/>
<line x1="265.6" y1="515.8" x2="270.8" y2="515.8" stroke="#a4a4a4" stroke-width="0.9"/>
<line x1="265.6" y1="538.8" x2="270.8" y2="538.8" stroke="#a4a4a4" stroke-width="0.9"/>
<line x1="64.6" y1="567.2" x2="64.6" y2="576.4" stroke="#a4a4a4" stroke-width="0.9"/>
<line x1="62" y1="567.2" x2="67.2" y2="567.2" stroke="#a4a4a4" stroke-width="0.9"/>
<line x1="62" y1="576.4" x2="67.2" y2="576.4" stroke="#a4a4a4" stroke-width="0.9"/>
<line x1="77.32" y1="566.9" x2="77.32" y2="578.1" stroke="#a4a4a4" stroke-width="0.9"/>
<line x1="74.72" y1="566.9" x2="79.92" y2="566.9" stroke="#a4a4a4" stroke-width="0.9"/>
<line x1="74.72" y1="578.1" x2="79.92" y2="578.1" stroke="#a4a4a4" stroke-width="0.9"/>
<line x1="90.05" y1="565.9" x2="90.05" y2="581.3" stroke="#a4a4a4" stroke-width="0.9"/>
<line x1="87.45" y1="565.9" x2="92.65" y2="565.9" stroke="#a4a4a4" stroke-width="0.9"/>
<line x1="87.45" y1="581.3" x2="92.65" y2="581.3" stroke="#a4a4a4" stroke-width="0.9"/>
<line x1="102.77" y1="563.1" x2="102.77" y2="579.9" stroke="#a4a4a4" stroke-width="0.9"/>
<line x1="100.17" y1="563.1" x2="105.37" y2="563.1" stroke="#a4a4a4" stroke-width="0.9"/>
<line x1="100.17" y1="579.9" x2="105.37" y2="579.9" stroke="#a4a4a4" stroke-width="0.9"/>
<line x1="115.5" y1="559.5" x2="115.5" y2="570.1" stroke="#a4a4a4" stroke-width="0.9"/>
<line x1="112.9" y1="559.5" x2="118.1" y2="559.5" stroke="#a4a4a4" stroke-width="0.9"/>
<line x1="112.9" y1="570.1" x2="118.1" y2="570.1" stroke="#a4a4a4" stroke-width="0.9"/>
<line x1="128.22" y1="558.5" x2="128.22" y2="571.1" stroke="#a4a4a4" stroke-width="0.9"/>
<line x1="125.62" y1="558.5" x2="130.82" y2="558.5" stroke="#a4a4a4" stroke-width="0.9"/>
<line x1="125.62" y1="571.1" x2="130.82" y2="571.1" stroke="#a4a4a4" stroke-width="0.9"/>
<line x1="140.95" y1="556.4" x2="140.95" y2="567.6" stroke="#a4a4a4" stroke-width="0.9"/>
<line x1="138.35" y1="556.4" x2="143.55" y2="556.4" stroke="#a4a4a4" stroke-width="0.9"/>
<line x1="138.35" y1="567.6" x2="143.55" y2="567.6" stroke="#a4a4a4" stroke-width="0.9"/>
<line x1="153.68" y1="552.6" x2="153.68" y2="563.8" stroke="#a4a4a4" stroke-width="0.9"/>
<line x1="151.08" y1="552.6" x2="156.28" y2="552.6" stroke="#a4a4a4" stroke-width="0.9"/>
<line x1="151.08" y1="563.8" x2="156.28" y2="563.8" stroke="#a4a4a4" stroke-width="0.9"/>
<line x1="166.4" y1="549.8" x2="166.4" y2="562.4" stroke="#a4a4a4" stroke-width="0.9"/>
<line x1="163.8" y1="549.8" x2="169" y2="549.8" stroke="#a4a4a4" stroke-width="0.9"/>
<line x1="163.8" y1="562.4" x2="169" y2="562.4" stroke="#a4a4a4" stroke-width="0.9"/>
<line x1="179.12" y1="550.2" x2="179.12" y2="562" stroke="#a4a4a4" stroke-width="0.9"/>
<line x1="176.53" y1="550.2" x2="181.72" y2="550.2" stroke="#a4a4a4" stroke-width="0.9"/>
<line x1="176.53" y1="562" x2="181.72" y2="562" stroke="#a4a4a4" stroke-width="0.9"/>
<line x1="191.85" y1="549.8" x2="191.85" y2="562.4" stroke="#a4a4a4" stroke-width="0.9"/>
<line x1="189.25" y1="549.8" x2="194.45" y2="549.8" stroke="#a4a4a4" stroke-width="0.9"/>
<line x1="189.25" y1="562.4" x2="194.45" y2="562.4" stroke="#a4a4a4" stroke-width="0.9"/>
<line x1="204.57" y1="552.5" x2="204.57" y2="567.3" stroke="#a4a4a4" stroke-width="0.9"/>
<line x1="201.97" y1="552.5" x2="207.17" y2="552.5" stroke="#a4a4a4" stroke-width="0.9"/>
<line x1="201.97" y1="567.3" x2="207.17" y2="567.3" stroke="#a4a4a4" stroke-width="0.9"/>
<line x1="217.3" y1="549" x2="217.3" y2="563.8" stroke="#a4a4a4" stroke-width="0.9"/>
<line x1="214.7" y1="549" x2="219.9" y2="549" stroke="#a4a4a4" stroke-width="0.9"/>
<line x1="214.7" y1="563.8" x2="219.9" y2="563.8" stroke="#a4a4a4" stroke-width="0.9"/>
<line x1="230.02" y1="548.7" x2="230.02" y2="561.3" stroke="#a4a4a4" stroke-width="0.9"/>
<line x1="227.42" y1="548.7" x2="232.62" y2="548.7" stroke="#a4a4a4" stroke-width="0.9"/>
<line x1="227.42" y1="561.3" x2="232.62" y2="561.3" stroke="#a4a4a4" stroke-width="0.9"/>
<line x1="242.75" y1="548.7" x2="242.75" y2="561.3" stroke="#a4a4a4" stroke-width="0.9"/>
<line x1="240.15" y1="548.7" x2="245.35" y2="548.7" stroke="#a4a4a4" stroke-width="0.9"/>
<line x1="240.15" y1="561.3" x2="245.35" y2="561.3" stroke="#a4a4a4" stroke-width="0.9"/>
<line x1="255.47" y1="547.3" x2="255.47" y2="561.3" stroke="#a4a4a4" stroke-width="0.9"/>
<line x1="252.88" y1="547.3" x2="258.07" y2="547.3" stroke="#a4a4a4" stroke-width="0.9"/>
<line x1="252.88" y1="561.3" x2="258.07" y2="561.3" stroke="#a4a4a4" stroke-width="0.9"/>
<line x1="268.2" y1="547.7" x2="268.2" y2="558.9" stroke="#a4a4a4" stroke-width="0.9"/>
<line x1="265.6" y1="547.7" x2="270.8" y2="547.7" stroke="#a4a4a4" stroke-width="0.9"/>
<line x1="265.6" y1="558.9" x2="270.8" y2="558.9" stroke="#a4a4a4" stroke-width="0.9"/>
<polyline points="64.6,571.8 77.32,572.5 90.05,573.6 102.77,571.5 115.5,564.8 128.22,564.8 140.95,562 153.68,558.2 166.4,556.1 179.12,556.1 191.85,556.1 204.57,559.9 217.3,556.4 230.02,555 242.75,555 255.47,554.3 268.2,553.3" fill="none" stroke="#333" stroke-width="1"/>
<polyline points="64.6,564.5 77.32,562.4 90.05,561.3 102.77,561.3 115.5,555 128.22,552.6 140.95,549.1 153.68,550.1 166.4,545.5 179.12,542 191.85,541.3 204.57,541.3 217.3,537.1 230.02,535.7 242.75,535 255.47,528.7 268.2,527.3" fill="none" stroke="#333" stroke-width="1"/>
<circle cx="64.6" cy="571.8" r="2.75" fill="#fff" stroke="#1a1a1a" stroke-width="1.4"/>
<circle cx="77.32" cy="572.5" r="2.75" fill="#fff" stroke="#1a1a1a" stroke-width="1.4"/>
<circle cx="90.05" cy="573.6" r="2.75" fill="#fff" stroke="#1a1a1a" stroke-width="1.4"/>
<circle cx="102.77" cy="571.5" r="2.75" fill="#fff" stroke="#1a1a1a" stroke-width="1.4"/>
<circle cx="115.5" cy="564.8" r="2.75" fill="#fff" stroke="#1a1a1a" stroke-width="1.4"/>
<circle cx="128.22" cy="564.8" r="2.75" fill="#fff" stroke="#1a1a1a" stroke-width="1.4"/>
<circle cx="140.95" cy="562" r="2.75" fill="#fff" stroke="#1a1a1a" stroke-width="1.4"/>
<circle cx="153.68" cy="558.2" r="2.75" fill="#fff" stroke="#1a1a1a" stroke-width="1.4"/>
<circle cx="166.4" cy="556.1" r="2.75" fill="#fff" stroke="#1a1a1a" stroke-width="1.4"/>
<circle cx="179.12" cy="556.1" r="2.75" fill="#fff" stroke="#1a1a1a" stroke-width="1.4"/>
<circle cx="191.85" cy="556.1" r="2.75" fill="#fff" stroke="#1a1a1a" stroke-width="1.4"/>
<circle cx="204.57" cy="559.9" r="2.75" fill="#fff" stroke="#1a1a1a" stroke-width="1.4"/>
<circle cx="217.3" cy="556.4" r="2.75" fill="#fff" stroke="#1a1a1a" stroke-width="1.4"/>
<circle cx="230.02" cy="555" r="2.75" fill="#fff" stroke="#1a1a1a" stroke-width="1.4"/>
<circle cx="242.75" cy="555" r="2.75" fill="#fff" stroke="#1a1a1a" stroke-width="1.4"/>
<circle cx="255.47" cy="554.3" r="2.75" fill="#fff" stroke="#1a1a1a" stroke-width="1.4"/>
<circle cx="268.2" cy="553.3" r="2.75" fill="#fff" stroke="#1a1a1a" stroke-width="1.4"/>
<circle cx="64.6" cy="564.5" r="3.1" fill="#333"/>
<circle cx="77.32" cy="562.4" r="3.1" fill="#333"/>
<circle cx="90.05" cy="561.3" r="3.1" fill="#333"/>
<circle cx="102.77" cy="561.3" r="3.1" fill="#333"/>
<circle cx="115.5" cy="555" r="3.1" fill="#333"/>
<circle cx="128.22" cy="552.6" r="3.1" fill="#333"/>
<circle cx="140.95" cy="549.1" r="3.1" fill="#333"/>
<circle cx="153.68" cy="550.1" r="3.1" fill="#333"/>
<circle cx="166.4" cy="545.5" r="3.1" fill="#333"/>
<circle cx="179.12" cy="542" r="3.1" fill="#333"/>
<circle cx="191.85" cy="541.3" r="3.1" fill="#333"/>
<circle cx="204.57" cy="541.3" r="3.1" fill="#333"/>
<circle cx="217.3" cy="537.1" r="3.1" fill="#333"/>
<circle cx="230.02" cy="535.7" r="3.1" fill="#333"/>
<circle cx="242.75" cy="535" r="3.1" fill="#333"/>
<circle cx="255.47" cy="528.7" r="3.1" fill="#333"/>
<circle cx="268.2" cy="527.3" r="3.1" fill="#333"/>
<path d="M58 468.6 L58 612.6 L274.8 612.6" fill="none" stroke="#111" stroke-width="1.4"/>
<line x1="51.6" y1="468.6" x2="58" y2="468.6" stroke="#111" stroke-width="1.3"/>
<text x="49.6" y="472.2" font-size="10.2" font-weight="bold" text-anchor="end" fill="#111" font-style="normal" textLength="11.9" lengthAdjust="spacingAndGlyphs">60</text>
<line x1="51.6" y1="516.6" x2="58" y2="516.6" stroke="#111" stroke-width="1.3"/>
<text x="49.6" y="520.2" font-size="10.2" font-weight="bold" text-anchor="end" fill="#111" font-style="normal" textLength="11.9" lengthAdjust="spacingAndGlyphs">50</text>
<line x1="51.6" y1="564.6" x2="58" y2="564.6" stroke="#111" stroke-width="1.3"/>
<text x="49.6" y="568.2" font-size="10.2" font-weight="bold" text-anchor="end" fill="#111" font-style="normal" textLength="11.9" lengthAdjust="spacingAndGlyphs">40</text>
<line x1="51.6" y1="612.6" x2="58" y2="612.6" stroke="#111" stroke-width="1.3"/>
<text x="49.6" y="616.2" font-size="10.2" font-weight="bold" text-anchor="end" fill="#111" font-style="normal" textLength="11.9" lengthAdjust="spacingAndGlyphs">30</text>
<line x1="64.6" y1="612.6" x2="64.6" y2="619" stroke="#111" stroke-width="1.3"/>
<line x1="77.32" y1="612.6" x2="77.32" y2="619" stroke="#111" stroke-width="1.3"/>
<line x1="90.05" y1="612.6" x2="90.05" y2="619" stroke="#111" stroke-width="1.3"/>
<line x1="102.77" y1="612.6" x2="102.77" y2="619" stroke="#111" stroke-width="1.3"/>
<line x1="115.5" y1="612.6" x2="115.5" y2="619" stroke="#111" stroke-width="1.3"/>
<line x1="128.22" y1="612.6" x2="128.22" y2="619" stroke="#111" stroke-width="1.3"/>
<line x1="140.95" y1="612.6" x2="140.95" y2="619" stroke="#111" stroke-width="1.3"/>
<line x1="153.68" y1="612.6" x2="153.68" y2="619" stroke="#111" stroke-width="1.3"/>
<line x1="166.4" y1="612.6" x2="166.4" y2="619" stroke="#111" stroke-width="1.3"/>
<line x1="179.12" y1="612.6" x2="179.12" y2="619" stroke="#111" stroke-width="1.3"/>
<line x1="191.85" y1="612.6" x2="191.85" y2="619" stroke="#111" stroke-width="1.3"/>
<line x1="204.57" y1="612.6" x2="204.57" y2="619" stroke="#111" stroke-width="1.3"/>
<line x1="217.3" y1="612.6" x2="217.3" y2="619" stroke="#111" stroke-width="1.3"/>
<line x1="230.02" y1="612.6" x2="230.02" y2="619" stroke="#111" stroke-width="1.3"/>
<line x1="242.75" y1="612.6" x2="242.75" y2="619" stroke="#111" stroke-width="1.3"/>
<line x1="255.47" y1="612.6" x2="255.47" y2="619" stroke="#111" stroke-width="1.3"/>
<line x1="268.2" y1="612.6" x2="268.2" y2="619" stroke="#111" stroke-width="1.3"/>
<text x="64.6" y="630.7" font-size="10.6" font-weight="bold" text-anchor="middle" fill="#111" font-style="normal">1</text>
<text x="77.32" y="630.7" font-size="10.6" font-weight="bold" text-anchor="middle" fill="#111" font-style="normal">2</text>
<text x="90.05" y="630.7" font-size="10.6" font-weight="bold" text-anchor="middle" fill="#111" font-style="normal">3</text>
<text x="102.77" y="630.7" font-size="10.6" font-weight="bold" text-anchor="middle" fill="#111" font-style="normal">4</text>
<text x="115.5" y="630.7" font-size="10.6" font-weight="bold" text-anchor="middle" fill="#111" font-style="normal">5</text>
<text x="128.22" y="630.7" font-size="10.6" font-weight="bold" text-anchor="middle" fill="#111" font-style="normal">6</text>
<text x="140.95" y="630.7" font-size="10.6" font-weight="bold" text-anchor="middle" fill="#111" font-style="normal">7</text>
<text x="153.68" y="630.7" font-size="10.6" font-weight="bold" text-anchor="middle" fill="#111" font-style="normal">8</text>
<text x="166.4" y="630.7" font-size="10.6" font-weight="bold" text-anchor="middle" fill="#111" font-style="normal">9</text>
<text x="179.12" y="630.7" font-size="10.6" font-weight="bold" text-anchor="middle" fill="#111" font-style="normal">10</text>
<text x="191.85" y="630.7" font-size="10.6" font-weight="bold" text-anchor="middle" fill="#111" font-style="normal">11</text>
<text x="204.57" y="630.7" font-size="10.6" font-weight="bold" text-anchor="middle" fill="#111" font-style="normal">12</text>
<text x="217.3" y="630.7" font-size="10.6" font-weight="bold" text-anchor="middle" fill="#111" font-style="normal">13</text>
<text x="230.02" y="630.7" font-size="10.6" font-weight="bold" text-anchor="middle" fill="#111" font-style="normal">14</text>
<text x="242.75" y="630.7" font-size="10.6" font-weight="bold" text-anchor="middle" fill="#111" font-style="normal">15</text>
<text x="255.47" y="630.7" font-size="10.6" font-weight="bold" text-anchor="middle" fill="#111" font-style="normal">16</text>
<text x="268.2" y="630.7" font-size="10.6" font-weight="bold" text-anchor="middle" fill="#111" font-style="normal">17</text>
<polygon points="255.47,564.08 256.14,565.68 257.87,565.82 256.55,566.95 256.96,568.64 255.47,567.73 253.99,568.64 254.4,566.95 253.08,565.82 254.81,565.68" fill="#222"/>
<polygon points="268.2,564.08 268.87,565.68 270.6,565.82 269.28,566.95 269.68,568.64 268.2,567.73 266.72,568.64 267.12,566.95 265.8,565.82 267.53,565.68" fill="#222"/>
<path d="M274.4 529.8 H277.7 V553.3 H274.4" fill="none" stroke="#444" stroke-width="1.1"/>
<text x="280.7" y="546.35" font-size="10" font-weight="normal" text-anchor="start" fill="#111" font-style="normal" stroke="#111" stroke-width="0.3">#</text>
<line x1="171.6" y1="603" x2="187.6" y2="603" stroke="#333" stroke-width="1"/>
<circle cx="179.6" cy="603" r="3.1" fill="#333"/>
<line x1="218.9" y1="603" x2="234.9" y2="603" stroke="#333" stroke-width="1"/>
<circle cx="226.9" cy="603" r="2.7" fill="#fff" stroke="#222" stroke-width="1.3"/>
<text x="195.7" y="606.7" font-size="10.6" font-weight="normal" text-anchor="start" fill="#222" font-style="normal" textLength="15.2" lengthAdjust="spacingAndGlyphs">WT</text>
<text x="243.7" y="606.7" font-size="10.6" font-weight="normal" text-anchor="start" fill="#222" font-style="normal" textLength="30.6" lengthAdjust="spacingAndGlyphs">&#916;rs961</text>
<text transform="translate(31.3 540.5) rotate(-90)" x="0" y="0" font-size="12" font-weight="bold" text-anchor="middle" fill="#111" font-style="normal" textLength="136" lengthAdjust="spacingAndGlyphs">Pulse pressure (mmHg)</text>
<text x="166.3" y="648.3" font-size="11.5" font-weight="bold" text-anchor="middle" fill="#111" font-style="normal" textLength="27.3" lengthAdjust="spacingAndGlyphs">Days</text>
<rect x="378.7" y="458" width="30" height="12" fill="#fff" stroke="#2a2a2a" stroke-width="0.9"/>
<rect x="408.7" y="458" width="181.7" height="12" fill="#d6d6d6" stroke="#2a2a2a" stroke-width="0.9"/>
<text x="393.7" y="466.9" font-size="8.6" font-weight="normal" text-anchor="middle" fill="#222" font-style="normal" textLength="18.2" lengthAdjust="spacingAndGlyphs">0.4%</text>
<text x="490.3" y="466.9" font-size="8.6" font-weight="normal" text-anchor="middle" fill="#222" font-style="normal" textLength="31" lengthAdjust="spacingAndGlyphs">4% NaCl</text>
<line x1="381.9" y1="523" x2="381.9" y2="546.8" stroke="#a4a4a4" stroke-width="0.9"/>
<line x1="379" y1="523" x2="384.8" y2="523" stroke="#a4a4a4" stroke-width="0.9"/>
<line x1="379" y1="546.8" x2="384.8" y2="546.8" stroke="#a4a4a4" stroke-width="0.9"/>
<line x1="394.75" y1="541.3" x2="394.75" y2="562.5" stroke="#a4a4a4" stroke-width="0.9"/>
<line x1="391.85" y1="541.3" x2="397.65" y2="541.3" stroke="#a4a4a4" stroke-width="0.9"/>
<line x1="391.85" y1="562.5" x2="397.65" y2="562.5" stroke="#a4a4a4" stroke-width="0.9"/>
<line x1="407.6" y1="539" x2="407.6" y2="564.8" stroke="#a4a4a4" stroke-width="0.9"/>
<line x1="404.7" y1="539" x2="410.5" y2="539" stroke="#a4a4a4" stroke-width="0.9"/>
<line x1="404.7" y1="564.8" x2="410.5" y2="564.8" stroke="#a4a4a4" stroke-width="0.9"/>
<line x1="420.45" y1="539.7" x2="420.45" y2="564.1" stroke="#a4a4a4" stroke-width="0.9"/>
<line x1="417.55" y1="539.7" x2="423.35" y2="539.7" stroke="#a4a4a4" stroke-width="0.9"/>
<line x1="417.55" y1="564.1" x2="423.35" y2="564.1" stroke="#a4a4a4" stroke-width="0.9"/>
<line x1="433.3" y1="540.4" x2="433.3" y2="559.6" stroke="#a4a4a4" stroke-width="0.9"/>
<line x1="430.4" y1="540.4" x2="436.2" y2="540.4" stroke="#a4a4a4" stroke-width="0.9"/>
<line x1="430.4" y1="559.6" x2="436.2" y2="559.6" stroke="#a4a4a4" stroke-width="0.9"/>
<line x1="446.15" y1="541.1" x2="446.15" y2="564.1" stroke="#a4a4a4" stroke-width="0.9"/>
<line x1="443.25" y1="541.1" x2="449.05" y2="541.1" stroke="#a4a4a4" stroke-width="0.9"/>
<line x1="443.25" y1="564.1" x2="449.05" y2="564.1" stroke="#a4a4a4" stroke-width="0.9"/>
<line x1="459" y1="544.9" x2="459" y2="566.7" stroke="#a4a4a4" stroke-width="0.9"/>
<line x1="456.1" y1="544.9" x2="461.9" y2="544.9" stroke="#a4a4a4" stroke-width="0.9"/>
<line x1="456.1" y1="566.7" x2="461.9" y2="566.7" stroke="#a4a4a4" stroke-width="0.9"/>
<line x1="471.85" y1="545.5" x2="471.85" y2="566.1" stroke="#a4a4a4" stroke-width="0.9"/>
<line x1="468.95" y1="545.5" x2="474.75" y2="545.5" stroke="#a4a4a4" stroke-width="0.9"/>
<line x1="468.95" y1="566.1" x2="474.75" y2="566.1" stroke="#a4a4a4" stroke-width="0.9"/>
<line x1="484.7" y1="534.3" x2="484.7" y2="565.1" stroke="#a4a4a4" stroke-width="0.9"/>
<line x1="481.8" y1="534.3" x2="487.6" y2="534.3" stroke="#a4a4a4" stroke-width="0.9"/>
<line x1="481.8" y1="565.1" x2="487.6" y2="565.1" stroke="#a4a4a4" stroke-width="0.9"/>
<line x1="497.55" y1="544.3" x2="497.55" y2="576.3" stroke="#a4a4a4" stroke-width="0.9"/>
<line x1="494.65" y1="544.3" x2="500.45" y2="544.3" stroke="#a4a4a4" stroke-width="0.9"/>
<line x1="494.65" y1="576.3" x2="500.45" y2="576.3" stroke="#a4a4a4" stroke-width="0.9"/>
<line x1="510.4" y1="561" x2="510.4" y2="580.8" stroke="#a4a4a4" stroke-width="0.9"/>
<line x1="507.5" y1="561" x2="513.3" y2="561" stroke="#a4a4a4" stroke-width="0.9"/>
<line x1="507.5" y1="580.8" x2="513.3" y2="580.8" stroke="#a4a4a4" stroke-width="0.9"/>
<line x1="523.25" y1="547.5" x2="523.25" y2="581.5" stroke="#a4a4a4" stroke-width="0.9"/>
<line x1="520.35" y1="547.5" x2="526.15" y2="547.5" stroke="#a4a4a4" stroke-width="0.9"/>
<line x1="520.35" y1="581.5" x2="526.15" y2="581.5" stroke="#a4a4a4" stroke-width="0.9"/>
<line x1="536.1" y1="557.7" x2="536.1" y2="577.7" stroke="#a4a4a4" stroke-width="0.9"/>
<line x1="533.2" y1="557.7" x2="539" y2="557.7" stroke="#a4a4a4" stroke-width="0.9"/>
<line x1="533.2" y1="577.7" x2="539" y2="577.7" stroke="#a4a4a4" stroke-width="0.9"/>
<line x1="548.95" y1="563.4" x2="548.95" y2="583.4" stroke="#a4a4a4" stroke-width="0.9"/>
<line x1="546.05" y1="563.4" x2="551.85" y2="563.4" stroke="#a4a4a4" stroke-width="0.9"/>
<line x1="546.05" y1="583.4" x2="551.85" y2="583.4" stroke="#a4a4a4" stroke-width="0.9"/>
<line x1="561.8" y1="565.4" x2="561.8" y2="585.4" stroke="#a4a4a4" stroke-width="0.9"/>
<line x1="558.9" y1="565.4" x2="564.7" y2="565.4" stroke="#a4a4a4" stroke-width="0.9"/>
<line x1="558.9" y1="585.4" x2="564.7" y2="585.4" stroke="#a4a4a4" stroke-width="0.9"/>
<line x1="574.65" y1="570.1" x2="574.65" y2="594.1" stroke="#a4a4a4" stroke-width="0.9"/>
<line x1="571.75" y1="570.1" x2="577.55" y2="570.1" stroke="#a4a4a4" stroke-width="0.9"/>
<line x1="571.75" y1="594.1" x2="577.55" y2="594.1" stroke="#a4a4a4" stroke-width="0.9"/>
<line x1="587.5" y1="561.8" x2="587.5" y2="581.8" stroke="#a4a4a4" stroke-width="0.9"/>
<line x1="584.6" y1="561.8" x2="590.4" y2="561.8" stroke="#a4a4a4" stroke-width="0.9"/>
<line x1="584.6" y1="581.8" x2="590.4" y2="581.8" stroke="#a4a4a4" stroke-width="0.9"/>
<line x1="381.9" y1="502.5" x2="381.9" y2="538.5" stroke="#a4a4a4" stroke-width="0.9"/>
<line x1="379" y1="502.5" x2="384.8" y2="502.5" stroke="#a4a4a4" stroke-width="0.9"/>
<line x1="379" y1="538.5" x2="384.8" y2="538.5" stroke="#a4a4a4" stroke-width="0.9"/>
<line x1="394.75" y1="492.8" x2="394.75" y2="542.4" stroke="#a4a4a4" stroke-width="0.9"/>
<line x1="391.85" y1="492.8" x2="397.65" y2="492.8" stroke="#a4a4a4" stroke-width="0.9"/>
<line x1="391.85" y1="542.4" x2="397.65" y2="542.4" stroke="#a4a4a4" stroke-width="0.9"/>
<line x1="407.6" y1="494.1" x2="407.6" y2="534.7" stroke="#a4a4a4" stroke-width="0.9"/>
<line x1="404.7" y1="494.1" x2="410.5" y2="494.1" stroke="#a4a4a4" stroke-width="0.9"/>
<line x1="404.7" y1="534.7" x2="410.5" y2="534.7" stroke="#a4a4a4" stroke-width="0.9"/>
<line x1="420.45" y1="503.1" x2="420.45" y2="546.9" stroke="#a4a4a4" stroke-width="0.9"/>
<line x1="417.55" y1="503.1" x2="423.35" y2="503.1" stroke="#a4a4a4" stroke-width="0.9"/>
<line x1="417.55" y1="546.9" x2="423.35" y2="546.9" stroke="#a4a4a4" stroke-width="0.9"/>
<line x1="433.3" y1="507.3" x2="433.3" y2="544.5" stroke="#a4a4a4" stroke-width="0.9"/>
<line x1="430.4" y1="507.3" x2="436.2" y2="507.3" stroke="#a4a4a4" stroke-width="0.9"/>
<line x1="430.4" y1="544.5" x2="436.2" y2="544.5" stroke="#a4a4a4" stroke-width="0.9"/>
<line x1="446.15" y1="527.5" x2="446.15" y2="564.9" stroke="#a4a4a4" stroke-width="0.9"/>
<line x1="443.25" y1="527.5" x2="449.05" y2="527.5" stroke="#a4a4a4" stroke-width="0.9"/>
<line x1="443.25" y1="564.9" x2="449.05" y2="564.9" stroke="#a4a4a4" stroke-width="0.9"/>
<line x1="459" y1="525" x2="459" y2="568" stroke="#a4a4a4" stroke-width="0.9"/>
<line x1="456.1" y1="525" x2="461.9" y2="525" stroke="#a4a4a4" stroke-width="0.9"/>
<line x1="456.1" y1="568" x2="461.9" y2="568" stroke="#a4a4a4" stroke-width="0.9"/>
<line x1="471.85" y1="513.4" x2="471.85" y2="562.2" stroke="#a4a4a4" stroke-width="0.9"/>
<line x1="468.95" y1="513.4" x2="474.75" y2="513.4" stroke="#a4a4a4" stroke-width="0.9"/>
<line x1="468.95" y1="562.2" x2="474.75" y2="562.2" stroke="#a4a4a4" stroke-width="0.9"/>
<line x1="484.7" y1="514" x2="484.7" y2="557.2" stroke="#a4a4a4" stroke-width="0.9"/>
<line x1="481.8" y1="514" x2="487.6" y2="514" stroke="#a4a4a4" stroke-width="0.9"/>
<line x1="481.8" y1="557.2" x2="487.6" y2="557.2" stroke="#a4a4a4" stroke-width="0.9"/>
<line x1="497.55" y1="516" x2="497.55" y2="562.2" stroke="#a4a4a4" stroke-width="0.9"/>
<line x1="494.65" y1="516" x2="500.45" y2="516" stroke="#a4a4a4" stroke-width="0.9"/>
<line x1="494.65" y1="562.2" x2="500.45" y2="562.2" stroke="#a4a4a4" stroke-width="0.9"/>
<line x1="510.4" y1="529.1" x2="510.4" y2="575.5" stroke="#a4a4a4" stroke-width="0.9"/>
<line x1="507.5" y1="529.1" x2="513.3" y2="529.1" stroke="#a4a4a4" stroke-width="0.9"/>
<line x1="507.5" y1="575.5" x2="513.3" y2="575.5" stroke="#a4a4a4" stroke-width="0.9"/>
<line x1="523.25" y1="525" x2="523.25" y2="582" stroke="#a4a4a4" stroke-width="0.9"/>
<line x1="520.35" y1="525" x2="526.15" y2="525" stroke="#a4a4a4" stroke-width="0.9"/>
<line x1="520.35" y1="582" x2="526.15" y2="582" stroke="#a4a4a4" stroke-width="0.9"/>
<line x1="536.1" y1="553.2" x2="536.1" y2="599.4" stroke="#a4a4a4" stroke-width="0.9"/>
<line x1="533.2" y1="553.2" x2="539" y2="553.2" stroke="#a4a4a4" stroke-width="0.9"/>
<line x1="533.2" y1="599.4" x2="539" y2="599.4" stroke="#a4a4a4" stroke-width="0.9"/>
<line x1="548.95" y1="550" x2="548.95" y2="595" stroke="#a4a4a4" stroke-width="0.9"/>
<line x1="546.05" y1="550" x2="551.85" y2="550" stroke="#a4a4a4" stroke-width="0.9"/>
<line x1="546.05" y1="595" x2="551.85" y2="595" stroke="#a4a4a4" stroke-width="0.9"/>
<line x1="561.8" y1="543.3" x2="561.8" y2="586.3" stroke="#a4a4a4" stroke-width="0.9"/>
<line x1="558.9" y1="543.3" x2="564.7" y2="543.3" stroke="#a4a4a4" stroke-width="0.9"/>
<line x1="558.9" y1="586.3" x2="564.7" y2="586.3" stroke="#a4a4a4" stroke-width="0.9"/>
<line x1="574.65" y1="541.3" x2="574.65" y2="581.1" stroke="#a4a4a4" stroke-width="0.9"/>
<line x1="571.75" y1="541.3" x2="577.55" y2="541.3" stroke="#a4a4a4" stroke-width="0.9"/>
<line x1="571.75" y1="581.1" x2="577.55" y2="581.1" stroke="#a4a4a4" stroke-width="0.9"/>
<line x1="587.5" y1="550" x2="587.5" y2="585.4" stroke="#a4a4a4" stroke-width="0.9"/>
<line x1="584.6" y1="550" x2="590.4" y2="550" stroke="#a4a4a4" stroke-width="0.9"/>
<line x1="584.6" y1="585.4" x2="590.4" y2="585.4" stroke="#a4a4a4" stroke-width="0.9"/>
<polyline points="381.9,520.5 394.75,517.6 407.6,514.4 420.45,525 433.3,525.9 446.15,546.2 459,546.5 471.85,537.8 484.7,535.6 497.55,539.1 510.4,552.3 523.25,553.5 536.1,576.3 548.95,572.5 561.8,564.8 574.65,561.2 587.5,567.7" fill="none" stroke="#333" stroke-width="1"/>
<polyline points="381.9,534.9 394.75,551.9 407.6,551.9 420.45,551.9 433.3,550 446.15,552.6 459,555.8 471.85,555.8 484.7,549.7 497.55,560.3 510.4,570.9 523.25,564.5 536.1,567.7 548.95,573.4 561.8,575.4 574.65,582.1 587.5,571.8" fill="none" stroke="#333" stroke-width="1"/>
<circle cx="381.9" cy="520.5" r="2.6" fill="#fff" stroke="#1a1a1a" stroke-width="1.4"/>
<circle cx="394.75" cy="517.6" r="2.6" fill="#fff" stroke="#1a1a1a" stroke-width="1.4"/>
<circle cx="407.6" cy="514.4" r="2.6" fill="#fff" stroke="#1a1a1a" stroke-width="1.4"/>
<circle cx="420.45" cy="525" r="2.6" fill="#fff" stroke="#1a1a1a" stroke-width="1.4"/>
<circle cx="433.3" cy="525.9" r="2.6" fill="#fff" stroke="#1a1a1a" stroke-width="1.4"/>
<circle cx="446.15" cy="546.2" r="2.6" fill="#fff" stroke="#1a1a1a" stroke-width="1.4"/>
<circle cx="459" cy="546.5" r="2.6" fill="#fff" stroke="#1a1a1a" stroke-width="1.4"/>
<circle cx="471.85" cy="537.8" r="2.6" fill="#fff" stroke="#1a1a1a" stroke-width="1.4"/>
<circle cx="484.7" cy="535.6" r="2.6" fill="#fff" stroke="#1a1a1a" stroke-width="1.4"/>
<circle cx="497.55" cy="539.1" r="2.6" fill="#fff" stroke="#1a1a1a" stroke-width="1.4"/>
<circle cx="510.4" cy="552.3" r="2.6" fill="#fff" stroke="#1a1a1a" stroke-width="1.4"/>
<circle cx="523.25" cy="553.5" r="2.6" fill="#fff" stroke="#1a1a1a" stroke-width="1.4"/>
<circle cx="536.1" cy="576.3" r="2.6" fill="#fff" stroke="#1a1a1a" stroke-width="1.4"/>
<circle cx="548.95" cy="572.5" r="2.6" fill="#fff" stroke="#1a1a1a" stroke-width="1.4"/>
<circle cx="561.8" cy="564.8" r="2.6" fill="#fff" stroke="#1a1a1a" stroke-width="1.4"/>
<circle cx="574.65" cy="561.2" r="2.6" fill="#fff" stroke="#1a1a1a" stroke-width="1.4"/>
<circle cx="587.5" cy="567.7" r="2.6" fill="#fff" stroke="#1a1a1a" stroke-width="1.4"/>
<circle cx="381.9" cy="534.9" r="2.95" fill="#333"/>
<circle cx="394.75" cy="551.9" r="2.95" fill="#333"/>
<circle cx="407.6" cy="551.9" r="2.95" fill="#333"/>
<circle cx="420.45" cy="551.9" r="2.95" fill="#333"/>
<circle cx="433.3" cy="550" r="2.95" fill="#333"/>
<circle cx="446.15" cy="552.6" r="2.95" fill="#333"/>
<circle cx="459" cy="555.8" r="2.95" fill="#333"/>
<circle cx="471.85" cy="555.8" r="2.95" fill="#333"/>
<circle cx="484.7" cy="549.7" r="2.95" fill="#333"/>
<circle cx="497.55" cy="560.3" r="2.95" fill="#333"/>
<circle cx="510.4" cy="570.9" r="2.95" fill="#333"/>
<circle cx="523.25" cy="564.5" r="2.95" fill="#333"/>
<circle cx="536.1" cy="567.7" r="2.95" fill="#333"/>
<circle cx="548.95" cy="573.4" r="2.95" fill="#333"/>
<circle cx="561.8" cy="575.4" r="2.95" fill="#333"/>
<circle cx="574.65" cy="582.1" r="2.95" fill="#333"/>
<circle cx="587.5" cy="571.8" r="2.95" fill="#333"/>
<path d="M375.3 468.5 L375.3 613.8 L594.6 613.8" fill="none" stroke="#111" stroke-width="1.4"/>
<line x1="368.9" y1="468.5" x2="375.3" y2="468.5" stroke="#111" stroke-width="1.3"/>
<text x="366.9" y="472.1" font-size="10.2" font-weight="bold" text-anchor="end" fill="#111" font-style="normal" textLength="17.85" lengthAdjust="spacingAndGlyphs">460</text>
<line x1="368.9" y1="516.9" x2="375.3" y2="516.9" stroke="#111" stroke-width="1.3"/>
<text x="366.9" y="520.5" font-size="10.2" font-weight="bold" text-anchor="end" fill="#111" font-style="normal" textLength="17.85" lengthAdjust="spacingAndGlyphs">440</text>
<line x1="368.9" y1="565.4" x2="375.3" y2="565.4" stroke="#111" stroke-width="1.3"/>
<text x="366.9" y="569" font-size="10.2" font-weight="bold" text-anchor="end" fill="#111" font-style="normal" textLength="17.85" lengthAdjust="spacingAndGlyphs">420</text>
<line x1="368.9" y1="613.8" x2="375.3" y2="613.8" stroke="#111" stroke-width="1.3"/>
<text x="366.9" y="617.4" font-size="10.2" font-weight="bold" text-anchor="end" fill="#111" font-style="normal" textLength="17.85" lengthAdjust="spacingAndGlyphs">400</text>
<line x1="381.9" y1="613.8" x2="381.9" y2="620.2" stroke="#111" stroke-width="1.3"/>
<line x1="394.75" y1="613.8" x2="394.75" y2="620.2" stroke="#111" stroke-width="1.3"/>
<line x1="407.6" y1="613.8" x2="407.6" y2="620.2" stroke="#111" stroke-width="1.3"/>
<line x1="420.45" y1="613.8" x2="420.45" y2="620.2" stroke="#111" stroke-width="1.3"/>
<line x1="433.3" y1="613.8" x2="433.3" y2="620.2" stroke="#111" stroke-width="1.3"/>
<line x1="446.15" y1="613.8" x2="446.15" y2="620.2" stroke="#111" stroke-width="1.3"/>
<line x1="459" y1="613.8" x2="459" y2="620.2" stroke="#111" stroke-width="1.3"/>
<line x1="471.85" y1="613.8" x2="471.85" y2="620.2" stroke="#111" stroke-width="1.3"/>
<line x1="484.7" y1="613.8" x2="484.7" y2="620.2" stroke="#111" stroke-width="1.3"/>
<line x1="497.55" y1="613.8" x2="497.55" y2="620.2" stroke="#111" stroke-width="1.3"/>
<line x1="510.4" y1="613.8" x2="510.4" y2="620.2" stroke="#111" stroke-width="1.3"/>
<line x1="523.25" y1="613.8" x2="523.25" y2="620.2" stroke="#111" stroke-width="1.3"/>
<line x1="536.1" y1="613.8" x2="536.1" y2="620.2" stroke="#111" stroke-width="1.3"/>
<line x1="548.95" y1="613.8" x2="548.95" y2="620.2" stroke="#111" stroke-width="1.3"/>
<line x1="561.8" y1="613.8" x2="561.8" y2="620.2" stroke="#111" stroke-width="1.3"/>
<line x1="574.65" y1="613.8" x2="574.65" y2="620.2" stroke="#111" stroke-width="1.3"/>
<line x1="587.5" y1="613.8" x2="587.5" y2="620.2" stroke="#111" stroke-width="1.3"/>
<text x="381.9" y="632.7" font-size="10.6" font-weight="bold" text-anchor="middle" fill="#111" font-style="normal">1</text>
<text x="394.75" y="632.7" font-size="10.6" font-weight="bold" text-anchor="middle" fill="#111" font-style="normal">2</text>
<text x="407.6" y="632.7" font-size="10.6" font-weight="bold" text-anchor="middle" fill="#111" font-style="normal">3</text>
<text x="420.45" y="632.7" font-size="10.6" font-weight="bold" text-anchor="middle" fill="#111" font-style="normal">4</text>
<text x="433.3" y="632.7" font-size="10.6" font-weight="bold" text-anchor="middle" fill="#111" font-style="normal">5</text>
<text x="446.15" y="632.7" font-size="10.6" font-weight="bold" text-anchor="middle" fill="#111" font-style="normal">6</text>
<text x="459" y="632.7" font-size="10.6" font-weight="bold" text-anchor="middle" fill="#111" font-style="normal">7</text>
<text x="471.85" y="632.7" font-size="10.6" font-weight="bold" text-anchor="middle" fill="#111" font-style="normal">8</text>
<text x="484.7" y="632.7" font-size="10.6" font-weight="bold" text-anchor="middle" fill="#111" font-style="normal">9</text>
<text x="497.55" y="632.7" font-size="10.6" font-weight="bold" text-anchor="middle" fill="#111" font-style="normal">10</text>
<text x="510.4" y="632.7" font-size="10.6" font-weight="bold" text-anchor="middle" fill="#111" font-style="normal">11</text>
<text x="523.25" y="632.7" font-size="10.6" font-weight="bold" text-anchor="middle" fill="#111" font-style="normal">12</text>
<text x="536.1" y="632.7" font-size="10.6" font-weight="bold" text-anchor="middle" fill="#111" font-style="normal">13</text>
<text x="548.95" y="632.7" font-size="10.6" font-weight="bold" text-anchor="middle" fill="#111" font-style="normal">14</text>
<text x="561.8" y="632.7" font-size="10.6" font-weight="bold" text-anchor="middle" fill="#111" font-style="normal">15</text>
<text x="574.65" y="632.7" font-size="10.6" font-weight="bold" text-anchor="middle" fill="#111" font-style="normal">16</text>
<text x="587.5" y="632.7" font-size="10.6" font-weight="bold" text-anchor="middle" fill="#111" font-style="normal">17</text>
<line x1="382.3" y1="604.5" x2="398.3" y2="604.5" stroke="#333" stroke-width="1"/>
<circle cx="390.3" cy="604.5" r="2.95" fill="#333"/>
<line x1="434.2" y1="604.5" x2="450.2" y2="604.5" stroke="#333" stroke-width="1"/>
<circle cx="442.2" cy="604.5" r="2.55" fill="#fff" stroke="#222" stroke-width="1.3"/>
<text x="407" y="608.2" font-size="10.6" font-weight="normal" text-anchor="start" fill="#222" font-style="normal" textLength="15.2" lengthAdjust="spacingAndGlyphs">WT</text>
<text x="459" y="608.2" font-size="10.6" font-weight="normal" text-anchor="start" fill="#222" font-style="normal" textLength="30.6" lengthAdjust="spacingAndGlyphs">&#916;rs961</text>
<text transform="translate(343.2 541.5) rotate(-90)" x="0" y="0" font-size="12" font-weight="bold" text-anchor="middle" fill="#111" font-style="normal" textLength="125.3" lengthAdjust="spacingAndGlyphs">Heart rate (beats/min)</text>
<text x="484.7" y="649.9" font-size="11.5" font-weight="bold" text-anchor="middle" fill="#111" font-style="normal" textLength="27.3" lengthAdjust="spacingAndGlyphs">Days</text>
<text transform="translate(7.5 23) scale(1 1)" font-size="21.5" font-weight="bold" fill="#000">A</text>
<text transform="translate(322.6 23) scale(0.92 1)" font-size="21.5" font-weight="bold" fill="#000">B</text>
<text transform="translate(3.6 227.4) scale(0.87 1)" font-size="21.5" font-weight="bold" fill="#000">C</text>
<text transform="translate(322.6 226.3) scale(1 1)" font-size="21.5" font-weight="bold" fill="#000">D</text>
<text transform="translate(3.7 461.8) scale(0.82 1)" font-size="21.5" font-weight="bold" fill="#000">E</text>
<text transform="translate(322.7 462.2) scale(0.8 1)" font-size="21.5" font-weight="bold" fill="#000">F</text>
<text transform="translate(-0.5 692.4) scale(1 1)" font-size="21.5" font-weight="bold" fill="#000">G</text>
<text transform="translate(275.6 693.4) scale(1 1)" font-size="21.5" font-weight="bold" fill="#000">H</text>
<text transform="translate(443.6 691.8) scale(1 1)" font-size="21.5" font-weight="bold" fill="#000">I</text>
<rect x="34.6" y="0.5" width="252.6" height="55" fill="#fff" stroke="#d0d0d0" stroke-width="1"/>
<line x1="63.9" y1="1" x2="63.9" y2="55" stroke="#f3c6c6" stroke-width="0.6"/>
<text x="62.8" y="9.9" font-size="9.6" font-weight="normal" text-anchor="end" fill="#000" font-style="normal" textLength="21.2" lengthAdjust="spacingAndGlyphs">Scale</text>
<text x="62.8" y="20.4" font-size="9.6" font-weight="normal" text-anchor="end" fill="#000" font-style="normal" textLength="24" lengthAdjust="spacingAndGlyphs">chr21:</text>
<text x="143.3" y="9.8" font-size="9.6" font-weight="normal" text-anchor="end" fill="#000" font-style="normal" textLength="40.3" lengthAdjust="spacingAndGlyphs">200 bases</text>
<line x1="144.3" y1="6.1" x2="206.6" y2="6.1" stroke="#777" stroke-width="0.8"/>
<line x1="144.3" y1="2.2" x2="144.3" y2="11" stroke="#777" stroke-width="0.8"/>
<line x1="206.6" y1="2.2" x2="206.6" y2="11" stroke="#777" stroke-width="0.8"/>
<text x="209" y="8.4" font-size="9.6" font-weight="normal" text-anchor="start" fill="#000" font-style="normal" textLength="19.5" lengthAdjust="spacingAndGlyphs">hg38</text>
<text x="164.2" y="20.4" font-size="9.6" font-weight="normal" text-anchor="end" fill="#000" font-style="normal" textLength="42.6" lengthAdjust="spacingAndGlyphs">15,184,000</text>
<line x1="164.8" y1="12.5" x2="164.8" y2="21" stroke="#444" stroke-width="0.7"/>
<text x="175.3" y="30.8" font-size="9.6" font-weight="normal" text-anchor="end" fill="#000" font-style="normal" textLength="65" lengthAdjust="spacingAndGlyphs">rs1882961 C/A/T</text>
<line x1="177.9" y1="23.5" x2="177.9" y2="32" stroke="#600" stroke-width="1.4"/>
<text x="152.3" y="41" font-size="9.6" font-weight="normal" text-anchor="end" fill="#b8960b" font-style="normal" textLength="63.6" lengthAdjust="spacingAndGlyphs">E2131016/enhD</text>
<rect x="154.2" y="32.4" width="107.8" height="10.1" fill="#ffc800"/>
<path d="M66.6 54 V51.09 M67.1 54 V50.05 M67.6 54 V52.56 M68.1 54 V50.76 M69.1 54 V53.18 M69.6 54 V52.8 M70.1 54 V52.57 M70.6 54 V52.46 M71.1 54 V51.78 M71.6 54 V52.17 M72.1 54 V52 M72.6 54 V52.29 M73.1 54 V51.46 M73.6 54 V51.66 M74.1 54 V52.38 M74.6 54 V53.04 M75.1 54 V49.91 M75.6 54 V52.82 M76.1 54 V53.41 M76.6 54 V53.32 M77.1 54 V53.14 M77.6 54 V53.19 M78.1 54 V53.01 M78.6 54 V53.42 M79.1 54 V51.96 M80.1 54 V52.19 M80.6 54 V52.14 M81.1 54 V53.27 M81.6 54 V53.32 M82.1 54 V53.13 M82.6 54 V52.85 M83.1 54 V53.19 M83.6 54 V48.09 M84.1 54 V52.85 M84.6 54 V52.87 M85.1 54 V48.4 M85.6 54 V52.91 M86.1 54 V53.06 M86.6 54 V53.49 M87.1 54 V53.36 M87.6 54 V53.28 M88.6 54 V51.58 M89.6 54 V51.75 M90.1 54 V51.37 M90.6 54 V53.32 M91.1 54 V52.69 M91.6 54 V52.92 M92.1 54 V52.67 M92.6 54 V52.49 M93.1 54 V50.51 M93.6 54 V51.63 M94.1 54 V51.72 M95.6 54 V53.49 M96.1 54 V53.43 M96.6 54 V53.22 M97.1 54 V51.29 M97.6 54 V53.31 M98.6 54 V53.36 M99.1 54 V53.4 M99.6 54 V51.8 M100.1 54 V53.2 M100.6 54 V50.88 M101.1 54 V52.63 M101.6 54 V47.59 M102.1 54 V47.56 M102.6 54 V52.24 M103.1 54 V52.11 M103.6 54 V52.28 M104.1 54 V51.35 M104.6 54 V46.78 M105.1 54 V51.47 M105.6 54 V52.11 M106.1 54 V51.89 M106.6 54 V51.62 M107.1 54 V49.71 M107.6 54 V50.69 M108.1 54 V49.63 M108.6 54 V44 M109.1 54 V46.19 M109.6 54 V50.77 M110.1 54 V50.49 M110.6 54 V44 M111.1 54 V51.06 M111.6 54 V48.14 M112.1 54 V44 M112.6 54 V48.81 M113.1 54 V51.58 M113.6 54 V50.78 M114.1 54 V49.04 M114.6 54 V50.14 M115.1 54 V50.77 M115.6 54 V50.14 M116.1 54 V48.2 M116.6 54 V50.52 M117.1 54 V50.99 M117.6 54 V45.71 M118.1 54 V51.39 M118.6 54 V51.98 M119.1 54 V52.57 M119.6 54 V50.89 M120.1 54 V52.68 M120.6 54 V51.86 M121.1 54 V51.6 M121.6 54 V49.16 M122.1 54 V51.04 M122.6 54 V53.31 M123.1 54 V53.02 M123.6 54 V52.08 M124.1 54 V50.22 M124.6 54 V52.11 M125.1 54 V52.54 M125.6 54 V51.32 M126.1 54 V47.62 M126.6 54 V49.14 M127.1 54 V49.34 M127.6 54 V50.92 M128.1 54 V51.59 M128.6 54 V51.5 M129.1 54 V51.68 M129.6 54 V51.82 M130.1 54 V52.75 M130.6 54 V52.85 M131.1 54 V51.22 M131.6 54 V53.09 M132.1 54 V50.48 M132.6 54 V52.71 M133.1 54 V52.63 M133.6 54 V52.02 M134.1 54 V45.73 M134.6 54 V49.73 M135.1 54 V44 M135.6 54 V44 M136.1 54 V48.47 M136.6 54 V44 M137.1 54 V51.64 M137.6 54 V51.86 M138.1 54 V51.62 M138.6 54 V53.04 M139.1 54 V52.02 M139.6 54 V51.62 M140.1 54 V50.87 M140.6 54 V51.71 M141.1 54 V48.72 M141.6 54 V50.02 M142.1 54 V51.47 M142.6 54 V51 M143.1 54 V51.89 M143.6 54 V50.97 M144.1 54 V51.69 M144.6 54 V51.25 M145.1 54 V53.08 M145.6 54 V52.3 M146.1 54 V50.75 M146.6 54 V44.76 M147.1 54 V52.2 M147.6 54 V49.27 M148.1 54 V51.72 M148.6 54 V44.13 M149.1 54 V50.93 M149.6 54 V50.38 M150.1 54 V50.7 M150.6 54 V50.05 M151.1 54 V51.45 M151.6 54 V51.48 M152.1 54 V44.57 M152.6 54 V50.75 M153.1 54 V51.16 M153.6 54 V49.62 M154.1 54 V50.79 M154.6 54 V51.7 M155.1 54 V49.88 M155.6 54 V47.77 M156.1 54 V51.19 M156.6 54 V48.04 M157.1 54 V49.07 M157.6 54 V51.74 M158.1 54 V44 M158.6 54 V51.91 M159.1 54 V50.62 M159.6 54 V50.68 M160.1 54 V48.99 M160.6 54 V50.68 M161.1 54 V50.22 M161.6 54 V49.64 M162.1 54 V50.14 M162.6 54 V45.07 M163.1 54 V51.14 M163.6 54 V51.89 M164.1 54 V49.58 M164.6 54 V51.65 M165.1 54 V44 M165.6 54 V51.69 M166.1 54 V50.77 M166.6 54 V50.64 M167.1 54 V49.91 M167.6 54 V51.1 M168.1 54 V52.09 M168.6 54 V50.41 M169.1 54 V50.95 M169.6 54 V48.25 M170.1 54 V51.66 M170.6 54 V52.34 M171.1 54 V51.52 M171.6 54 V50.87 M172.1 54 V52.5 M172.6 54 V50.61 M173.1 54 V51.21 M173.6 54 V51.37 M174.1 54 V47.65 M174.6 54 V48.46 M175.1 54 V50.71 M175.6 54 V44.94 M176.1 54 V51.04 M176.6 54 V48.9 M177.1 54 V48.12 M177.6 54 V44 M178.1 54 V51.6 M178.6 54 V49.81 M179.1 54 V49.54 M179.6 54 V48.33 M180.1 54 V49.08 M180.6 54 V51.87 M181.1 54 V51.87 M181.6 54 V51.95 M182.1 54 V46.47 M182.6 54 V48.56 M183.1 54 V51.56 M183.6 54 V51.35 M184.1 54 V50.56 M184.6 54 V50.81 M185.1 54 V44.49 M185.6 54 V44 M186.1 54 V44 M186.6 54 V50.56 M187.1 54 V50.43 M187.6 54 V51.94 M188.1 54 V51.09 M188.6 54 V48.9 M189.1 54 V49.8 M189.6 54 V49.31 M190.1 54 V50.13 M190.6 54 V50.78 M191.1 54 V51.21 M191.6 54 V51.79 M192.1 54 V50.84 M192.6 54 V51.96 M193.1 54 V51.93 M193.6 54 V52.58 M194.1 54 V50.22 M194.6 54 V51.68 M195.1 54 V53.11 M195.6 54 V51.39 M196.1 54 V52.5 M196.6 54 V52.58 M197.1 54 V51.25 M197.6 54 V51.72 M198.1 54 V44 M198.6 54 V49.51 M199.1 54 V50.71 M199.6 54 V51.32 M200.1 54 V50.08 M200.6 54 V44 M201.1 54 V51.14 M201.6 54 V44 M202.1 54 V50.26 M202.6 54 V52.29 M203.1 54 V50.18 M203.6 54 V51.16 M204.1 54 V44 M204.6 54 V50.44 M205.1 54 V48.66 M205.6 54 V45.56 M206.1 54 V50.53 M206.6 54 V52.37 M207.1 54 V52.15 M207.6 54 V52.68 M208.1 54 V47.74 M208.6 54 V52.31 M209.1 54 V45.18 M209.6 54 V51.54 M210.1 54 V49.93 M210.6 54 V52.03 M211.1 54 V50.24 M211.6 54 V52.57 M212.1 54 V52.4 M212.6 54 V49.9 M213.1 54 V52.81 M213.6 54 V53.38 M214.1 54 V53.26 M214.6 54 V53.22 M215.1 54 V52.1 M215.6 54 V53.01 M216.1 54 V52.98 M216.6 54 V51.74 M217.1 54 V44.76 M217.6 54 V51.26 M218.1 54 V45.64 M218.6 54 V50.59 M219.1 54 V52.39 M219.6 54 V52.79 M220.1 54 V44.9 M220.6 54 V50.19 M221.1 54 V51.75 M221.6 54 V52.44 M222.1 54 V50.57 M222.6 54 V50.07 M223.1 54 V50.92 M223.6 54 V51.27 M224.1 54 V52.87 M224.6 54 V53.29 M225.1 54 V53.38 M225.6 54 V53.02 M226.1 54 V52.09 M226.6 54 V51.85 M227.1 54 V51.87 M227.6 54 V51.3 M228.1 54 V52.42 M228.6 54 V50.73 M229.1 54 V47.82 M229.6 54 V52.77 M230.1 54 V52.36 M230.6 54 V52.99 M231.1 54 V53.45 M231.6 54 V53.06 M232.1 54 V53.01 M232.6 54 V53.3 M233.1 54 V53.33 M233.6 54 V52.93 M236.1 54 V53.28 M237.1 54 V50.89 M237.6 54 V53.49 M238.1 54 V52.72 M238.6 54 V52.89 M239.1 54 V48.03 M239.6 54 V46.16 M240.1 54 V51.41 M240.6 54 V44 M241.1 54 V50.17 M241.6 54 V51.42 M242.1 54 V50.6 M242.6 54 V51.44 M243.1 54 V52.04 M243.6 54 V51.37 M244.1 54 V53.14 M244.6 54 V49.81 M245.1 54 V51.83 M245.6 54 V51.56 M246.1 54 V51.57 M246.6 54 V50.61 M247.1 54 V47.37 M247.6 54 V52.52 M248.1 54 V49.51 M248.6 54 V52.34 M249.1 54 V52.18 M249.6 54 V51.69 M250.1 54 V52.61 M250.6 54 V52.97 M251.1 54 V52.79 M251.6 54 V48.61 M252.1 54 V51.3 M252.6 54 V50.08 M253.1 54 V44 M253.6 54 V50.97 M254.1 54 V49.96 M254.6 54 V52.39 M255.1 54 V46.42 M255.6 54 V52.63 M256.1 54 V50.07 M256.6 54 V51.02 M257.1 54 V50.02 M257.6 54 V52.88 M259.1 54 V51.84 M260.1 54 V53.14 M260.6 54 V52.01 M261.1 54 V52.26 M261.6 54 V47.82 M262.1 54 V50.32 M262.6 54 V49.5 M263.1 54 V51.22 M263.6 54 V44.6 M264.1 54 V50.99 M264.6 54 V49.82 M265.1 54 V45.26 M265.6 54 V46.56 M266.1 54 V51.71 M266.6 54 V45.61 M267.1 54 V44 M267.6 54 V45.69 M268.1 54 V44.51 M268.6 54 V50.84 M269.1 54 V48.56 M269.6 54 V49.58 M270.1 54 V53.16 M270.6 54 V52.58 M271.1 54 V52.76 M271.6 54 V52.58 M272.1 54 V50.24 M272.6 54 V52.43 M273.1 54 V53.32 M273.6 54 V53.39 M274.6 54 V53.23 M275.1 54 V53.02 M275.6 54 V53.03 M276.1 54 V53.19 M276.6 54 V52.03 M277.1 54 V48.99 M277.6 54 V50.83 M278.1 54 V52.01 M278.6 54 V48.89 M279.1 54 V52.22 M279.6 54 V52.91 M280.1 54 V51.98 M280.6 54 V51.91 M281.1 54 V51.85 M281.6 54 V51.62 M282.1 54 V50.73 M282.6 54 V52.14 M283.1 54 V52.3 M283.6 54 V51.97 M284.1 54 V50.73 M284.6 54 V51.8 M285.1 54 V50.87 M285.6 54 V51.14 M286.1 54 V49.72" stroke="#1f1f85" stroke-width="0.55" fill="none"/>
<line x1="64" y1="54.3" x2="286.6" y2="54.3" stroke="#c9c2d6" stroke-width="0.8"/>
<path d="M118.11 53.8 V55 M185.19 53.8 V55 M147.02 53.8 V55 M198.26 53.8 V55 M203.03 53.8 V55 M80.35 53.8 V55 M68.88 53.8 V55 M249.41 53.8 V55 M122.8 53.8 V55 M117.32 53.8 V55 M284.05 53.8 V55 M168.99 53.8 V55 M249.19 53.8 V55 M170.32 53.8 V55 M205.96 53.8 V55 M98.98 53.8 V55 M205.03 53.8 V55 M256.1 53.8 V55 M180.58 53.8 V55 M228.33 53.8 V55 M213.04 53.8 V55 M80.02 53.8 V55" stroke="#d86060" stroke-width="0.7" fill="none"/>
<line x1="178.2" y1="0" x2="178.2" y2="56.5" stroke="#ee1111" stroke-width="1.1"/>
<line x1="64.5" y1="57" x2="168" y2="93.5" stroke="#333" stroke-width="0.9" stroke-dasharray="3 2.2"/>
<line x1="287" y1="57" x2="184.1" y2="93.8" stroke="#333" stroke-width="0.9" stroke-dasharray="3 2.2"/>
<line x1="178.2" y1="62" x2="178.2" y2="92.5" stroke="#ff0000" stroke-width="1.1"/>
<path d="M178.2 56.6 L174.6 64.6 L181.8 64.6 Z" fill="#ff0000"/>
<path d="M178.2 97 L174.6 90.1 L181.8 90.1 Z" fill="#ff0000"/>
<text x="183.4" y="73.6" font-size="13.5" font-weight="normal" text-anchor="start" fill="#ff0000" font-style="normal" textLength="63.9" lengthAdjust="spacingAndGlyphs">rs1882961</text>
<path d="M15 103.4 L30.7 88 L30.7 95.8 L92 95.8 L92 111.1 L30.7 111.1 L30.7 119.1 Z" fill="#a0a0a0" stroke="#444" stroke-width="1.2" stroke-linejoin="miter"/>
<text x="39.1" y="107.9" font-size="13" font-weight="normal" text-anchor="start" fill="#fff" font-style="italic" textLength="36.5" lengthAdjust="spacingAndGlyphs">NRIP1</text>
<line x1="92" y1="96.5" x2="214.7" y2="96.5" stroke="#333" stroke-width="1.2"/>
<line x1="92" y1="111.4" x2="214.7" y2="111.4" stroke="#333" stroke-width="1.2"/>
<line x1="178.2" y1="97" x2="178.2" y2="111" stroke="#e86060" stroke-width="1"/>
<text x="138.8" y="108.4" font-size="12" font-weight="normal" text-anchor="middle" fill="#111" font-style="normal" textLength="40.5" lengthAdjust="spacingAndGlyphs">119 kbp</text>
<g fill="none" stroke="#4a4a4a" stroke-width="0.95" stroke-linejoin="round" stroke-linecap="round"><circle cx="232" cy="89.3" r="2.55"/><path d="M226.2 104.4 Q225.6 104 225.8 102.8 L226 98.6 Q226.3 93.7 230.2 93.6 H233.8 Q237.7 93.7 238 98.6 L238.2 102.8 Q238.4 104 237.8 104.4"/><path d="M229.1 97.4 V116.1 Q229.1 117.2 230.2 117.2 H233.8 Q234.9 117.2 234.9 116.1 V97.4"/><path d="M232 105.2 V117.1"/></g>
<path d="M15.2 157.3 L32.4 140.1 L32.4 148.6 L92 148.6 L92 165.9 L32.4 165.9 L32.4 174.8 Z" fill="#a0a0a0" stroke="#444" stroke-width="1.2"/>
<text x="41.2" y="162.6" font-size="13" font-weight="normal" text-anchor="start" fill="#fff" font-style="italic" textLength="32.4" lengthAdjust="spacingAndGlyphs">Nrip1</text>
<line x1="92" y1="148.9" x2="215" y2="148.9" stroke="#333" stroke-width="1.2"/>
<line x1="92" y1="165.4" x2="215" y2="165.4" stroke="#333" stroke-width="1.2"/>
<line x1="177.7" y1="149.3" x2="177.7" y2="165" stroke="#e86060" stroke-width="1"/>
<text x="135.3" y="161.2" font-size="12" font-weight="normal" text-anchor="middle" fill="#111" font-style="normal" textLength="40.9" lengthAdjust="spacingAndGlyphs">112 kbp</text>
<text x="90.7" y="142.6" font-size="11" font-weight="normal" text-anchor="start" fill="#9a9a9a" font-style="italic" textLength="80.5" lengthAdjust="spacingAndGlyphs">CRISPR-SpCas9</text>
<path d="M186.4 132.2 L192 135.4 L188.8 138.2 L189.4 139.5 L186.1 142.6 L186.6 143.4 L177.4 149.3 L181.0 143.6 L181.4 141.2 L183.3 139.7 L182.8 137 Z" fill="#ffc000" stroke="#5a4000" stroke-width="0.9" stroke-linejoin="round"/>
<text x="157.4" y="180.3" font-size="13.2" font-weight="normal" text-anchor="start" fill="#ff0000" font-style="normal" textLength="50.6" lengthAdjust="spacingAndGlyphs">4-bp del</text>
<g fill="none" stroke="#4a4a4a" stroke-width="0.85" stroke-linejoin="round" stroke-linecap="round"><path d="M230.8 151 C226.8 152 224.2 155 224.4 158.2 C224.7 161 226.4 162.8 228.5 163.3"/><path d="M228.4 163.3 L240.3 163.4 L240.5 161.6 C242 161 243.6 160.2 245.6 158.4 C243.8 156.9 241.6 156.2 239.2 155.6 L238.5 155 L237.6 156.7 C235.5 155 232.6 154.6 230.6 155.6 C228.6 156.7 227.9 159.6 228.4 163.3"/><path d="M232.7 159.4 L234.4 162.6 L235.5 163.3"/></g>
<rect x="45.1" y="835.9" width="38.5" height="12" fill="#333"/>
<rect x="45.1" y="847.9" width="38.5" height="1.6" fill="#999"/>
<text x="65.85" y="845.1" font-size="8" font-weight="bold" text-anchor="middle" fill="#fff" font-style="normal" textLength="17.5" lengthAdjust="spacingAndGlyphs">Dark</text>
<rect x="118.7" y="835.9" width="38.5" height="12" fill="#333"/>
<rect x="118.7" y="847.9" width="38.5" height="1.6" fill="#999"/>
<text x="139.45" y="845.1" font-size="8" font-weight="bold" text-anchor="middle" fill="#fff" font-style="normal" textLength="17.5" lengthAdjust="spacingAndGlyphs">Dark</text>
<rect x="192.3" y="835.9" width="38.5" height="12" fill="#333"/>
<rect x="192.3" y="847.9" width="38.5" height="1.6" fill="#999"/>
<text x="213.05" y="845.1" font-size="8" font-weight="bold" text-anchor="middle" fill="#fff" font-style="normal" textLength="17.5" lengthAdjust="spacingAndGlyphs">Dark</text>
<line x1="45.9" y1="789.08" x2="45.9" y2="800.72" stroke="#c4c4c4" stroke-width="0.7"/>
<line x1="44.5" y1="789.08" x2="47.3" y2="789.08" stroke="#c4c4c4" stroke-width="0.7"/>
<line x1="44.5" y1="800.72" x2="47.3" y2="800.72" stroke="#c4c4c4" stroke-width="0.7"/>
<line x1="48.97" y1="777.83" x2="48.97" y2="792.57" stroke="#c4c4c4" stroke-width="0.7"/>
<line x1="47.57" y1="777.83" x2="50.37" y2="777.83" stroke="#c4c4c4" stroke-width="0.7"/>
<line x1="47.57" y1="792.57" x2="50.37" y2="792.57" stroke="#c4c4c4" stroke-width="0.7"/>
<line x1="52.03" y1="759.85" x2="52.03" y2="779.55" stroke="#c4c4c4" stroke-width="0.7"/>
<line x1="50.63" y1="759.85" x2="53.43" y2="759.85" stroke="#c4c4c4" stroke-width="0.7"/>
<line x1="50.63" y1="779.55" x2="53.43" y2="779.55" stroke="#c4c4c4" stroke-width="0.7"/>
<line x1="55.1" y1="757.3" x2="55.1" y2="777.7" stroke="#c4c4c4" stroke-width="0.7"/>
<line x1="53.7" y1="757.3" x2="56.5" y2="757.3" stroke="#c4c4c4" stroke-width="0.7"/>
<line x1="53.7" y1="777.7" x2="56.5" y2="777.7" stroke="#c4c4c4" stroke-width="0.7"/>
<line x1="58.17" y1="761.01" x2="58.17" y2="780.39" stroke="#c4c4c4" stroke-width="0.7"/>
<line x1="56.77" y1="761.01" x2="59.57" y2="761.01" stroke="#c4c4c4" stroke-width="0.7"/>
<line x1="56.77" y1="780.39" x2="59.57" y2="780.39" stroke="#c4c4c4" stroke-width="0.7"/>
<line x1="61.23" y1="744.31" x2="61.23" y2="768.29" stroke="#c4c4c4" stroke-width="0.7"/>
<line x1="59.84" y1="744.31" x2="62.63" y2="744.31" stroke="#c4c4c4" stroke-width="0.7"/>
<line x1="59.84" y1="768.29" x2="62.63" y2="768.29" stroke="#c4c4c4" stroke-width="0.7"/>
<line x1="64.3" y1="748.37" x2="64.3" y2="771.23" stroke="#c4c4c4" stroke-width="0.7"/>
<line x1="62.9" y1="748.37" x2="65.7" y2="748.37" stroke="#c4c4c4" stroke-width="0.7"/>
<line x1="62.9" y1="771.23" x2="65.7" y2="771.23" stroke="#c4c4c4" stroke-width="0.7"/>
<line x1="67.37" y1="749.41" x2="67.37" y2="771.99" stroke="#c4c4c4" stroke-width="0.7"/>
<line x1="65.97" y1="749.41" x2="68.77" y2="749.41" stroke="#c4c4c4" stroke-width="0.7"/>
<line x1="65.97" y1="771.99" x2="68.77" y2="771.99" stroke="#c4c4c4" stroke-width="0.7"/>
<line x1="70.44" y1="753.01" x2="70.44" y2="774.59" stroke="#c4c4c4" stroke-width="0.7"/>
<line x1="69.04" y1="753.01" x2="71.84" y2="753.01" stroke="#c4c4c4" stroke-width="0.7"/>
<line x1="69.04" y1="774.59" x2="71.84" y2="774.59" stroke="#c4c4c4" stroke-width="0.7"/>
<line x1="73.5" y1="741.87" x2="73.5" y2="766.53" stroke="#c4c4c4" stroke-width="0.7"/>
<line x1="72.1" y1="741.87" x2="74.9" y2="741.87" stroke="#c4c4c4" stroke-width="0.7"/>
<line x1="72.1" y1="766.53" x2="74.9" y2="766.53" stroke="#c4c4c4" stroke-width="0.7"/>
<line x1="76.57" y1="747.79" x2="76.57" y2="770.81" stroke="#c4c4c4" stroke-width="0.7"/>
<line x1="75.17" y1="747.79" x2="77.97" y2="747.79" stroke="#c4c4c4" stroke-width="0.7"/>
<line x1="75.17" y1="770.81" x2="77.97" y2="770.81" stroke="#c4c4c4" stroke-width="0.7"/>
<line x1="79.64" y1="748.14" x2="79.64" y2="771.06" stroke="#c4c4c4" stroke-width="0.7"/>
<line x1="78.24" y1="748.14" x2="81.04" y2="748.14" stroke="#c4c4c4" stroke-width="0.7"/>
<line x1="78.24" y1="771.06" x2="81.04" y2="771.06" stroke="#c4c4c4" stroke-width="0.7"/>
<line x1="82.7" y1="758.58" x2="82.7" y2="778.62" stroke="#c4c4c4" stroke-width="0.7"/>
<line x1="81.3" y1="758.58" x2="84.1" y2="758.58" stroke="#c4c4c4" stroke-width="0.7"/>
<line x1="81.3" y1="778.62" x2="84.1" y2="778.62" stroke="#c4c4c4" stroke-width="0.7"/>
<line x1="85.77" y1="752.66" x2="85.77" y2="774.34" stroke="#c4c4c4" stroke-width="0.7"/>
<line x1="84.37" y1="752.66" x2="87.17" y2="752.66" stroke="#c4c4c4" stroke-width="0.7"/>
<line x1="84.37" y1="774.34" x2="87.17" y2="774.34" stroke="#c4c4c4" stroke-width="0.7"/>
<line x1="88.84" y1="767.97" x2="88.84" y2="785.43" stroke="#c4c4c4" stroke-width="0.7"/>
<line x1="87.44" y1="767.97" x2="90.24" y2="767.97" stroke="#c4c4c4" stroke-width="0.7"/>
<line x1="87.44" y1="785.43" x2="90.24" y2="785.43" stroke="#c4c4c4" stroke-width="0.7"/>
<line x1="91.91" y1="771.57" x2="91.91" y2="788.03" stroke="#c4c4c4" stroke-width="0.7"/>
<line x1="90.5" y1="771.57" x2="93.31" y2="771.57" stroke="#c4c4c4" stroke-width="0.7"/>
<line x1="90.5" y1="788.03" x2="93.31" y2="788.03" stroke="#c4c4c4" stroke-width="0.7"/>
<line x1="94.97" y1="782.59" x2="94.97" y2="796.01" stroke="#c4c4c4" stroke-width="0.7"/>
<line x1="93.57" y1="782.59" x2="96.37" y2="782.59" stroke="#c4c4c4" stroke-width="0.7"/>
<line x1="93.57" y1="796.01" x2="96.37" y2="796.01" stroke="#c4c4c4" stroke-width="0.7"/>
<line x1="98.04" y1="783.17" x2="98.04" y2="796.43" stroke="#c4c4c4" stroke-width="0.7"/>
<line x1="96.64" y1="783.17" x2="99.44" y2="783.17" stroke="#c4c4c4" stroke-width="0.7"/>
<line x1="96.64" y1="796.43" x2="99.44" y2="796.43" stroke="#c4c4c4" stroke-width="0.7"/>
<line x1="101.11" y1="793.84" x2="101.11" y2="804.16" stroke="#c4c4c4" stroke-width="0.7"/>
<line x1="99.71" y1="793.84" x2="102.51" y2="793.84" stroke="#c4c4c4" stroke-width="0.7"/>
<line x1="99.71" y1="804.16" x2="102.51" y2="804.16" stroke="#c4c4c4" stroke-width="0.7"/>
<line x1="104.17" y1="791.4" x2="104.17" y2="802.4" stroke="#c4c4c4" stroke-width="0.7"/>
<line x1="102.77" y1="791.4" x2="105.57" y2="791.4" stroke="#c4c4c4" stroke-width="0.7"/>
<line x1="102.77" y1="802.4" x2="105.57" y2="802.4" stroke="#c4c4c4" stroke-width="0.7"/>
<line x1="107.24" y1="799.87" x2="107.24" y2="808.53" stroke="#c4c4c4" stroke-width="0.7"/>
<line x1="105.84" y1="799.87" x2="108.64" y2="799.87" stroke="#c4c4c4" stroke-width="0.7"/>
<line x1="105.84" y1="808.53" x2="108.64" y2="808.53" stroke="#c4c4c4" stroke-width="0.7"/>
<line x1="110.31" y1="801" x2="110.31" y2="809.4" stroke="#c4c4c4" stroke-width="0.7"/>
<line x1="108.91" y1="801" x2="111.71" y2="801" stroke="#c4c4c4" stroke-width="0.7"/>
<line x1="108.91" y1="809.4" x2="111.71" y2="809.4" stroke="#c4c4c4" stroke-width="0.7"/>
<line x1="113.37" y1="799.18" x2="113.37" y2="808.02" stroke="#c4c4c4" stroke-width="0.7"/>
<line x1="111.97" y1="799.18" x2="114.77" y2="799.18" stroke="#c4c4c4" stroke-width="0.7"/>
<line x1="111.97" y1="808.02" x2="114.77" y2="808.02" stroke="#c4c4c4" stroke-width="0.7"/>
<line x1="116.44" y1="801.5" x2="116.44" y2="809.9" stroke="#c4c4c4" stroke-width="0.7"/>
<line x1="115.04" y1="801.5" x2="117.84" y2="801.5" stroke="#c4c4c4" stroke-width="0.7"/>
<line x1="115.04" y1="809.9" x2="117.84" y2="809.9" stroke="#c4c4c4" stroke-width="0.7"/>
<line x1="119.51" y1="786.42" x2="119.51" y2="798.78" stroke="#c4c4c4" stroke-width="0.7"/>
<line x1="118.11" y1="786.42" x2="120.91" y2="786.42" stroke="#c4c4c4" stroke-width="0.7"/>
<line x1="118.11" y1="798.78" x2="120.91" y2="798.78" stroke="#c4c4c4" stroke-width="0.7"/>
<line x1="122.58" y1="783.28" x2="122.58" y2="796.52" stroke="#c4c4c4" stroke-width="0.7"/>
<line x1="121.18" y1="783.28" x2="123.98" y2="783.28" stroke="#c4c4c4" stroke-width="0.7"/>
<line x1="121.18" y1="796.52" x2="123.98" y2="796.52" stroke="#c4c4c4" stroke-width="0.7"/>
<line x1="125.64" y1="763.22" x2="125.64" y2="781.98" stroke="#c4c4c4" stroke-width="0.7"/>
<line x1="124.24" y1="763.22" x2="127.04" y2="763.22" stroke="#c4c4c4" stroke-width="0.7"/>
<line x1="124.24" y1="781.98" x2="127.04" y2="781.98" stroke="#c4c4c4" stroke-width="0.7"/>
<line x1="128.71" y1="754.75" x2="128.71" y2="775.85" stroke="#c4c4c4" stroke-width="0.7"/>
<line x1="127.31" y1="754.75" x2="130.11" y2="754.75" stroke="#c4c4c4" stroke-width="0.7"/>
<line x1="127.31" y1="775.85" x2="130.11" y2="775.85" stroke="#c4c4c4" stroke-width="0.7"/>
<line x1="131.78" y1="747.56" x2="131.78" y2="770.64" stroke="#c4c4c4" stroke-width="0.7"/>
<line x1="130.38" y1="747.56" x2="133.18" y2="747.56" stroke="#c4c4c4" stroke-width="0.7"/>
<line x1="130.38" y1="770.64" x2="133.18" y2="770.64" stroke="#c4c4c4" stroke-width="0.7"/>
<line x1="134.84" y1="746.05" x2="134.84" y2="769.55" stroke="#c4c4c4" stroke-width="0.7"/>
<line x1="133.44" y1="746.05" x2="136.24" y2="746.05" stroke="#c4c4c4" stroke-width="0.7"/>
<line x1="133.44" y1="769.55" x2="136.24" y2="769.55" stroke="#c4c4c4" stroke-width="0.7"/>
<line x1="137.91" y1="741.29" x2="137.91" y2="766.11" stroke="#c4c4c4" stroke-width="0.7"/>
<line x1="136.51" y1="741.29" x2="139.31" y2="741.29" stroke="#c4c4c4" stroke-width="0.7"/>
<line x1="136.51" y1="766.11" x2="139.31" y2="766.11" stroke="#c4c4c4" stroke-width="0.7"/>
<line x1="140.98" y1="736.77" x2="140.98" y2="762.83" stroke="#c4c4c4" stroke-width="0.7"/>
<line x1="139.58" y1="736.77" x2="142.38" y2="736.77" stroke="#c4c4c4" stroke-width="0.7"/>
<line x1="139.58" y1="762.83" x2="142.38" y2="762.83" stroke="#c4c4c4" stroke-width="0.7"/>
<line x1="144.04" y1="737.46" x2="144.04" y2="763.34" stroke="#c4c4c4" stroke-width="0.7"/>
<line x1="142.64" y1="737.46" x2="145.44" y2="737.46" stroke="#c4c4c4" stroke-width="0.7"/>
<line x1="142.64" y1="763.34" x2="145.44" y2="763.34" stroke="#c4c4c4" stroke-width="0.7"/>
<line x1="147.11" y1="735.61" x2="147.11" y2="761.99" stroke="#c4c4c4" stroke-width="0.7"/>
<line x1="145.71" y1="735.61" x2="148.51" y2="735.61" stroke="#c4c4c4" stroke-width="0.7"/>
<line x1="145.71" y1="761.99" x2="148.51" y2="761.99" stroke="#c4c4c4" stroke-width="0.7"/>
<line x1="150.18" y1="733.17" x2="150.18" y2="760.23" stroke="#c4c4c4" stroke-width="0.7"/>
<line x1="148.78" y1="733.17" x2="151.58" y2="733.17" stroke="#c4c4c4" stroke-width="0.7"/>
<line x1="148.78" y1="760.23" x2="151.58" y2="760.23" stroke="#c4c4c4" stroke-width="0.7"/>
<line x1="153.25" y1="737.46" x2="153.25" y2="763.34" stroke="#c4c4c4" stroke-width="0.7"/>
<line x1="151.84" y1="737.46" x2="154.65" y2="737.46" stroke="#c4c4c4" stroke-width="0.7"/>
<line x1="151.84" y1="763.34" x2="154.65" y2="763.34" stroke="#c4c4c4" stroke-width="0.7"/>
<line x1="156.31" y1="746.51" x2="156.31" y2="769.89" stroke="#c4c4c4" stroke-width="0.7"/>
<line x1="154.91" y1="746.51" x2="157.71" y2="746.51" stroke="#c4c4c4" stroke-width="0.7"/>
<line x1="154.91" y1="769.89" x2="157.71" y2="769.89" stroke="#c4c4c4" stroke-width="0.7"/>
<line x1="159.38" y1="760.9" x2="159.38" y2="780.3" stroke="#c4c4c4" stroke-width="0.7"/>
<line x1="157.98" y1="760.9" x2="160.78" y2="760.9" stroke="#c4c4c4" stroke-width="0.7"/>
<line x1="157.98" y1="780.3" x2="160.78" y2="780.3" stroke="#c4c4c4" stroke-width="0.7"/>
<line x1="162.45" y1="756.14" x2="162.45" y2="776.86" stroke="#c4c4c4" stroke-width="0.7"/>
<line x1="161.05" y1="756.14" x2="163.85" y2="756.14" stroke="#c4c4c4" stroke-width="0.7"/>
<line x1="161.05" y1="776.86" x2="163.85" y2="776.86" stroke="#c4c4c4" stroke-width="0.7"/>
<line x1="165.51" y1="757.65" x2="165.51" y2="777.95" stroke="#c4c4c4" stroke-width="0.7"/>
<line x1="164.11" y1="757.65" x2="166.91" y2="757.65" stroke="#c4c4c4" stroke-width="0.7"/>
<line x1="164.11" y1="777.95" x2="166.91" y2="777.95" stroke="#c4c4c4" stroke-width="0.7"/>
<line x1="168.58" y1="775.28" x2="168.58" y2="790.72" stroke="#c4c4c4" stroke-width="0.7"/>
<line x1="167.18" y1="775.28" x2="169.98" y2="775.28" stroke="#c4c4c4" stroke-width="0.7"/>
<line x1="167.18" y1="790.72" x2="169.98" y2="790.72" stroke="#c4c4c4" stroke-width="0.7"/>
<line x1="171.65" y1="774.12" x2="171.65" y2="789.88" stroke="#c4c4c4" stroke-width="0.7"/>
<line x1="170.25" y1="774.12" x2="173.05" y2="774.12" stroke="#c4c4c4" stroke-width="0.7"/>
<line x1="170.25" y1="789.88" x2="173.05" y2="789.88" stroke="#c4c4c4" stroke-width="0.7"/>
<line x1="174.71" y1="776.79" x2="174.71" y2="791.81" stroke="#c4c4c4" stroke-width="0.7"/>
<line x1="173.31" y1="776.79" x2="176.11" y2="776.79" stroke="#c4c4c4" stroke-width="0.7"/>
<line x1="173.31" y1="791.81" x2="176.11" y2="791.81" stroke="#c4c4c4" stroke-width="0.7"/>
<line x1="177.78" y1="781.08" x2="177.78" y2="794.92" stroke="#c4c4c4" stroke-width="0.7"/>
<line x1="176.38" y1="781.08" x2="179.18" y2="781.08" stroke="#c4c4c4" stroke-width="0.7"/>
<line x1="176.38" y1="794.92" x2="179.18" y2="794.92" stroke="#c4c4c4" stroke-width="0.7"/>
<line x1="180.85" y1="786.88" x2="180.85" y2="799.12" stroke="#c4c4c4" stroke-width="0.7"/>
<line x1="179.45" y1="786.88" x2="182.25" y2="786.88" stroke="#c4c4c4" stroke-width="0.7"/>
<line x1="179.45" y1="799.12" x2="182.25" y2="799.12" stroke="#c4c4c4" stroke-width="0.7"/>
<line x1="183.92" y1="787.81" x2="183.92" y2="799.79" stroke="#c4c4c4" stroke-width="0.7"/>
<line x1="182.52" y1="787.81" x2="185.32" y2="787.81" stroke="#c4c4c4" stroke-width="0.7"/>
<line x1="182.52" y1="799.79" x2="185.32" y2="799.79" stroke="#c4c4c4" stroke-width="0.7"/>
<line x1="186.98" y1="795.46" x2="186.98" y2="805.34" stroke="#c4c4c4" stroke-width="0.7"/>
<line x1="185.58" y1="795.46" x2="188.38" y2="795.46" stroke="#c4c4c4" stroke-width="0.7"/>
<line x1="185.58" y1="805.34" x2="188.38" y2="805.34" stroke="#c4c4c4" stroke-width="0.7"/>
<line x1="190.05" y1="792.56" x2="190.05" y2="803.24" stroke="#c4c4c4" stroke-width="0.7"/>
<line x1="188.65" y1="792.56" x2="191.45" y2="792.56" stroke="#c4c4c4" stroke-width="0.7"/>
<line x1="188.65" y1="803.24" x2="191.45" y2="803.24" stroke="#c4c4c4" stroke-width="0.7"/>
<line x1="193.12" y1="776.67" x2="193.12" y2="791.73" stroke="#c4c4c4" stroke-width="0.7"/>
<line x1="191.72" y1="776.67" x2="194.52" y2="776.67" stroke="#c4c4c4" stroke-width="0.7"/>
<line x1="191.72" y1="791.73" x2="194.52" y2="791.73" stroke="#c4c4c4" stroke-width="0.7"/>
<line x1="196.18" y1="775.05" x2="196.18" y2="790.55" stroke="#c4c4c4" stroke-width="0.7"/>
<line x1="194.78" y1="775.05" x2="197.58" y2="775.05" stroke="#c4c4c4" stroke-width="0.7"/>
<line x1="194.78" y1="790.55" x2="197.58" y2="790.55" stroke="#c4c4c4" stroke-width="0.7"/>
<line x1="199.25" y1="763.68" x2="199.25" y2="782.32" stroke="#c4c4c4" stroke-width="0.7"/>
<line x1="197.85" y1="763.68" x2="200.65" y2="763.68" stroke="#c4c4c4" stroke-width="0.7"/>
<line x1="197.85" y1="782.32" x2="200.65" y2="782.32" stroke="#c4c4c4" stroke-width="0.7"/>
<line x1="202.32" y1="753.94" x2="202.32" y2="775.26" stroke="#c4c4c4" stroke-width="0.7"/>
<line x1="200.92" y1="753.94" x2="203.72" y2="753.94" stroke="#c4c4c4" stroke-width="0.7"/>
<line x1="200.92" y1="775.26" x2="203.72" y2="775.26" stroke="#c4c4c4" stroke-width="0.7"/>
<line x1="205.38" y1="743.84" x2="205.38" y2="767.96" stroke="#c4c4c4" stroke-width="0.7"/>
<line x1="203.98" y1="743.84" x2="206.78" y2="743.84" stroke="#c4c4c4" stroke-width="0.7"/>
<line x1="203.98" y1="767.96" x2="206.78" y2="767.96" stroke="#c4c4c4" stroke-width="0.7"/>
<line x1="208.45" y1="739.2" x2="208.45" y2="764.6" stroke="#c4c4c4" stroke-width="0.7"/>
<line x1="207.05" y1="739.2" x2="209.85" y2="739.2" stroke="#c4c4c4" stroke-width="0.7"/>
<line x1="207.05" y1="764.6" x2="209.85" y2="764.6" stroke="#c4c4c4" stroke-width="0.7"/>
<line x1="211.52" y1="736.42" x2="211.52" y2="762.58" stroke="#c4c4c4" stroke-width="0.7"/>
<line x1="210.12" y1="736.42" x2="212.92" y2="736.42" stroke="#c4c4c4" stroke-width="0.7"/>
<line x1="210.12" y1="762.58" x2="212.92" y2="762.58" stroke="#c4c4c4" stroke-width="0.7"/>
<line x1="214.59" y1="733.75" x2="214.59" y2="760.65" stroke="#c4c4c4" stroke-width="0.7"/>
<line x1="213.19" y1="733.75" x2="215.99" y2="733.75" stroke="#c4c4c4" stroke-width="0.7"/>
<line x1="213.19" y1="760.65" x2="215.99" y2="760.65" stroke="#c4c4c4" stroke-width="0.7"/>
<line x1="217.65" y1="732.01" x2="217.65" y2="759.39" stroke="#c4c4c4" stroke-width="0.7"/>
<line x1="216.25" y1="732.01" x2="219.05" y2="732.01" stroke="#c4c4c4" stroke-width="0.7"/>
<line x1="216.25" y1="759.39" x2="219.05" y2="759.39" stroke="#c4c4c4" stroke-width="0.7"/>
<line x1="220.72" y1="728.07" x2="220.72" y2="756.53" stroke="#c4c4c4" stroke-width="0.7"/>
<line x1="219.32" y1="728.07" x2="222.12" y2="728.07" stroke="#c4c4c4" stroke-width="0.7"/>
<line x1="219.32" y1="756.53" x2="222.12" y2="756.53" stroke="#c4c4c4" stroke-width="0.7"/>
<line x1="223.79" y1="724.12" x2="223.79" y2="753.68" stroke="#c4c4c4" stroke-width="0.7"/>
<line x1="222.39" y1="724.12" x2="225.19" y2="724.12" stroke="#c4c4c4" stroke-width="0.7"/>
<line x1="222.39" y1="753.68" x2="225.19" y2="753.68" stroke="#c4c4c4" stroke-width="0.7"/>
<line x1="226.85" y1="729.69" x2="226.85" y2="757.71" stroke="#c4c4c4" stroke-width="0.7"/>
<line x1="225.45" y1="729.69" x2="228.25" y2="729.69" stroke="#c4c4c4" stroke-width="0.7"/>
<line x1="225.45" y1="757.71" x2="228.25" y2="757.71" stroke="#c4c4c4" stroke-width="0.7"/>
<line x1="229.92" y1="736.65" x2="229.92" y2="762.75" stroke="#c4c4c4" stroke-width="0.7"/>
<line x1="228.52" y1="736.65" x2="231.32" y2="736.65" stroke="#c4c4c4" stroke-width="0.7"/>
<line x1="228.52" y1="762.75" x2="231.32" y2="762.75" stroke="#c4c4c4" stroke-width="0.7"/>
<line x1="232.99" y1="742.45" x2="232.99" y2="766.95" stroke="#c4c4c4" stroke-width="0.7"/>
<line x1="231.59" y1="742.45" x2="234.39" y2="742.45" stroke="#c4c4c4" stroke-width="0.7"/>
<line x1="231.59" y1="766.95" x2="234.39" y2="766.95" stroke="#c4c4c4" stroke-width="0.7"/>
<line x1="236.05" y1="746.05" x2="236.05" y2="769.55" stroke="#c4c4c4" stroke-width="0.7"/>
<line x1="234.65" y1="746.05" x2="237.45" y2="746.05" stroke="#c4c4c4" stroke-width="0.7"/>
<line x1="234.65" y1="769.55" x2="237.45" y2="769.55" stroke="#c4c4c4" stroke-width="0.7"/>
<line x1="239.12" y1="756.49" x2="239.12" y2="777.11" stroke="#c4c4c4" stroke-width="0.7"/>
<line x1="237.72" y1="756.49" x2="240.52" y2="756.49" stroke="#c4c4c4" stroke-width="0.7"/>
<line x1="237.72" y1="777.11" x2="240.52" y2="777.11" stroke="#c4c4c4" stroke-width="0.7"/>
<line x1="242.19" y1="761.13" x2="242.19" y2="780.47" stroke="#c4c4c4" stroke-width="0.7"/>
<line x1="240.79" y1="761.13" x2="243.59" y2="761.13" stroke="#c4c4c4" stroke-width="0.7"/>
<line x1="240.79" y1="780.47" x2="243.59" y2="780.47" stroke="#c4c4c4" stroke-width="0.7"/>
<line x1="245.26" y1="763.33" x2="245.26" y2="782.07" stroke="#c4c4c4" stroke-width="0.7"/>
<line x1="243.86" y1="763.33" x2="246.66" y2="763.33" stroke="#c4c4c4" stroke-width="0.7"/>
<line x1="243.86" y1="782.07" x2="246.66" y2="782.07" stroke="#c4c4c4" stroke-width="0.7"/>
<line x1="248.32" y1="770.18" x2="248.32" y2="787.02" stroke="#c4c4c4" stroke-width="0.7"/>
<line x1="246.92" y1="770.18" x2="249.72" y2="770.18" stroke="#c4c4c4" stroke-width="0.7"/>
<line x1="246.92" y1="787.02" x2="249.72" y2="787.02" stroke="#c4c4c4" stroke-width="0.7"/>
<line x1="251.39" y1="770.18" x2="251.39" y2="787.02" stroke="#c4c4c4" stroke-width="0.7"/>
<line x1="249.99" y1="770.18" x2="252.79" y2="770.18" stroke="#c4c4c4" stroke-width="0.7"/>
<line x1="249.99" y1="787.02" x2="252.79" y2="787.02" stroke="#c4c4c4" stroke-width="0.7"/>
<line x1="254.46" y1="776.9" x2="254.46" y2="791.9" stroke="#c4c4c4" stroke-width="0.7"/>
<line x1="253.06" y1="776.9" x2="255.86" y2="776.9" stroke="#c4c4c4" stroke-width="0.7"/>
<line x1="253.06" y1="791.9" x2="255.86" y2="791.9" stroke="#c4c4c4" stroke-width="0.7"/>
<line x1="257.52" y1="781.54" x2="257.52" y2="795.26" stroke="#c4c4c4" stroke-width="0.7"/>
<line x1="256.12" y1="781.54" x2="258.92" y2="781.54" stroke="#c4c4c4" stroke-width="0.7"/>
<line x1="256.12" y1="795.26" x2="258.92" y2="795.26" stroke="#c4c4c4" stroke-width="0.7"/>
<line x1="260.59" y1="784.1" x2="260.59" y2="797.1" stroke="#c4c4c4" stroke-width="0.7"/>
<line x1="259.19" y1="784.1" x2="261.99" y2="784.1" stroke="#c4c4c4" stroke-width="0.7"/>
<line x1="259.19" y1="797.1" x2="261.99" y2="797.1" stroke="#c4c4c4" stroke-width="0.7"/>
<line x1="263.66" y1="783.17" x2="263.66" y2="796.43" stroke="#c4c4c4" stroke-width="0.7"/>
<line x1="262.26" y1="783.17" x2="265.06" y2="783.17" stroke="#c4c4c4" stroke-width="0.7"/>
<line x1="262.26" y1="796.43" x2="265.06" y2="796.43" stroke="#c4c4c4" stroke-width="0.7"/>
<line x1="45.9" y1="797.88" x2="45.9" y2="807.32" stroke="#c4c4c4" stroke-width="0.7"/>
<line x1="44.5" y1="797.88" x2="47.3" y2="797.88" stroke="#c4c4c4" stroke-width="0.7"/>
<line x1="44.5" y1="807.32" x2="47.3" y2="807.32" stroke="#c4c4c4" stroke-width="0.7"/>
<line x1="48.97" y1="794.57" x2="48.97" y2="804.43" stroke="#c4c4c4" stroke-width="0.7"/>
<line x1="47.57" y1="794.57" x2="50.37" y2="794.57" stroke="#c4c4c4" stroke-width="0.7"/>
<line x1="47.57" y1="804.43" x2="50.37" y2="804.43" stroke="#c4c4c4" stroke-width="0.7"/>
<line x1="52.03" y1="781.08" x2="52.03" y2="792.72" stroke="#c4c4c4" stroke-width="0.7"/>
<line x1="50.63" y1="781.08" x2="53.43" y2="781.08" stroke="#c4c4c4" stroke-width="0.7"/>
<line x1="50.63" y1="792.72" x2="53.43" y2="792.72" stroke="#c4c4c4" stroke-width="0.7"/>
<line x1="55.1" y1="772.63" x2="55.1" y2="785.37" stroke="#c4c4c4" stroke-width="0.7"/>
<line x1="53.7" y1="772.63" x2="56.5" y2="772.63" stroke="#c4c4c4" stroke-width="0.7"/>
<line x1="53.7" y1="785.37" x2="56.5" y2="785.37" stroke="#c4c4c4" stroke-width="0.7"/>
<line x1="58.17" y1="780.65" x2="58.17" y2="792.35" stroke="#c4c4c4" stroke-width="0.7"/>
<line x1="56.77" y1="780.65" x2="59.57" y2="780.65" stroke="#c4c4c4" stroke-width="0.7"/>
<line x1="56.77" y1="792.35" x2="59.57" y2="792.35" stroke="#c4c4c4" stroke-width="0.7"/>
<line x1="61.23" y1="771.77" x2="61.23" y2="784.63" stroke="#c4c4c4" stroke-width="0.7"/>
<line x1="59.84" y1="771.77" x2="62.63" y2="771.77" stroke="#c4c4c4" stroke-width="0.7"/>
<line x1="59.84" y1="784.63" x2="62.63" y2="784.63" stroke="#c4c4c4" stroke-width="0.7"/>
<line x1="64.3" y1="774.66" x2="64.3" y2="787.14" stroke="#c4c4c4" stroke-width="0.7"/>
<line x1="62.9" y1="774.66" x2="65.7" y2="774.66" stroke="#c4c4c4" stroke-width="0.7"/>
<line x1="62.9" y1="787.14" x2="65.7" y2="787.14" stroke="#c4c4c4" stroke-width="0.7"/>
<line x1="67.37" y1="780.01" x2="67.37" y2="791.79" stroke="#c4c4c4" stroke-width="0.7"/>
<line x1="65.97" y1="780.01" x2="68.77" y2="780.01" stroke="#c4c4c4" stroke-width="0.7"/>
<line x1="65.97" y1="791.79" x2="68.77" y2="791.79" stroke="#c4c4c4" stroke-width="0.7"/>
<line x1="70.44" y1="774.45" x2="70.44" y2="786.95" stroke="#c4c4c4" stroke-width="0.7"/>
<line x1="69.04" y1="774.45" x2="71.84" y2="774.45" stroke="#c4c4c4" stroke-width="0.7"/>
<line x1="69.04" y1="786.95" x2="71.84" y2="786.95" stroke="#c4c4c4" stroke-width="0.7"/>
<line x1="73.5" y1="770.92" x2="73.5" y2="783.88" stroke="#c4c4c4" stroke-width="0.7"/>
<line x1="72.1" y1="770.92" x2="74.9" y2="770.92" stroke="#c4c4c4" stroke-width="0.7"/>
<line x1="72.1" y1="783.88" x2="74.9" y2="783.88" stroke="#c4c4c4" stroke-width="0.7"/>
<line x1="76.57" y1="767.6" x2="76.57" y2="781" stroke="#c4c4c4" stroke-width="0.7"/>
<line x1="75.17" y1="767.6" x2="77.97" y2="767.6" stroke="#c4c4c4" stroke-width="0.7"/>
<line x1="75.17" y1="781" x2="77.97" y2="781" stroke="#c4c4c4" stroke-width="0.7"/>
<line x1="79.64" y1="770.7" x2="79.64" y2="783.7" stroke="#c4c4c4" stroke-width="0.7"/>
<line x1="78.24" y1="770.7" x2="81.04" y2="770.7" stroke="#c4c4c4" stroke-width="0.7"/>
<line x1="78.24" y1="783.7" x2="81.04" y2="783.7" stroke="#c4c4c4" stroke-width="0.7"/>
<line x1="82.7" y1="788.79" x2="82.7" y2="799.41" stroke="#c4c4c4" stroke-width="0.7"/>
<line x1="81.3" y1="788.79" x2="84.1" y2="788.79" stroke="#c4c4c4" stroke-width="0.7"/>
<line x1="81.3" y1="799.41" x2="84.1" y2="799.41" stroke="#c4c4c4" stroke-width="0.7"/>
<line x1="85.77" y1="792.53" x2="85.77" y2="802.67" stroke="#c4c4c4" stroke-width="0.7"/>
<line x1="84.37" y1="792.53" x2="87.17" y2="792.53" stroke="#c4c4c4" stroke-width="0.7"/>
<line x1="84.37" y1="802.67" x2="87.17" y2="802.67" stroke="#c4c4c4" stroke-width="0.7"/>
<line x1="88.84" y1="785.9" x2="88.84" y2="796.9" stroke="#c4c4c4" stroke-width="0.7"/>
<line x1="87.44" y1="785.9" x2="90.24" y2="785.9" stroke="#c4c4c4" stroke-width="0.7"/>
<line x1="87.44" y1="796.9" x2="90.24" y2="796.9" stroke="#c4c4c4" stroke-width="0.7"/>
<line x1="91.91" y1="793.28" x2="91.91" y2="803.32" stroke="#c4c4c4" stroke-width="0.7"/>
<line x1="90.5" y1="793.28" x2="93.31" y2="793.28" stroke="#c4c4c4" stroke-width="0.7"/>
<line x1="90.5" y1="803.32" x2="93.31" y2="803.32" stroke="#c4c4c4" stroke-width="0.7"/>
<line x1="94.97" y1="790.61" x2="94.97" y2="800.99" stroke="#c4c4c4" stroke-width="0.7"/>
<line x1="93.57" y1="790.61" x2="96.37" y2="790.61" stroke="#c4c4c4" stroke-width="0.7"/>
<line x1="93.57" y1="800.99" x2="96.37" y2="800.99" stroke="#c4c4c4" stroke-width="0.7"/>
<line x1="98.04" y1="792" x2="98.04" y2="802.2" stroke="#c4c4c4" stroke-width="0.7"/>
<line x1="96.64" y1="792" x2="99.44" y2="792" stroke="#c4c4c4" stroke-width="0.7"/>
<line x1="96.64" y1="802.2" x2="99.44" y2="802.2" stroke="#c4c4c4" stroke-width="0.7"/>
<line x1="101.11" y1="798.2" x2="101.11" y2="807.6" stroke="#c4c4c4" stroke-width="0.7"/>
<line x1="99.71" y1="798.2" x2="102.51" y2="798.2" stroke="#c4c4c4" stroke-width="0.7"/>
<line x1="99.71" y1="807.6" x2="102.51" y2="807.6" stroke="#c4c4c4" stroke-width="0.7"/>
<line x1="104.17" y1="796.49" x2="104.17" y2="806.11" stroke="#c4c4c4" stroke-width="0.7"/>
<line x1="102.77" y1="796.49" x2="105.57" y2="796.49" stroke="#c4c4c4" stroke-width="0.7"/>
<line x1="102.77" y1="806.11" x2="105.57" y2="806.11" stroke="#c4c4c4" stroke-width="0.7"/>
<line x1="107.24" y1="800.24" x2="107.24" y2="809.36" stroke="#c4c4c4" stroke-width="0.7"/>
<line x1="105.84" y1="800.24" x2="108.64" y2="800.24" stroke="#c4c4c4" stroke-width="0.7"/>
<line x1="105.84" y1="809.36" x2="108.64" y2="809.36" stroke="#c4c4c4" stroke-width="0.7"/>
<line x1="110.31" y1="802.27" x2="110.31" y2="811.13" stroke="#c4c4c4" stroke-width="0.7"/>
<line x1="108.91" y1="802.27" x2="111.71" y2="802.27" stroke="#c4c4c4" stroke-width="0.7"/>
<line x1="108.91" y1="811.13" x2="111.71" y2="811.13" stroke="#c4c4c4" stroke-width="0.7"/>
<line x1="113.37" y1="800.45" x2="113.37" y2="809.55" stroke="#c4c4c4" stroke-width="0.7"/>
<line x1="111.97" y1="800.45" x2="114.77" y2="800.45" stroke="#c4c4c4" stroke-width="0.7"/>
<line x1="111.97" y1="809.55" x2="114.77" y2="809.55" stroke="#c4c4c4" stroke-width="0.7"/>
<line x1="116.44" y1="805.48" x2="116.44" y2="813.92" stroke="#c4c4c4" stroke-width="0.7"/>
<line x1="115.04" y1="805.48" x2="117.84" y2="805.48" stroke="#c4c4c4" stroke-width="0.7"/>
<line x1="115.04" y1="813.92" x2="117.84" y2="813.92" stroke="#c4c4c4" stroke-width="0.7"/>
<line x1="119.51" y1="790.28" x2="119.51" y2="800.72" stroke="#c4c4c4" stroke-width="0.7"/>
<line x1="118.11" y1="790.28" x2="120.91" y2="790.28" stroke="#c4c4c4" stroke-width="0.7"/>
<line x1="118.11" y1="800.72" x2="120.91" y2="800.72" stroke="#c4c4c4" stroke-width="0.7"/>
<line x1="122.58" y1="794.03" x2="122.58" y2="803.97" stroke="#c4c4c4" stroke-width="0.7"/>
<line x1="121.18" y1="794.03" x2="123.98" y2="794.03" stroke="#c4c4c4" stroke-width="0.7"/>
<line x1="121.18" y1="803.97" x2="123.98" y2="803.97" stroke="#c4c4c4" stroke-width="0.7"/>
<line x1="125.64" y1="782.47" x2="125.64" y2="793.93" stroke="#c4c4c4" stroke-width="0.7"/>
<line x1="124.24" y1="782.47" x2="127.04" y2="782.47" stroke="#c4c4c4" stroke-width="0.7"/>
<line x1="124.24" y1="793.93" x2="127.04" y2="793.93" stroke="#c4c4c4" stroke-width="0.7"/>
<line x1="128.71" y1="777.45" x2="128.71" y2="789.55" stroke="#c4c4c4" stroke-width="0.7"/>
<line x1="127.31" y1="777.45" x2="130.11" y2="777.45" stroke="#c4c4c4" stroke-width="0.7"/>
<line x1="127.31" y1="789.55" x2="130.11" y2="789.55" stroke="#c4c4c4" stroke-width="0.7"/>
<line x1="131.78" y1="778.3" x2="131.78" y2="790.3" stroke="#c4c4c4" stroke-width="0.7"/>
<line x1="130.38" y1="778.3" x2="133.18" y2="778.3" stroke="#c4c4c4" stroke-width="0.7"/>
<line x1="130.38" y1="790.3" x2="133.18" y2="790.3" stroke="#c4c4c4" stroke-width="0.7"/>
<line x1="134.84" y1="776.59" x2="134.84" y2="788.81" stroke="#c4c4c4" stroke-width="0.7"/>
<line x1="133.44" y1="776.59" x2="136.24" y2="776.59" stroke="#c4c4c4" stroke-width="0.7"/>
<line x1="133.44" y1="788.81" x2="136.24" y2="788.81" stroke="#c4c4c4" stroke-width="0.7"/>
<line x1="137.91" y1="769.96" x2="137.91" y2="783.04" stroke="#c4c4c4" stroke-width="0.7"/>
<line x1="136.51" y1="769.96" x2="139.31" y2="769.96" stroke="#c4c4c4" stroke-width="0.7"/>
<line x1="136.51" y1="783.04" x2="139.31" y2="783.04" stroke="#c4c4c4" stroke-width="0.7"/>
<line x1="140.98" y1="772.95" x2="140.98" y2="785.65" stroke="#c4c4c4" stroke-width="0.7"/>
<line x1="139.58" y1="772.95" x2="142.38" y2="772.95" stroke="#c4c4c4" stroke-width="0.7"/>
<line x1="139.58" y1="785.65" x2="142.38" y2="785.65" stroke="#c4c4c4" stroke-width="0.7"/>
<line x1="144.04" y1="776.16" x2="144.04" y2="788.44" stroke="#c4c4c4" stroke-width="0.7"/>
<line x1="142.64" y1="776.16" x2="145.44" y2="776.16" stroke="#c4c4c4" stroke-width="0.7"/>
<line x1="142.64" y1="788.44" x2="145.44" y2="788.44" stroke="#c4c4c4" stroke-width="0.7"/>
<line x1="147.11" y1="765.25" x2="147.11" y2="778.95" stroke="#c4c4c4" stroke-width="0.7"/>
<line x1="145.71" y1="765.25" x2="148.51" y2="765.25" stroke="#c4c4c4" stroke-width="0.7"/>
<line x1="145.71" y1="778.95" x2="148.51" y2="778.95" stroke="#c4c4c4" stroke-width="0.7"/>
<line x1="150.18" y1="766.85" x2="150.18" y2="780.35" stroke="#c4c4c4" stroke-width="0.7"/>
<line x1="148.78" y1="766.85" x2="151.58" y2="766.85" stroke="#c4c4c4" stroke-width="0.7"/>
<line x1="148.78" y1="780.35" x2="151.58" y2="780.35" stroke="#c4c4c4" stroke-width="0.7"/>
<line x1="153.25" y1="770.92" x2="153.25" y2="783.88" stroke="#c4c4c4" stroke-width="0.7"/>
<line x1="151.84" y1="770.92" x2="154.65" y2="770.92" stroke="#c4c4c4" stroke-width="0.7"/>
<line x1="151.84" y1="783.88" x2="154.65" y2="783.88" stroke="#c4c4c4" stroke-width="0.7"/>
<line x1="156.31" y1="779.16" x2="156.31" y2="791.04" stroke="#c4c4c4" stroke-width="0.7"/>
<line x1="154.91" y1="779.16" x2="157.71" y2="779.16" stroke="#c4c4c4" stroke-width="0.7"/>
<line x1="154.91" y1="791.04" x2="157.71" y2="791.04" stroke="#c4c4c4" stroke-width="0.7"/>
<line x1="159.38" y1="782.47" x2="159.38" y2="793.93" stroke="#c4c4c4" stroke-width="0.7"/>
<line x1="157.98" y1="782.47" x2="160.78" y2="782.47" stroke="#c4c4c4" stroke-width="0.7"/>
<line x1="157.98" y1="793.93" x2="160.78" y2="793.93" stroke="#c4c4c4" stroke-width="0.7"/>
<line x1="162.45" y1="785.79" x2="162.45" y2="796.81" stroke="#c4c4c4" stroke-width="0.7"/>
<line x1="161.05" y1="785.79" x2="163.85" y2="785.79" stroke="#c4c4c4" stroke-width="0.7"/>
<line x1="161.05" y1="796.81" x2="163.85" y2="796.81" stroke="#c4c4c4" stroke-width="0.7"/>
<line x1="165.51" y1="796.06" x2="165.51" y2="805.74" stroke="#c4c4c4" stroke-width="0.7"/>
<line x1="164.11" y1="796.06" x2="166.91" y2="796.06" stroke="#c4c4c4" stroke-width="0.7"/>
<line x1="164.11" y1="805.74" x2="166.91" y2="805.74" stroke="#c4c4c4" stroke-width="0.7"/>
<line x1="168.58" y1="790.71" x2="168.58" y2="801.09" stroke="#c4c4c4" stroke-width="0.7"/>
<line x1="167.18" y1="790.71" x2="169.98" y2="790.71" stroke="#c4c4c4" stroke-width="0.7"/>
<line x1="167.18" y1="801.09" x2="169.98" y2="801.09" stroke="#c4c4c4" stroke-width="0.7"/>
<line x1="171.65" y1="797.35" x2="171.65" y2="806.85" stroke="#c4c4c4" stroke-width="0.7"/>
<line x1="170.25" y1="797.35" x2="173.05" y2="797.35" stroke="#c4c4c4" stroke-width="0.7"/>
<line x1="170.25" y1="806.85" x2="173.05" y2="806.85" stroke="#c4c4c4" stroke-width="0.7"/>
<line x1="174.71" y1="799.81" x2="174.71" y2="808.99" stroke="#c4c4c4" stroke-width="0.7"/>
<line x1="173.31" y1="799.81" x2="176.11" y2="799.81" stroke="#c4c4c4" stroke-width="0.7"/>
<line x1="173.31" y1="808.99" x2="176.11" y2="808.99" stroke="#c4c4c4" stroke-width="0.7"/>
<line x1="177.78" y1="801.73" x2="177.78" y2="810.67" stroke="#c4c4c4" stroke-width="0.7"/>
<line x1="176.38" y1="801.73" x2="179.18" y2="801.73" stroke="#c4c4c4" stroke-width="0.7"/>
<line x1="176.38" y1="810.67" x2="179.18" y2="810.67" stroke="#c4c4c4" stroke-width="0.7"/>
<line x1="180.85" y1="800.45" x2="180.85" y2="809.55" stroke="#c4c4c4" stroke-width="0.7"/>
<line x1="179.45" y1="800.45" x2="182.25" y2="800.45" stroke="#c4c4c4" stroke-width="0.7"/>
<line x1="179.45" y1="809.55" x2="182.25" y2="809.55" stroke="#c4c4c4" stroke-width="0.7"/>
<line x1="183.92" y1="809.33" x2="183.92" y2="817.27" stroke="#c4c4c4" stroke-width="0.7"/>
<line x1="182.52" y1="809.33" x2="185.32" y2="809.33" stroke="#c4c4c4" stroke-width="0.7"/>
<line x1="182.52" y1="817.27" x2="185.32" y2="817.27" stroke="#c4c4c4" stroke-width="0.7"/>
<line x1="186.98" y1="803.77" x2="186.98" y2="812.43" stroke="#c4c4c4" stroke-width="0.7"/>
<line x1="185.58" y1="803.77" x2="188.38" y2="803.77" stroke="#c4c4c4" stroke-width="0.7"/>
<line x1="185.58" y1="812.43" x2="188.38" y2="812.43" stroke="#c4c4c4" stroke-width="0.7"/>
<line x1="190.05" y1="803.77" x2="190.05" y2="812.43" stroke="#c4c4c4" stroke-width="0.7"/>
<line x1="188.65" y1="803.77" x2="191.45" y2="803.77" stroke="#c4c4c4" stroke-width="0.7"/>
<line x1="188.65" y1="812.43" x2="191.45" y2="812.43" stroke="#c4c4c4" stroke-width="0.7"/>
<line x1="193.12" y1="789.11" x2="193.12" y2="799.69" stroke="#c4c4c4" stroke-width="0.7"/>
<line x1="191.72" y1="789.11" x2="194.52" y2="789.11" stroke="#c4c4c4" stroke-width="0.7"/>
<line x1="191.72" y1="799.69" x2="194.52" y2="799.69" stroke="#c4c4c4" stroke-width="0.7"/>
<line x1="196.18" y1="791.03" x2="196.18" y2="801.37" stroke="#c4c4c4" stroke-width="0.7"/>
<line x1="194.78" y1="791.03" x2="197.58" y2="791.03" stroke="#c4c4c4" stroke-width="0.7"/>
<line x1="194.78" y1="801.37" x2="197.58" y2="801.37" stroke="#c4c4c4" stroke-width="0.7"/>
<line x1="199.25" y1="778.3" x2="199.25" y2="790.3" stroke="#c4c4c4" stroke-width="0.7"/>
<line x1="197.85" y1="778.3" x2="200.65" y2="778.3" stroke="#c4c4c4" stroke-width="0.7"/>
<line x1="197.85" y1="790.3" x2="200.65" y2="790.3" stroke="#c4c4c4" stroke-width="0.7"/>
<line x1="202.32" y1="781.73" x2="202.32" y2="793.27" stroke="#c4c4c4" stroke-width="0.7"/>
<line x1="200.92" y1="781.73" x2="203.72" y2="781.73" stroke="#c4c4c4" stroke-width="0.7"/>
<line x1="200.92" y1="793.27" x2="203.72" y2="793.27" stroke="#c4c4c4" stroke-width="0.7"/>
<line x1="205.38" y1="775.09" x2="205.38" y2="787.51" stroke="#c4c4c4" stroke-width="0.7"/>
<line x1="203.98" y1="775.09" x2="206.78" y2="775.09" stroke="#c4c4c4" stroke-width="0.7"/>
<line x1="203.98" y1="787.51" x2="206.78" y2="787.51" stroke="#c4c4c4" stroke-width="0.7"/>
<line x1="208.45" y1="770.7" x2="208.45" y2="783.7" stroke="#c4c4c4" stroke-width="0.7"/>
<line x1="207.05" y1="770.7" x2="209.85" y2="770.7" stroke="#c4c4c4" stroke-width="0.7"/>
<line x1="207.05" y1="783.7" x2="209.85" y2="783.7" stroke="#c4c4c4" stroke-width="0.7"/>
<line x1="211.52" y1="775.52" x2="211.52" y2="787.88" stroke="#c4c4c4" stroke-width="0.7"/>
<line x1="210.12" y1="775.52" x2="212.92" y2="775.52" stroke="#c4c4c4" stroke-width="0.7"/>
<line x1="210.12" y1="787.88" x2="212.92" y2="787.88" stroke="#c4c4c4" stroke-width="0.7"/>
<line x1="214.59" y1="775.84" x2="214.59" y2="788.16" stroke="#c4c4c4" stroke-width="0.7"/>
<line x1="213.19" y1="775.84" x2="215.99" y2="775.84" stroke="#c4c4c4" stroke-width="0.7"/>
<line x1="213.19" y1="788.16" x2="215.99" y2="788.16" stroke="#c4c4c4" stroke-width="0.7"/>
<line x1="217.65" y1="770.7" x2="217.65" y2="783.7" stroke="#c4c4c4" stroke-width="0.7"/>
<line x1="216.25" y1="770.7" x2="219.05" y2="770.7" stroke="#c4c4c4" stroke-width="0.7"/>
<line x1="216.25" y1="783.7" x2="219.05" y2="783.7" stroke="#c4c4c4" stroke-width="0.7"/>
<line x1="220.72" y1="763.86" x2="220.72" y2="777.74" stroke="#c4c4c4" stroke-width="0.7"/>
<line x1="219.32" y1="763.86" x2="222.12" y2="763.86" stroke="#c4c4c4" stroke-width="0.7"/>
<line x1="219.32" y1="777.74" x2="222.12" y2="777.74" stroke="#c4c4c4" stroke-width="0.7"/>
<line x1="223.79" y1="760.11" x2="223.79" y2="774.49" stroke="#c4c4c4" stroke-width="0.7"/>
<line x1="222.39" y1="760.11" x2="225.19" y2="760.11" stroke="#c4c4c4" stroke-width="0.7"/>
<line x1="222.39" y1="774.49" x2="225.19" y2="774.49" stroke="#c4c4c4" stroke-width="0.7"/>
<line x1="226.85" y1="765.14" x2="226.85" y2="778.86" stroke="#c4c4c4" stroke-width="0.7"/>
<line x1="225.45" y1="765.14" x2="228.25" y2="765.14" stroke="#c4c4c4" stroke-width="0.7"/>
<line x1="225.45" y1="778.86" x2="228.25" y2="778.86" stroke="#c4c4c4" stroke-width="0.7"/>
<line x1="229.92" y1="780.87" x2="229.92" y2="792.53" stroke="#c4c4c4" stroke-width="0.7"/>
<line x1="228.52" y1="780.87" x2="231.32" y2="780.87" stroke="#c4c4c4" stroke-width="0.7"/>
<line x1="228.52" y1="792.53" x2="231.32" y2="792.53" stroke="#c4c4c4" stroke-width="0.7"/>
<line x1="232.99" y1="778.19" x2="232.99" y2="790.21" stroke="#c4c4c4" stroke-width="0.7"/>
<line x1="231.59" y1="778.19" x2="234.39" y2="778.19" stroke="#c4c4c4" stroke-width="0.7"/>
<line x1="231.59" y1="790.21" x2="234.39" y2="790.21" stroke="#c4c4c4" stroke-width="0.7"/>
<line x1="236.05" y1="787.5" x2="236.05" y2="798.3" stroke="#c4c4c4" stroke-width="0.7"/>
<line x1="234.65" y1="787.5" x2="237.45" y2="787.5" stroke="#c4c4c4" stroke-width="0.7"/>
<line x1="234.65" y1="798.3" x2="237.45" y2="798.3" stroke="#c4c4c4" stroke-width="0.7"/>
<line x1="239.12" y1="781.08" x2="239.12" y2="792.72" stroke="#c4c4c4" stroke-width="0.7"/>
<line x1="237.72" y1="781.08" x2="240.52" y2="781.08" stroke="#c4c4c4" stroke-width="0.7"/>
<line x1="237.72" y1="792.72" x2="240.52" y2="792.72" stroke="#c4c4c4" stroke-width="0.7"/>
<line x1="242.19" y1="784.83" x2="242.19" y2="795.97" stroke="#c4c4c4" stroke-width="0.7"/>
<line x1="240.79" y1="784.83" x2="243.59" y2="784.83" stroke="#c4c4c4" stroke-width="0.7"/>
<line x1="240.79" y1="795.97" x2="243.59" y2="795.97" stroke="#c4c4c4" stroke-width="0.7"/>
<line x1="245.26" y1="795.1" x2="245.26" y2="804.9" stroke="#c4c4c4" stroke-width="0.7"/>
<line x1="243.86" y1="795.1" x2="246.66" y2="795.1" stroke="#c4c4c4" stroke-width="0.7"/>
<line x1="243.86" y1="804.9" x2="246.66" y2="804.9" stroke="#c4c4c4" stroke-width="0.7"/>
<line x1="248.32" y1="789.75" x2="248.32" y2="800.25" stroke="#c4c4c4" stroke-width="0.7"/>
<line x1="246.92" y1="789.75" x2="249.72" y2="789.75" stroke="#c4c4c4" stroke-width="0.7"/>
<line x1="246.92" y1="800.25" x2="249.72" y2="800.25" stroke="#c4c4c4" stroke-width="0.7"/>
<line x1="251.39" y1="797.35" x2="251.39" y2="806.85" stroke="#c4c4c4" stroke-width="0.7"/>
<line x1="249.99" y1="797.35" x2="252.79" y2="797.35" stroke="#c4c4c4" stroke-width="0.7"/>
<line x1="249.99" y1="806.85" x2="252.79" y2="806.85" stroke="#c4c4c4" stroke-width="0.7"/>
<line x1="254.46" y1="800.99" x2="254.46" y2="810.01" stroke="#c4c4c4" stroke-width="0.7"/>
<line x1="253.06" y1="800.99" x2="255.86" y2="800.99" stroke="#c4c4c4" stroke-width="0.7"/>
<line x1="253.06" y1="810.01" x2="255.86" y2="810.01" stroke="#c4c4c4" stroke-width="0.7"/>
<line x1="257.52" y1="801.31" x2="257.52" y2="810.29" stroke="#c4c4c4" stroke-width="0.7"/>
<line x1="256.12" y1="801.31" x2="258.92" y2="801.31" stroke="#c4c4c4" stroke-width="0.7"/>
<line x1="256.12" y1="810.29" x2="258.92" y2="810.29" stroke="#c4c4c4" stroke-width="0.7"/>
<line x1="260.59" y1="803.98" x2="260.59" y2="812.62" stroke="#c4c4c4" stroke-width="0.7"/>
<line x1="259.19" y1="803.98" x2="261.99" y2="803.98" stroke="#c4c4c4" stroke-width="0.7"/>
<line x1="259.19" y1="812.62" x2="261.99" y2="812.62" stroke="#c4c4c4" stroke-width="0.7"/>
<line x1="263.66" y1="805.26" x2="263.66" y2="813.74" stroke="#c4c4c4" stroke-width="0.7"/>
<line x1="262.26" y1="805.26" x2="265.06" y2="805.26" stroke="#c4c4c4" stroke-width="0.7"/>
<line x1="262.26" y1="813.74" x2="265.06" y2="813.74" stroke="#c4c4c4" stroke-width="0.7"/>
<polyline points="45.9,802.6 48.97,799.5 52.03,786.9 55.1,779 58.17,786.5 61.23,778.2 64.3,780.9 67.37,785.9 70.44,780.7 73.5,777.4 76.57,774.3 79.64,777.2 82.7,794.1 85.77,797.6 88.84,791.4 91.91,798.3 94.97,795.8 98.04,797.1 101.11,802.9 104.17,801.3 107.24,804.8 110.31,806.7 113.37,805 116.44,809.7 119.51,795.5 122.58,799 125.64,788.2 128.71,783.5 131.78,784.3 134.84,782.7 137.91,776.5 140.98,779.3 144.04,782.3 147.11,772.1 150.18,773.6 153.25,777.4 156.31,785.1 159.38,788.2 162.45,791.3 165.51,800.9 168.58,795.9 171.65,802.1 174.71,804.4 177.78,806.2 180.85,805 183.92,813.3 186.98,808.1 190.05,808.1 193.12,794.4 196.18,796.2 199.25,784.3 202.32,787.5 205.38,781.3 208.45,777.2 211.52,781.7 214.59,782 217.65,777.2 220.72,770.8 223.79,767.3 226.85,772 229.92,786.7 232.99,784.2 236.05,792.9 239.12,786.9 242.19,790.4 245.26,800 248.32,795 251.39,802.1 254.46,805.5 257.52,805.8 260.59,808.3 263.66,809.5" fill="none" stroke="#333" stroke-width="0.9"/>
<polyline points="45.9,794.9 48.97,785.2 52.03,769.7 55.1,767.5 58.17,770.7 61.23,756.3 64.3,759.8 67.37,760.7 70.44,763.8 73.5,754.2 76.57,759.3 79.64,759.6 82.7,768.6 85.77,763.5 88.84,776.7 91.91,779.8 94.97,789.3 98.04,789.8 101.11,799 104.17,796.9 107.24,804.2 110.31,805.2 113.37,803.6 116.44,805.7 119.51,792.6 122.58,789.9 125.64,772.6 128.71,765.3 131.78,759.1 134.84,757.8 137.91,753.7 140.98,749.8 144.04,750.4 147.11,748.8 150.18,746.7 153.25,750.4 156.31,758.2 159.38,770.6 162.45,766.5 165.51,767.8 168.58,783 171.65,782 174.71,784.3 177.78,788 180.85,793 183.92,793.8 186.98,800.4 190.05,797.9 193.12,784.2 196.18,782.8 199.25,773 202.32,764.6 205.38,755.9 208.45,751.9 211.52,749.5 214.59,747.2 217.65,745.7 220.72,742.3 223.79,738.9 226.85,743.7 229.92,749.7 232.99,754.7 236.05,757.8 239.12,766.8 242.19,770.8 245.26,772.7 248.32,778.6 251.39,778.6 254.46,784.4 257.52,788.4 260.59,790.6 263.66,789.8" fill="none" stroke="#333" stroke-width="0.9"/>
<circle cx="45.9" cy="802.6" r="2.35" fill="#fff" stroke="#222" stroke-width="1.15"/>
<circle cx="48.97" cy="799.5" r="2.35" fill="#fff" stroke="#222" stroke-width="1.15"/>
<circle cx="52.03" cy="786.9" r="2.35" fill="#fff" stroke="#222" stroke-width="1.15"/>
<circle cx="55.1" cy="779" r="2.35" fill="#fff" stroke="#222" stroke-width="1.15"/>
<circle cx="58.17" cy="786.5" r="2.35" fill="#fff" stroke="#222" stroke-width="1.15"/>
<circle cx="61.23" cy="778.2" r="2.35" fill="#fff" stroke="#222" stroke-width="1.15"/>
<circle cx="64.3" cy="780.9" r="2.35" fill="#fff" stroke="#222" stroke-width="1.15"/>
<circle cx="67.37" cy="785.9" r="2.35" fill="#fff" stroke="#222" stroke-width="1.15"/>
<circle cx="70.44" cy="780.7" r="2.35" fill="#fff" stroke="#222" stroke-width="1.15"/>
<circle cx="73.5" cy="777.4" r="2.35" fill="#fff" stroke="#222" stroke-width="1.15"/>
<circle cx="76.57" cy="774.3" r="2.35" fill="#fff" stroke="#222" stroke-width="1.15"/>
<circle cx="79.64" cy="777.2" r="2.35" fill="#fff" stroke="#222" stroke-width="1.15"/>
<circle cx="82.7" cy="794.1" r="2.35" fill="#fff" stroke="#222" stroke-width="1.15"/>
<circle cx="85.77" cy="797.6" r="2.35" fill="#fff" stroke="#222" stroke-width="1.15"/>
<circle cx="88.84" cy="791.4" r="2.35" fill="#fff" stroke="#222" stroke-width="1.15"/>
<circle cx="91.91" cy="798.3" r="2.35" fill="#fff" stroke="#222" stroke-width="1.15"/>
<circle cx="94.97" cy="795.8" r="2.35" fill="#fff" stroke="#222" stroke-width="1.15"/>
<circle cx="98.04" cy="797.1" r="2.35" fill="#fff" stroke="#222" stroke-width="1.15"/>
<circle cx="101.11" cy="802.9" r="2.35" fill="#fff" stroke="#222" stroke-width="1.15"/>
<circle cx="104.17" cy="801.3" r="2.35" fill="#fff" stroke="#222" stroke-width="1.15"/>
<circle cx="107.24" cy="804.8" r="2.35" fill="#fff" stroke="#222" stroke-width="1.15"/>
<circle cx="110.31" cy="806.7" r="2.35" fill="#fff" stroke="#222" stroke-width="1.15"/>
<circle cx="113.37" cy="805" r="2.35" fill="#fff" stroke="#222" stroke-width="1.15"/>
<circle cx="116.44" cy="809.7" r="2.35" fill="#fff" stroke="#222" stroke-width="1.15"/>
<circle cx="119.51" cy="795.5" r="2.35" fill="#fff" stroke="#222" stroke-width="1.15"/>
<circle cx="122.58" cy="799" r="2.35" fill="#fff" stroke="#222" stroke-width="1.15"/>
<circle cx="125.64" cy="788.2" r="2.35" fill="#fff" stroke="#222" stroke-width="1.15"/>
<circle cx="128.71" cy="783.5" r="2.35" fill="#fff" stroke="#222" stroke-width="1.15"/>
<circle cx="131.78" cy="784.3" r="2.35" fill="#fff" stroke="#222" stroke-width="1.15"/>
<circle cx="134.84" cy="782.7" r="2.35" fill="#fff" stroke="#222" stroke-width="1.15"/>
<circle cx="137.91" cy="776.5" r="2.35" fill="#fff" stroke="#222" stroke-width="1.15"/>
<circle cx="140.98" cy="779.3" r="2.35" fill="#fff" stroke="#222" stroke-width="1.15"/>
<circle cx="144.04" cy="782.3" r="2.35" fill="#fff" stroke="#222" stroke-width="1.15"/>
<circle cx="147.11" cy="772.1" r="2.35" fill="#fff" stroke="#222" stroke-width="1.15"/>
<circle cx="150.18" cy="773.6" r="2.35" fill="#fff" stroke="#222" stroke-width="1.15"/>
<circle cx="153.25" cy="777.4" r="2.35" fill="#fff" stroke="#222" stroke-width="1.15"/>
<circle cx="156.31" cy="785.1" r="2.35" fill="#fff" stroke="#222" stroke-width="1.15"/>
<circle cx="159.38" cy="788.2" r="2.35" fill="#fff" stroke="#222" stroke-width="1.15"/>
<circle cx="162.45" cy="791.3" r="2.35" fill="#fff" stroke="#222" stroke-width="1.15"/>
<circle cx="165.51" cy="800.9" r="2.35" fill="#fff" stroke="#222" stroke-width="1.15"/>
<circle cx="168.58" cy="795.9" r="2.35" fill="#fff" stroke="#222" stroke-width="1.15"/>
<circle cx="171.65" cy="802.1" r="2.35" fill="#fff" stroke="#222" stroke-width="1.15"/>
<circle cx="174.71" cy="804.4" r="2.35" fill="#fff" stroke="#222" stroke-width="1.15"/>
<circle cx="177.78" cy="806.2" r="2.35" fill="#fff" stroke="#222" stroke-width="1.15"/>
<circle cx="180.85" cy="805" r="2.35" fill="#fff" stroke="#222" stroke-width="1.15"/>
<circle cx="183.92" cy="813.3" r="2.35" fill="#fff" stroke="#222" stroke-width="1.15"/>
<circle cx="186.98" cy="808.1" r="2.35" fill="#fff" stroke="#222" stroke-width="1.15"/>
<circle cx="190.05" cy="808.1" r="2.35" fill="#fff" stroke="#222" stroke-width="1.15"/>
<circle cx="193.12" cy="794.4" r="2.35" fill="#fff" stroke="#222" stroke-width="1.15"/>
<circle cx="196.18" cy="796.2" r="2.35" fill="#fff" stroke="#222" stroke-width="1.15"/>
<circle cx="199.25" cy="784.3" r="2.35" fill="#fff" stroke="#222" stroke-width="1.15"/>
<circle cx="202.32" cy="787.5" r="2.35" fill="#fff" stroke="#222" stroke-width="1.15"/>
<circle cx="205.38" cy="781.3" r="2.35" fill="#fff" stroke="#222" stroke-width="1.15"/>
<circle cx="208.45" cy="777.2" r="2.35" fill="#fff" stroke="#222" stroke-width="1.15"/>
<circle cx="211.52" cy="781.7" r="2.35" fill="#fff" stroke="#222" stroke-width="1.15"/>
<circle cx="214.59" cy="782" r="2.35" fill="#fff" stroke="#222" stroke-width="1.15"/>
<circle cx="217.65" cy="777.2" r="2.35" fill="#fff" stroke="#222" stroke-width="1.15"/>
<circle cx="220.72" cy="770.8" r="2.35" fill="#fff" stroke="#222" stroke-width="1.15"/>
<circle cx="223.79" cy="767.3" r="2.35" fill="#fff" stroke="#222" stroke-width="1.15"/>
<circle cx="226.85" cy="772" r="2.35" fill="#fff" stroke="#222" stroke-width="1.15"/>
<circle cx="229.92" cy="786.7" r="2.35" fill="#fff" stroke="#222" stroke-width="1.15"/>
<circle cx="232.99" cy="784.2" r="2.35" fill="#fff" stroke="#222" stroke-width="1.15"/>
<circle cx="236.05" cy="792.9" r="2.35" fill="#fff" stroke="#222" stroke-width="1.15"/>
<circle cx="239.12" cy="786.9" r="2.35" fill="#fff" stroke="#222" stroke-width="1.15"/>
<circle cx="242.19" cy="790.4" r="2.35" fill="#fff" stroke="#222" stroke-width="1.15"/>
<circle cx="245.26" cy="800" r="2.35" fill="#fff" stroke="#222" stroke-width="1.15"/>
<circle cx="248.32" cy="795" r="2.35" fill="#fff" stroke="#222" stroke-width="1.15"/>
<circle cx="251.39" cy="802.1" r="2.35" fill="#fff" stroke="#222" stroke-width="1.15"/>
<circle cx="254.46" cy="805.5" r="2.35" fill="#fff" stroke="#222" stroke-width="1.15"/>
<circle cx="257.52" cy="805.8" r="2.35" fill="#fff" stroke="#222" stroke-width="1.15"/>
<circle cx="260.59" cy="808.3" r="2.35" fill="#fff" stroke="#222" stroke-width="1.15"/>
<circle cx="263.66" cy="809.5" r="2.35" fill="#fff" stroke="#222" stroke-width="1.15"/>
<circle cx="45.9" cy="794.9" r="2.6" fill="#333"/>
<circle cx="48.97" cy="785.2" r="2.6" fill="#333"/>
<circle cx="52.03" cy="769.7" r="2.6" fill="#333"/>
<circle cx="55.1" cy="767.5" r="2.6" fill="#333"/>
<circle cx="58.17" cy="770.7" r="2.6" fill="#333"/>
<circle cx="61.23" cy="756.3" r="2.6" fill="#333"/>
<circle cx="64.3" cy="759.8" r="2.6" fill="#333"/>
<circle cx="67.37" cy="760.7" r="2.6" fill="#333"/>
<circle cx="70.44" cy="763.8" r="2.6" fill="#333"/>
<circle cx="73.5" cy="754.2" r="2.6" fill="#333"/>
<circle cx="76.57" cy="759.3" r="2.6" fill="#333"/>
<circle cx="79.64" cy="759.6" r="2.6" fill="#333"/>
<circle cx="82.7" cy="768.6" r="2.6" fill="#333"/>
<circle cx="85.77" cy="763.5" r="2.6" fill="#333"/>
<circle cx="88.84" cy="776.7" r="2.6" fill="#333"/>
<circle cx="91.91" cy="779.8" r="2.6" fill="#333"/>
<circle cx="94.97" cy="789.3" r="2.6" fill="#333"/>
<circle cx="98.04" cy="789.8" r="2.6" fill="#333"/>
<circle cx="101.11" cy="799" r="2.6" fill="#333"/>
<circle cx="104.17" cy="796.9" r="2.6" fill="#333"/>
<circle cx="107.24" cy="804.2" r="2.6" fill="#333"/>
<circle cx="110.31" cy="805.2" r="2.6" fill="#333"/>
<circle cx="113.37" cy="803.6" r="2.6" fill="#333"/>
<circle cx="116.44" cy="805.7" r="2.6" fill="#333"/>
<circle cx="119.51" cy="792.6" r="2.6" fill="#333"/>
<circle cx="122.58" cy="789.9" r="2.6" fill="#333"/>
<circle cx="125.64" cy="772.6" r="2.6" fill="#333"/>
<circle cx="128.71" cy="765.3" r="2.6" fill="#333"/>
<circle cx="131.78" cy="759.1" r="2.6" fill="#333"/>
<circle cx="134.84" cy="757.8" r="2.6" fill="#333"/>
<circle cx="137.91" cy="753.7" r="2.6" fill="#333"/>
<circle cx="140.98" cy="749.8" r="2.6" fill="#333"/>
<circle cx="144.04" cy="750.4" r="2.6" fill="#333"/>
<circle cx="147.11" cy="748.8" r="2.6" fill="#333"/>
<circle cx="150.18" cy="746.7" r="2.6" fill="#333"/>
<circle cx="153.25" cy="750.4" r="2.6" fill="#333"/>
<circle cx="156.31" cy="758.2" r="2.6" fill="#333"/>
<circle cx="159.38" cy="770.6" r="2.6" fill="#333"/>
<circle cx="162.45" cy="766.5" r="2.6" fill="#333"/>
<circle cx="165.51" cy="767.8" r="2.6" fill="#333"/>
<circle cx="168.58" cy="783" r="2.6" fill="#333"/>
<circle cx="171.65" cy="782" r="2.6" fill="#333"/>
<circle cx="174.71" cy="784.3" r="2.6" fill="#333"/>
<circle cx="177.78" cy="788" r="2.6" fill="#333"/>
<circle cx="180.85" cy="793" r="2.6" fill="#333"/>
<circle cx="183.92" cy="793.8" r="2.6" fill="#333"/>
<circle cx="186.98" cy="800.4" r="2.6" fill="#333"/>
<circle cx="190.05" cy="797.9" r="2.6" fill="#333"/>
<circle cx="193.12" cy="784.2" r="2.6" fill="#333"/>
<circle cx="196.18" cy="782.8" r="2.6" fill="#333"/>
<circle cx="199.25" cy="773" r="2.6" fill="#333"/>
<circle cx="202.32" cy="764.6" r="2.6" fill="#333"/>
<circle cx="205.38" cy="755.9" r="2.6" fill="#333"/>
<circle cx="208.45" cy="751.9" r="2.6" fill="#333"/>
<circle cx="211.52" cy="749.5" r="2.6" fill="#333"/>
<circle cx="214.59" cy="747.2" r="2.6" fill="#333"/>
<circle cx="217.65" cy="745.7" r="2.6" fill="#333"/>
<circle cx="220.72" cy="742.3" r="2.6" fill="#333"/>
<circle cx="223.79" cy="738.9" r="2.6" fill="#333"/>
<circle cx="226.85" cy="743.7" r="2.6" fill="#333"/>
<circle cx="229.92" cy="749.7" r="2.6" fill="#333"/>
<circle cx="232.99" cy="754.7" r="2.6" fill="#333"/>
<circle cx="236.05" cy="757.8" r="2.6" fill="#333"/>
<circle cx="239.12" cy="766.8" r="2.6" fill="#333"/>
<circle cx="242.19" cy="770.8" r="2.6" fill="#333"/>
<circle cx="245.26" cy="772.7" r="2.6" fill="#333"/>
<circle cx="248.32" cy="778.6" r="2.6" fill="#333"/>
<circle cx="251.39" cy="778.6" r="2.6" fill="#333"/>
<circle cx="254.46" cy="784.4" r="2.6" fill="#333"/>
<circle cx="257.52" cy="788.4" r="2.6" fill="#333"/>
<circle cx="260.59" cy="790.6" r="2.6" fill="#333"/>
<circle cx="263.66" cy="789.8" r="2.6" fill="#333"/>
<path d="M44.3 702.2 L44.3 850.2 L266.9 850.2" fill="none" stroke="#111" stroke-width="1.4"/>
<line x1="38.3" y1="702.2" x2="44.3" y2="702.2" stroke="#111" stroke-width="1.3"/>
<text x="36.3" y="706.1" font-size="10.8" font-weight="bold" text-anchor="end" fill="#111" font-style="normal">175</text>
<line x1="38.3" y1="726.87" x2="44.3" y2="726.87" stroke="#111" stroke-width="1.3"/>
<text x="36.3" y="730.77" font-size="10.8" font-weight="bold" text-anchor="end" fill="#111" font-style="normal">165</text>
<line x1="38.3" y1="751.54" x2="44.3" y2="751.54" stroke="#111" stroke-width="1.3"/>
<text x="36.3" y="755.44" font-size="10.8" font-weight="bold" text-anchor="end" fill="#111" font-style="normal">155</text>
<line x1="38.3" y1="776.21" x2="44.3" y2="776.21" stroke="#111" stroke-width="1.3"/>
<text x="36.3" y="780.11" font-size="10.8" font-weight="bold" text-anchor="end" fill="#111" font-style="normal">145</text>
<line x1="38.3" y1="800.88" x2="44.3" y2="800.88" stroke="#111" stroke-width="1.3"/>
<text x="36.3" y="804.78" font-size="10.8" font-weight="bold" text-anchor="end" fill="#111" font-style="normal">135</text>
<line x1="38.3" y1="825.55" x2="44.3" y2="825.55" stroke="#111" stroke-width="1.3"/>
<text x="36.3" y="829.45" font-size="10.8" font-weight="bold" text-anchor="end" fill="#111" font-style="normal">125</text>
<line x1="38.3" y1="850.22" x2="44.3" y2="850.22" stroke="#111" stroke-width="1.3"/>
<text x="36.3" y="854.12" font-size="10.8" font-weight="bold" text-anchor="end" fill="#111" font-style="normal">115</text>
<line x1="45.9" y1="850.2" x2="45.9" y2="856.4" stroke="#111" stroke-width="1.3"/>
<text transform="translate(47.9 865.5) rotate(-45)" font-size="9.4" font-weight="bold" text-anchor="end" fill="#111">6pm</text>
<line x1="64.3" y1="850.2" x2="64.3" y2="856.4" stroke="#111" stroke-width="1.3"/>
<text transform="translate(66.3 865.5) rotate(-45)" font-size="9.4" font-weight="bold" text-anchor="end" fill="#111">12am</text>
<line x1="82.7" y1="850.2" x2="82.7" y2="856.4" stroke="#111" stroke-width="1.3"/>
<text transform="translate(84.7 865.5) rotate(-45)" font-size="9.4" font-weight="bold" text-anchor="end" fill="#111">6am</text>
<line x1="101.1" y1="850.2" x2="101.1" y2="856.4" stroke="#111" stroke-width="1.3"/>
<text transform="translate(103.1 865.5) rotate(-45)" font-size="9.4" font-weight="bold" text-anchor="end" fill="#111">12pm</text>
<line x1="119.5" y1="850.2" x2="119.5" y2="856.4" stroke="#111" stroke-width="1.3"/>
<text transform="translate(121.5 865.5) rotate(-45)" font-size="9.4" font-weight="bold" text-anchor="end" fill="#111">6pm</text>
<line x1="137.9" y1="850.2" x2="137.9" y2="856.4" stroke="#111" stroke-width="1.3"/>
<text transform="translate(139.9 865.5) rotate(-45)" font-size="9.4" font-weight="bold" text-anchor="end" fill="#111">12am</text>
<line x1="156.3" y1="850.2" x2="156.3" y2="856.4" stroke="#111" stroke-width="1.3"/>
<text transform="translate(158.3 865.5) rotate(-45)" font-size="9.4" font-weight="bold" text-anchor="end" fill="#111">6am</text>
<line x1="174.7" y1="850.2" x2="174.7" y2="856.4" stroke="#111" stroke-width="1.3"/>
<text transform="translate(176.7 865.5) rotate(-45)" font-size="9.4" font-weight="bold" text-anchor="end" fill="#111">12pm</text>
<line x1="193.1" y1="850.2" x2="193.1" y2="856.4" stroke="#111" stroke-width="1.3"/>
<text transform="translate(195.1 865.5) rotate(-45)" font-size="9.4" font-weight="bold" text-anchor="end" fill="#111">6pm</text>
<line x1="211.5" y1="850.2" x2="211.5" y2="856.4" stroke="#111" stroke-width="1.3"/>
<text transform="translate(213.5 865.5) rotate(-45)" font-size="9.4" font-weight="bold" text-anchor="end" fill="#111">12am</text>
<line x1="229.9" y1="850.2" x2="229.9" y2="856.4" stroke="#111" stroke-width="1.3"/>
<text transform="translate(231.9 865.5) rotate(-45)" font-size="9.4" font-weight="bold" text-anchor="end" fill="#111">6am</text>
<line x1="248.3" y1="850.2" x2="248.3" y2="856.4" stroke="#111" stroke-width="1.3"/>
<text transform="translate(250.3 865.5) rotate(-45)" font-size="9.4" font-weight="bold" text-anchor="end" fill="#111">12pm</text>
<line x1="266.7" y1="850.2" x2="266.7" y2="856.4" stroke="#111" stroke-width="1.3"/>
<text transform="translate(268.7 865.5) rotate(-45)" font-size="9.4" font-weight="bold" text-anchor="end" fill="#111">6pm</text>
<polygon points="67.5,795.66 68.12,797.15 69.73,797.28 68.5,798.33 68.88,799.89 67.5,799.05 66.12,799.89 66.5,798.33 65.27,797.28 66.88,797.15" fill="#222"/>
<polygon points="83.4,801.06 84.02,802.55 85.63,802.68 84.4,803.73 84.78,805.29 83.4,804.45 82.02,805.29 82.4,803.73 81.17,802.68 82.78,802.55" fill="#222"/>
<polygon points="86,807.26 86.62,808.75 88.23,808.88 87,809.93 87.38,811.49 86,810.65 84.62,811.49 85,809.93 83.77,808.88 85.38,808.75" fill="#222"/>
<polygon points="131.7,794.66 132.32,796.15 133.93,796.28 132.7,797.33 133.08,798.89 131.7,798.05 130.32,798.89 130.7,797.33 129.47,796.28 131.08,796.15" fill="#222"/>
<polygon points="135.5,791.06 136.12,792.55 137.73,792.68 136.5,793.73 136.88,795.29 135.5,794.45 134.12,795.29 134.5,793.73 133.27,792.68 134.88,792.55" fill="#222"/>
<polygon points="140.7,784.46 141.32,785.95 142.93,786.08 141.7,787.13 142.08,788.69 140.7,787.85 139.32,788.69 139.7,787.13 138.47,786.08 140.08,785.95" fill="#222"/>
<polygon points="144.2,788.36 144.82,789.85 146.43,789.98 145.2,791.03 145.58,792.59 144.2,791.75 142.82,792.59 143.2,791.03 141.97,789.98 143.58,789.85" fill="#222"/>
<polygon points="150.4,778.16 151.02,779.65 152.63,779.78 151.4,780.83 151.78,782.39 150.4,781.55 149.02,782.39 149.4,780.83 148.17,779.78 149.78,779.65" fill="#222"/>
<polygon points="153.8,781.96 154.42,783.45 156.03,783.58 154.8,784.63 155.18,786.19 153.8,785.35 152.42,786.19 152.8,784.63 151.57,783.58 153.18,783.45" fill="#222"/>
<polygon points="156.3,791.46 156.92,792.95 158.53,793.08 157.3,794.13 157.68,795.69 156.3,794.85 154.92,795.69 155.3,794.13 154.07,793.08 155.68,792.95" fill="#222"/>
<polygon points="162.1,795.16 162.72,796.65 164.33,796.78 163.1,797.83 163.48,799.39 162.1,798.55 160.72,799.39 161.1,797.83 159.87,796.78 161.48,796.65" fill="#222"/>
<polygon points="165.2,808.46 165.82,809.95 167.43,810.08 166.2,811.13 166.58,812.69 165.2,811.85 163.82,812.69 164.2,811.13 162.97,810.08 164.58,809.95" fill="#222"/>
<polygon points="221,802.96 221.62,804.45 223.23,804.58 222,805.63 222.38,807.19 221,806.35 219.62,807.19 220,805.63 218.77,804.58 220.38,804.45" fill="#222"/>
<polygon points="245,806.26 245.62,807.75 247.23,807.88 246,808.93 246.38,810.49 245,809.65 243.62,810.49 244,808.93 242.77,807.88 244.38,807.75" fill="#222"/>
<line x1="202.4" y1="801.4" x2="236.9" y2="801.4" stroke="#444" stroke-width="1"/>
<path d="M268.3 792.7 H271.6 V810.2 H268.3" fill="none" stroke="#444" stroke-width="1.1"/>
<text x="273.6" y="806.5" font-size="10" font-weight="normal" text-anchor="start" fill="#111" font-style="normal" stroke="#111" stroke-width="0.3">##</text>
<line x1="102.3" y1="698.3" x2="118.1" y2="698.3" stroke="#333" stroke-width="1"/>
<circle cx="110.3" cy="698.3" r="2.4" fill="#333"/>
<line x1="151.1" y1="698.3" x2="166.9" y2="698.3" stroke="#333" stroke-width="1"/>
<circle cx="159.3" cy="698.3" r="2.2" fill="#fff" stroke="#222" stroke-width="1.1"/>
<text x="127" y="701.7" font-size="9.4" font-weight="normal" text-anchor="start" fill="#222" font-style="normal" textLength="14.2" lengthAdjust="spacingAndGlyphs">WT</text>
<text x="175.8" y="701.7" font-size="9.4" font-weight="normal" text-anchor="start" fill="#222" font-style="normal" textLength="29" lengthAdjust="spacingAndGlyphs">&#916;rs961</text>
<text transform="translate(12.1 776) rotate(-90)" x="0" y="0" font-size="12" font-weight="bold" text-anchor="middle" fill="#111" font-style="normal" textLength="76.9" lengthAdjust="spacingAndGlyphs">MAP (mmHg)</text>
<text x="155.6" y="900.8" font-size="9" font-weight="bold" text-anchor="middle" fill="#111" font-style="normal" textLength="49.9" lengthAdjust="spacingAndGlyphs">Time of day</text>
<rect x="337.2" y="812" width="8.9" height="30.3" fill="#fff" stroke="#333" stroke-width="1"/>
<rect x="350.8" y="815.79" width="9" height="26.51" fill="#999" stroke="#333" stroke-width="1"/>
<rect x="373.4" y="756.25" width="8.6" height="86.05" fill="#fff" stroke="#333" stroke-width="1"/>
<rect x="387.1" y="792.91" width="8.5" height="49.39" fill="#999" stroke="#333" stroke-width="1"/>
<line x1="341.65" y1="812" x2="341.65" y2="810.18" stroke="#666" stroke-width="0.9"/>
<line x1="339.15" y1="810.18" x2="344.15" y2="810.18" stroke="#666" stroke-width="0.9"/>
<line x1="355.3" y1="815.79" x2="355.3" y2="813.67" stroke="#666" stroke-width="0.9"/>
<line x1="352.8" y1="813.67" x2="357.8" y2="813.67" stroke="#666" stroke-width="0.9"/>
<line x1="377.7" y1="756.25" x2="377.7" y2="747.16" stroke="#666" stroke-width="0.9"/>
<line x1="375.2" y1="747.16" x2="380.2" y2="747.16" stroke="#666" stroke-width="0.9"/>
<line x1="391.35" y1="792.91" x2="391.35" y2="783.52" stroke="#666" stroke-width="0.9"/>
<line x1="388.85" y1="783.52" x2="393.85" y2="783.52" stroke="#666" stroke-width="0.9"/>
<circle cx="339.5" cy="811.09" r="1.1" fill="#fff" stroke="#333" stroke-width="0.7"/>
<circle cx="341.6" cy="808.06" r="1.1" fill="#fff" stroke="#333" stroke-width="0.7"/>
<circle cx="343.7" cy="812" r="1.1" fill="#fff" stroke="#333" stroke-width="0.7"/>
<circle cx="341.6" cy="812.91" r="1.1" fill="#fff" stroke="#333" stroke-width="0.7"/>
<circle cx="339.6" cy="813.51" r="1.1" fill="#fff" stroke="#333" stroke-width="0.7"/>
<circle cx="343.5" cy="813.51" r="1.1" fill="#fff" stroke="#333" stroke-width="0.7"/>
<circle cx="352.3" cy="809.58" r="1.2" fill="#111"/>
<circle cx="355.2" cy="811.09" r="1.2" fill="#111"/>
<circle cx="358.2" cy="809.88" r="1.2" fill="#111"/>
<circle cx="352.5" cy="815.03" r="1.2" fill="#111"/>
<circle cx="355.4" cy="815.64" r="1.2" fill="#111"/>
<circle cx="358" cy="816.54" r="1.2" fill="#111"/>
<circle cx="352.6" cy="821.09" r="1.2" fill="#111"/>
<circle cx="355.1" cy="820.48" r="1.2" fill="#111"/>
<circle cx="357.8" cy="821.7" r="1.2" fill="#111"/>
<circle cx="354" cy="813.21" r="1.2" fill="#111"/>
<circle cx="377.7" cy="730.19" r="1.1" fill="#fff" stroke="#333" stroke-width="0.7"/>
<circle cx="377.7" cy="757.46" r="1.1" fill="#fff" stroke="#333" stroke-width="0.7"/>
<circle cx="377.7" cy="765.03" r="1.1" fill="#fff" stroke="#333" stroke-width="0.7"/>
<circle cx="377.7" cy="770.49" r="1.1" fill="#fff" stroke="#333" stroke-width="0.7"/>
<circle cx="391.3" cy="762" r="1.2" fill="#111"/>
<circle cx="391.3" cy="781.7" r="1.2" fill="#111"/>
<circle cx="391.3" cy="799.88" r="1.2" fill="#111"/>
<circle cx="391.3" cy="807.45" r="1.2" fill="#111"/>
<circle cx="391.3" cy="813.51" r="1.2" fill="#111"/>
<path d="M332.5 690.5 L332.5 842.3 L400.3 842.3" fill="none" stroke="#222" stroke-width="1"/>
<line x1="329.5" y1="842.3" x2="332.5" y2="842.3" stroke="#222" stroke-width="1"/>
<text x="328" y="846.1" font-size="10.5" font-weight="bold" text-anchor="end" fill="#111" font-style="normal">0</text>
<line x1="329.5" y1="812" x2="332.5" y2="812" stroke="#222" stroke-width="1"/>
<text x="328" y="815.8" font-size="10.5" font-weight="bold" text-anchor="end" fill="#111" font-style="normal">1</text>
<line x1="329.5" y1="781.7" x2="332.5" y2="781.7" stroke="#222" stroke-width="1"/>
<text x="328" y="785.5" font-size="10.5" font-weight="bold" text-anchor="end" fill="#111" font-style="normal">2</text>
<line x1="329.5" y1="751.4" x2="332.5" y2="751.4" stroke="#222" stroke-width="1"/>
<text x="328" y="755.2" font-size="10.5" font-weight="bold" text-anchor="end" fill="#111" font-style="normal">3</text>
<line x1="329.5" y1="721.1" x2="332.5" y2="721.1" stroke="#222" stroke-width="1"/>
<text x="328" y="724.9" font-size="10.5" font-weight="bold" text-anchor="end" fill="#111" font-style="normal">4</text>
<line x1="329.5" y1="690.8" x2="332.5" y2="690.8" stroke="#222" stroke-width="1"/>
<text x="328" y="694.6" font-size="10.5" font-weight="bold" text-anchor="end" fill="#111" font-style="normal">5</text>
<line x1="348.4" y1="842.3" x2="348.4" y2="845.1" stroke="#222" stroke-width="1"/>
<line x1="384.5" y1="842.3" x2="384.5" y2="845.1" stroke="#222" stroke-width="1"/>
<text transform="translate(352.8 853.3) rotate(-45)" font-size="11.9" font-weight="bold" text-anchor="end" fill="#111">Normal Salt</text>
<text transform="translate(388.6 854.6) rotate(-45)" font-size="11.7" font-weight="bold" text-anchor="end" fill="#111">High Salt</text>
<line x1="341.9" y1="722" x2="377.7" y2="722" stroke="#888" stroke-width="1.2"/>
<polygon points="359.4,715.44 359.97,716.81 361.45,716.93 360.32,717.9 360.67,719.35 359.4,718.57 358.13,719.35 358.48,717.9 357.35,716.93 358.83,716.81" fill="#222"/>
<line x1="355.1" y1="711.6" x2="390.9" y2="711.6" stroke="#888" stroke-width="1.2"/>
<polygon points="373,705.74 373.57,707.11 375.05,707.23 373.92,708.2 374.27,709.65 373,708.87 371.73,709.65 372.08,708.2 370.95,707.23 372.43,707.11" fill="#222"/>
<line x1="377.7" y1="696.4" x2="390.9" y2="696.4" stroke="#333" stroke-width="1.2"/>
<polygon points="384.7,690.04 385.27,691.41 386.75,691.53 385.62,692.5 385.97,693.95 384.7,693.17 383.43,693.95 383.78,692.5 382.65,691.53 384.13,691.41" fill="#222"/>
<circle cx="397.1" cy="693.6" r="1.2" fill="#fff" stroke="#333" stroke-width="0.7"/>
<circle cx="397.1" cy="703.5" r="1.3" fill="#111"/>
<text x="402.5" y="697.2" font-size="11" font-weight="normal" text-anchor="start" fill="#222" font-style="normal" textLength="16" lengthAdjust="spacingAndGlyphs">WT</text>
<text x="402.2" y="707.2" font-size="11" font-weight="normal" text-anchor="start" fill="#222" font-style="normal" textLength="32.9" lengthAdjust="spacingAndGlyphs">&#916;rs961</text>
<text transform="translate(306.9 761.7) rotate(-90)" font-size="11.8" font-weight="bold" text-anchor="middle" fill="#111" textLength="167.3" lengthAdjust="spacingAndGlyphs"><tspan font-style="italic">Nrip1</tspan> mRNA (fold, normal salt</text>
<text transform="translate(320.4 761.3) rotate(-90)" x="0" y="0" font-size="11.8" font-weight="bold" text-anchor="middle" fill="#111" font-style="normal" textLength="51.3" lengthAdjust="spacingAndGlyphs">WT as 1)</text>
<line x1="485" y1="842.85" x2="485" y2="845.21" stroke="#8a8a8a" stroke-width="0.9"/>
<line x1="483" y1="842.85" x2="487" y2="842.85" stroke="#8a8a8a" stroke-width="0.9"/>
<line x1="483" y1="845.21" x2="487" y2="845.21" stroke="#8a8a8a" stroke-width="0.9"/>
<line x1="520.8" y1="822.09" x2="520.8" y2="838.58" stroke="#8a8a8a" stroke-width="0.9"/>
<line x1="518.8" y1="822.09" x2="522.8" y2="822.09" stroke="#8a8a8a" stroke-width="0.9"/>
<line x1="518.8" y1="838.58" x2="522.8" y2="838.58" stroke="#8a8a8a" stroke-width="0.9"/>
<line x1="556.6" y1="801.92" x2="556.6" y2="823.41" stroke="#8a8a8a" stroke-width="0.9"/>
<line x1="554.6" y1="801.92" x2="558.6" y2="801.92" stroke="#8a8a8a" stroke-width="0.9"/>
<line x1="554.6" y1="823.41" x2="558.6" y2="823.41" stroke="#8a8a8a" stroke-width="0.9"/>
<line x1="592.4" y1="759.95" x2="592.4" y2="786.46" stroke="#8a8a8a" stroke-width="0.9"/>
<line x1="590.4" y1="759.95" x2="594.4" y2="759.95" stroke="#8a8a8a" stroke-width="0.9"/>
<line x1="590.4" y1="786.46" x2="594.4" y2="786.46" stroke="#8a8a8a" stroke-width="0.9"/>
<line x1="628.2" y1="713.42" x2="628.2" y2="741.69" stroke="#8a8a8a" stroke-width="0.9"/>
<line x1="626.2" y1="713.42" x2="630.2" y2="713.42" stroke="#8a8a8a" stroke-width="0.9"/>
<line x1="626.2" y1="741.69" x2="630.2" y2="741.69" stroke="#8a8a8a" stroke-width="0.9"/>
<line x1="664" y1="698.4" x2="664" y2="714.01" stroke="#8a8a8a" stroke-width="0.9"/>
<line x1="662" y1="698.4" x2="666" y2="698.4" stroke="#8a8a8a" stroke-width="0.9"/>
<line x1="662" y1="714.01" x2="666" y2="714.01" stroke="#8a8a8a" stroke-width="0.9"/>
<line x1="485" y1="845.72" x2="485" y2="848.08" stroke="#8a8a8a" stroke-width="0.9"/>
<line x1="483" y1="845.72" x2="487" y2="845.72" stroke="#8a8a8a" stroke-width="0.9"/>
<line x1="483" y1="848.08" x2="487" y2="848.08" stroke="#8a8a8a" stroke-width="0.9"/>
<line x1="520.8" y1="830.19" x2="520.8" y2="843.44" stroke="#8a8a8a" stroke-width="0.9"/>
<line x1="518.8" y1="830.19" x2="522.8" y2="830.19" stroke="#8a8a8a" stroke-width="0.9"/>
<line x1="518.8" y1="843.44" x2="522.8" y2="843.44" stroke="#8a8a8a" stroke-width="0.9"/>
<line x1="556.6" y1="811.19" x2="556.6" y2="831.22" stroke="#8a8a8a" stroke-width="0.9"/>
<line x1="554.6" y1="811.19" x2="558.6" y2="811.19" stroke="#8a8a8a" stroke-width="0.9"/>
<line x1="554.6" y1="831.22" x2="558.6" y2="831.22" stroke="#8a8a8a" stroke-width="0.9"/>
<line x1="592.4" y1="783.66" x2="592.4" y2="813.11" stroke="#8a8a8a" stroke-width="0.9"/>
<line x1="590.4" y1="783.66" x2="594.4" y2="783.66" stroke="#8a8a8a" stroke-width="0.9"/>
<line x1="590.4" y1="813.11" x2="594.4" y2="813.11" stroke="#8a8a8a" stroke-width="0.9"/>
<line x1="628.2" y1="749.2" x2="628.2" y2="766.28" stroke="#8a8a8a" stroke-width="0.9"/>
<line x1="626.2" y1="749.2" x2="630.2" y2="749.2" stroke="#8a8a8a" stroke-width="0.9"/>
<line x1="626.2" y1="766.28" x2="630.2" y2="766.28" stroke="#8a8a8a" stroke-width="0.9"/>
<line x1="664" y1="717.98" x2="664" y2="720.93" stroke="#8a8a8a" stroke-width="0.9"/>
<line x1="662" y1="717.98" x2="666" y2="717.98" stroke="#8a8a8a" stroke-width="0.9"/>
<line x1="662" y1="720.93" x2="666" y2="720.93" stroke="#8a8a8a" stroke-width="0.9"/>
<circle cx="485" cy="844.03" r="3.2" fill="#fff" stroke="#6a6a6a" stroke-width="0.9"/>
<circle cx="520.8" cy="830.34" r="3.2" fill="#fff" stroke="#6a6a6a" stroke-width="0.9"/>
<circle cx="556.6" cy="812.67" r="3.2" fill="#fff" stroke="#6a6a6a" stroke-width="0.9"/>
<circle cx="592.4" cy="773.2" r="3.2" fill="#fff" stroke="#6a6a6a" stroke-width="0.9"/>
<circle cx="628.2" cy="727.55" r="3.2" fill="#fff" stroke="#6a6a6a" stroke-width="0.9"/>
<circle cx="664" cy="706.2" r="3.2" fill="#fff" stroke="#6a6a6a" stroke-width="0.9"/>
<polyline points="485,845.93 486.49,845.7 487.98,845.45 489.48,845.2 490.97,844.94 492.46,844.68 493.95,844.4 495.44,844.12 496.93,843.83 498.43,843.53 499.92,843.22 501.41,842.9 502.9,842.57 504.39,842.24 505.88,841.89 507.38,841.54 508.87,841.17 510.36,840.79 511.85,840.4 513.34,840.01 514.83,839.59 516.33,839.17 517.82,838.74 519.31,838.29 520.8,837.84 522.29,837.36 523.78,836.88 525.27,836.38 526.77,835.87 528.26,835.35 529.75,834.81 531.24,834.26 532.73,833.69 534.23,833.11 535.72,832.51 537.21,831.89 538.7,831.26 540.19,830.62 541.68,829.96 543.17,829.28 544.67,828.58 546.16,827.87 547.65,827.14 549.14,826.39 550.63,825.62 552.12,824.84 553.62,824.04 555.11,823.21 556.6,822.37 558.09,821.51 559.58,820.63 561.08,819.73 562.57,818.81 564.06,817.87 565.55,816.91 567.04,815.93 568.53,814.93 570.02,813.91 571.52,812.87 573.01,811.81 574.5,810.72 575.99,809.62 577.48,808.49 578.98,807.35 580.47,806.18 581.96,804.99 583.45,803.78 584.94,802.55 586.43,801.3 587.92,800.03 589.42,798.74 590.91,797.42 592.4,796.09 593.89,794.74 595.38,793.37 596.88,791.98 598.37,790.57 599.86,789.14 601.35,787.7 602.84,786.23 604.33,784.75 605.83,783.26 607.32,781.74 608.81,780.21 610.3,778.67 611.79,777.11 613.28,775.53 614.77,773.95 616.27,772.35 617.76,770.73 619.25,769.11 620.74,767.48 622.23,765.83 623.73,764.18 625.22,762.52 626.71,760.85 628.2,759.17 629.69,757.49 631.18,755.8 632.67,754.11 634.17,752.41 635.66,750.72 637.15,749.02 638.64,747.31 640.13,745.61 641.62,743.91 643.12,742.22 644.61,740.52 646.1,738.83 647.59,737.14 649.08,735.46 650.58,733.78 652.07,732.11 653.56,730.45 655.05,728.8 656.54,727.15 658.03,725.52 659.52,723.9 661.02,722.28 662.51,720.68 664,719.1" fill="none" stroke="#222" stroke-width="1.1"/>
<polyline points="485,841.73 486.49,841.54 487.98,841.34 489.48,841.14 490.97,840.92 492.46,840.69 493.95,840.45 495.44,840.2 496.93,839.94 498.43,839.67 499.92,839.38 501.41,839.08 502.9,838.76 504.39,838.43 505.88,838.09 507.38,837.73 508.87,837.35 510.36,836.96 511.85,836.54 513.34,836.11 514.83,835.66 516.33,835.19 517.82,834.7 519.31,834.19 520.8,833.65 522.29,833.09 523.78,832.51 525.27,831.9 526.77,831.27 528.26,830.61 529.75,829.92 531.24,829.21 532.73,828.46 534.23,827.69 535.72,826.89 537.21,826.05 538.7,825.19 540.19,824.29 541.68,823.36 543.17,822.39 544.67,821.39 546.16,820.36 547.65,819.29 549.14,818.18 550.63,817.04 552.12,815.86 553.62,814.65 555.11,813.39 556.6,812.1 558.09,810.78 559.58,809.41 561.08,808.01 562.57,806.58 564.06,805.1 565.55,803.6 567.04,802.05 568.53,800.48 570.02,798.87 571.52,797.23 573.01,795.55 574.5,793.85 575.99,792.12 577.48,790.36 578.98,788.58 580.47,786.77 581.96,784.95 583.45,783.1 584.94,781.23 586.43,779.35 587.92,777.46 589.42,775.56 590.91,773.64 592.4,771.72 593.89,769.8 595.38,767.87 596.88,765.95 598.37,764.03 599.86,762.11 601.35,760.2 602.84,758.31 604.33,756.42 605.83,754.55 607.32,752.7 608.81,750.86 610.3,749.05 611.79,747.26 613.28,745.49 614.77,743.75 616.27,742.04 617.76,740.35 619.25,738.7 620.74,737.08 622.23,735.49 623.73,733.93 625.22,732.41 626.71,730.93 628.2,729.48 629.69,728.07 631.18,726.69 632.67,725.35 634.17,724.05 635.66,722.78 637.15,721.55 638.64,720.36 640.13,719.2 641.62,718.09 643.12,717 644.61,715.96 646.1,714.94 647.59,713.97 649.08,713.02 650.58,712.11 652.07,711.24 653.56,710.39 655.05,709.58 656.54,708.79 658.03,708.04 659.52,707.31 661.02,706.62 662.51,705.95 664,705.31" fill="none" stroke="#222" stroke-width="1.1"/>
<circle cx="485" cy="846.9" r="3.3" fill="#000"/>
<circle cx="520.8" cy="836.81" r="3.3" fill="#000"/>
<circle cx="556.6" cy="821.21" r="3.3" fill="#000"/>
<circle cx="592.4" cy="798.38" r="3.3" fill="#000"/>
<circle cx="628.2" cy="757.74" r="3.3" fill="#000"/>
<circle cx="664" cy="719.46" r="3.3" fill="#000"/>
<path d="M485 693.1 L485 848.8 L664.5 848.8" fill="none" stroke="#111" stroke-width="1.4"/>
<line x1="478.8" y1="848.3" x2="485" y2="848.3" stroke="#111" stroke-width="1.3"/>
<text x="476.4" y="852.2" font-size="11.2" font-weight="bold" text-anchor="end" fill="#111" font-style="normal">0</text>
<line x1="478.8" y1="818.85" x2="485" y2="818.85" stroke="#111" stroke-width="1.3"/>
<text x="476.4" y="822.75" font-size="11.2" font-weight="bold" text-anchor="end" fill="#111" font-style="normal">20</text>
<line x1="478.8" y1="789.4" x2="485" y2="789.4" stroke="#111" stroke-width="1.3"/>
<text x="476.4" y="793.3" font-size="11.2" font-weight="bold" text-anchor="end" fill="#111" font-style="normal">40</text>
<line x1="478.8" y1="759.95" x2="485" y2="759.95" stroke="#111" stroke-width="1.3"/>
<text x="476.4" y="763.85" font-size="11.2" font-weight="bold" text-anchor="end" fill="#111" font-style="normal">60</text>
<line x1="478.8" y1="730.5" x2="485" y2="730.5" stroke="#111" stroke-width="1.3"/>
<text x="476.4" y="734.4" font-size="11.2" font-weight="bold" text-anchor="end" fill="#111" font-style="normal">80</text>
<line x1="478.8" y1="701.05" x2="485" y2="701.05" stroke="#111" stroke-width="1.3"/>
<text x="476.4" y="704.95" font-size="11.2" font-weight="bold" text-anchor="end" fill="#111" font-style="normal">100</text>
<line x1="485" y1="848.8" x2="485" y2="854.4" stroke="#111" stroke-width="1.3"/>
<text x="485" y="868" font-size="11.2" font-weight="bold" text-anchor="middle" fill="#111" font-style="normal">-10</text>
<line x1="520.8" y1="848.8" x2="520.8" y2="854.4" stroke="#111" stroke-width="1.3"/>
<text x="520.8" y="868" font-size="11.2" font-weight="bold" text-anchor="middle" fill="#111" font-style="normal">-9</text>
<line x1="556.6" y1="848.8" x2="556.6" y2="854.4" stroke="#111" stroke-width="1.3"/>
<text x="556.6" y="868" font-size="11.2" font-weight="bold" text-anchor="middle" fill="#111" font-style="normal">-8</text>
<line x1="592.4" y1="848.8" x2="592.4" y2="854.4" stroke="#111" stroke-width="1.3"/>
<text x="592.4" y="868" font-size="11.2" font-weight="bold" text-anchor="middle" fill="#111" font-style="normal">-7</text>
<line x1="628.2" y1="848.8" x2="628.2" y2="854.4" stroke="#111" stroke-width="1.3"/>
<text x="628.2" y="868" font-size="11.2" font-weight="bold" text-anchor="middle" fill="#111" font-style="normal">-6</text>
<line x1="664" y1="848.8" x2="664" y2="854.4" stroke="#111" stroke-width="1.3"/>
<text x="664" y="868" font-size="11.2" font-weight="bold" text-anchor="middle" fill="#111" font-style="normal">-5</text>
<polygon points="592.4,752.06 593.02,753.55 594.63,753.68 593.4,754.73 593.78,756.29 592.4,755.45 591.02,756.29 591.4,754.73 590.17,753.68 591.78,753.55" fill="#222"/>
<polygon points="628.2,704.96 628.82,706.45 630.43,706.58 629.2,707.63 629.58,709.19 628.2,708.35 626.82,709.19 627.2,707.63 625.97,706.58 627.58,706.45" fill="#222"/>
<polygon points="664,690.86 664.62,692.35 666.23,692.48 665,693.53 665.38,695.09 664,694.25 662.62,695.09 663,693.53 661.77,692.48 663.38,692.35" fill="#222"/>
<path d="M669.3 703.9 H672.6 V717.1 H669.3" fill="none" stroke="#444" stroke-width="1.1"/>
<text x="673.9" y="715.3" font-size="10" font-weight="normal" text-anchor="start" fill="#111" font-style="normal" stroke="#111" stroke-width="0.3">##</text>
<line x1="613.3" y1="808" x2="630" y2="808" stroke="#333" stroke-width="1.1"/>
<circle cx="621.4" cy="808" r="3.3" fill="#000"/>
<line x1="613.3" y1="829.7" x2="630" y2="829.7" stroke="#333" stroke-width="1.1"/>
<circle cx="621.4" cy="829.7" r="3.1" fill="#fff" stroke="#444" stroke-width="0.9"/>
<text x="639" y="812.3" font-size="12" font-weight="normal" text-anchor="start" fill="#222" font-style="normal" textLength="19.3" lengthAdjust="spacingAndGlyphs">WT</text>
<text x="639" y="834" font-size="12" font-weight="normal" text-anchor="start" fill="#222" font-style="normal" textLength="39.6" lengthAdjust="spacingAndGlyphs">&#916;rs961</text>
<text transform="translate(451.2 771.5) rotate(-90)" x="0" y="0" font-size="13" font-weight="bold" text-anchor="middle" fill="#111" font-style="normal" textLength="91.3" lengthAdjust="spacingAndGlyphs">% Vasodilation</text>
<text x="574.6" y="887.2" font-size="12.7" font-weight="bold" text-anchor="middle" fill="#111" font-style="normal" textLength="166.4" lengthAdjust="spacingAndGlyphs">Log [spermine NONOate] M</text>
</svg></body></html>
